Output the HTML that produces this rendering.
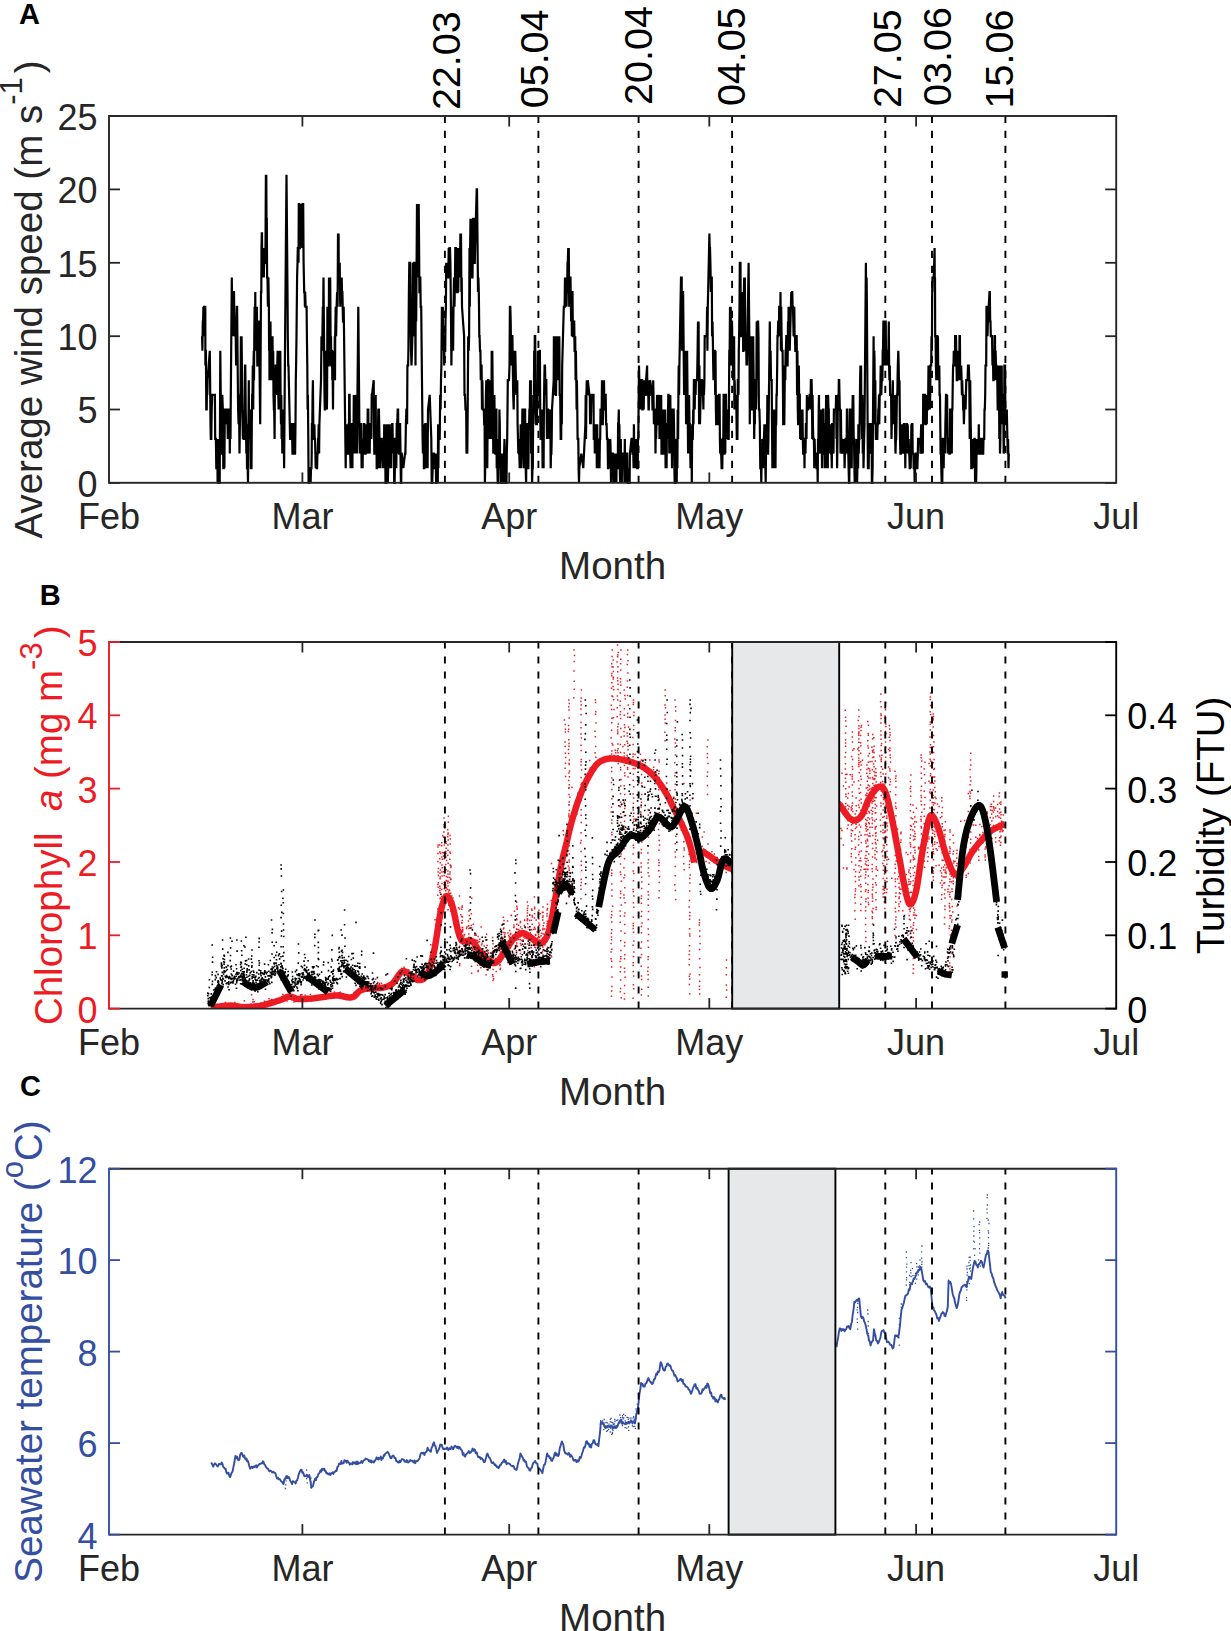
<!DOCTYPE html>
<html><head><meta charset="utf-8"><style>html,body{margin:0;padding:0;background:#fff;overflow:hidden}svg{display:block}text{font-family:"Liberation Sans",sans-serif}</style></head><body>
<svg width="1231" height="1631" viewBox="0 0 1231 1631" font-family="Liberation Sans, sans-serif">
<rect width="1231" height="1631" fill="#fff"/>
<defs><clipPath id="ca"><rect x="109.0" y="116.0" width="1007.2" height="366.8"/></clipPath>
<clipPath id="cb"><rect x="109.0" y="642.0" width="1007.2" height="366.6"/></clipPath>
<clipPath id="cc"><rect x="109.0" y="1168.7" width="1007.2" height="365.9"/></clipPath></defs>
<path d="M202.1 336.2 L202.4 350.8 L202.8 321.5 L203.1 321.5 L203.4 306.8 L203.8 336.2 L204.1 306.8 L204.4 306.8 L204.8 306.8 L205.1 306.8 L205.3 306.8 L205.4 365.5 L205.5 350.8 L205.9 350.8 L206.3 409.5 L206.7 409.5 L207.0 380.2 L207.3 394.9 L207.6 380.2 L209.8 350.8 L210.1 380.2 L210.5 424.2 L210.8 438.9 L211.3 438.9 L211.7 409.5 L212.2 394.9 L214.2 394.9 L214.6 394.9 L214.9 394.9 L215.2 438.9 L215.6 438.9 L215.9 438.9 L216.3 468.2 L216.6 468.2 L216.9 468.2 L217.3 438.9 L217.6 482.9 L217.9 438.9 L218.3 482.9 L218.8 482.9 L219.2 482.9 L219.7 482.9 L220.3 350.8 L221.3 453.6 L221.7 453.6 L222.0 438.9 L222.3 394.9 L222.8 409.5 L223.3 468.2 L223.7 468.2 L224.1 438.9 L224.4 468.2 L224.8 409.5 L226.4 409.5 L226.8 424.2 L227.3 409.5 L227.8 438.9 L228.1 409.5 L228.5 409.5 L228.8 409.5 L229.1 424.2 L229.5 409.5 L229.8 453.6 L230.2 409.5 L230.5 438.9 L230.8 394.9 L231.8 277.5 L232.1 306.8 L232.4 336.2 L232.7 321.5 L233.0 336.2 L233.3 321.5 L233.7 292.1 L234.0 292.1 L234.3 321.5 L234.7 321.5 L234.9 336.2 L235.2 321.5 L235.5 336.2 L235.7 336.2 L235.9 350.8 L236.1 365.5 L236.4 321.5 L236.8 306.8 L237.1 306.8 L238.1 409.5 L238.6 424.2 L239.1 409.5 L239.5 453.6 L239.9 424.2 L240.2 394.9 L240.5 394.9 L240.9 336.2 L241.2 350.8 L241.6 336.2 L241.9 365.5 L242.2 409.5 L242.6 424.2 L242.9 438.9 L243.2 424.2 L243.6 438.9 L244.1 438.9 L244.5 409.5 L245.0 365.5 L245.3 365.5 L245.7 409.5 L246.0 424.2 L246.3 453.6 L246.7 424.2 L247.0 468.2 L247.4 468.2 L247.7 468.2 L248.0 482.9 L248.8 380.2 L249.0 438.9 L249.3 424.2 L249.5 438.9 L249.8 424.2 L250.1 424.2 L250.5 409.5 L250.8 468.2 L251.1 468.2 L251.5 468.2 L251.8 424.2 L252.2 394.9 L252.5 394.9 L252.8 365.5 L253.2 409.5 L253.5 365.5 L253.8 350.8 L254.0 380.2 L254.3 336.2 L254.6 306.8 L255.0 336.2 L255.3 292.1 L255.5 350.8 L255.7 321.5 L255.9 350.8 L256.3 321.5 L256.6 321.5 L256.9 306.8 L257.3 365.5 L257.6 365.5 L258.0 365.5 L258.3 321.5 L258.6 321.5 L259.0 321.5 L260.2 424.2 L261.0 292.1 L261.3 292.1 L261.5 248.1 L261.8 233.4 L262.0 233.4 L262.2 262.8 L262.4 277.5 L262.7 262.8 L263.1 277.5 L263.4 248.1 L263.8 277.5 L264.1 262.8 L264.4 262.8 L264.9 262.8 L265.4 262.8 L265.9 174.7 L266.1 233.4 L266.3 174.7 L266.5 218.8 L266.8 218.8 L267.1 277.5 L267.5 277.5 L267.9 306.8 L268.4 277.5 L268.9 306.8 L269.1 350.8 L269.3 321.5 L269.5 380.2 L269.8 350.8 L270.2 365.5 L270.5 321.5 L270.8 380.2 L271.2 350.8 L271.5 365.5 L271.9 350.8 L272.2 350.8 L272.5 336.2 L272.9 380.2 L273.2 350.8 L273.5 394.9 L273.9 409.5 L274.2 409.5 L274.6 438.9 L274.9 380.2 L275.2 394.9 L275.6 365.5 L275.9 365.5 L276.2 365.5 L276.6 380.2 L276.9 394.9 L277.3 365.5 L277.6 350.8 L277.9 365.5 L278.3 394.9 L278.6 409.5 L278.9 380.2 L279.3 365.5 L279.6 350.8 L280.0 380.2 L280.3 350.8 L280.6 394.9 L281.0 424.2 L281.3 394.9 L281.6 438.9 L282.0 424.2 L282.3 453.6 L282.7 409.5 L283.1 424.2 L283.6 409.5 L284.1 468.2 L285.1 336.2 L286.5 174.7 L287.5 292.1 L287.8 336.2 L288.2 365.5 L288.5 365.5 L290.1 438.9 L290.5 438.9 L290.8 424.2 L291.2 424.2 L291.5 424.2 L291.8 424.2 L292.2 438.9 L292.5 453.6 L292.8 453.6 L293.2 424.2 L293.5 424.2 L293.9 424.2 L294.2 438.9 L294.5 453.6 L294.8 453.6 L295.1 453.6 L295.5 424.2 L295.8 380.2 L296.1 365.5 L296.5 336.2 L296.8 306.8 L297.1 277.5 L297.5 262.8 L297.8 248.1 L298.2 248.1 L298.5 262.8 L298.8 204.1 L299.2 204.1 L299.5 248.1 L299.8 248.1 L300.2 233.4 L300.5 218.8 L300.9 218.8 L301.2 204.1 L301.5 218.8 L301.9 233.4 L302.2 248.1 L302.5 204.1 L302.9 204.1 L303.2 204.1 L303.6 262.8 L303.9 277.5 L304.2 292.1 L304.6 292.1 L304.9 306.8 L305.2 292.1 L305.6 306.8 L305.9 306.8 L306.3 306.8 L306.6 306.8 L306.9 336.2 L307.3 365.5 L307.6 409.5 L307.9 394.9 L308.3 438.9 L308.6 482.9 L309.0 482.9 L309.3 468.2 L309.6 482.9 L310.0 468.2 L310.3 468.2 L310.6 482.9 L311.0 468.2 L311.3 468.2 L311.5 468.2 L311.7 453.6 L311.9 424.2 L312.3 424.2 L312.6 394.9 L312.9 380.2 L313.4 438.9 L313.9 438.9 L314.4 424.2 L314.7 438.9 L315.0 438.9 L315.4 453.6 L315.7 468.2 L316.0 453.6 L316.4 453.6 L316.7 468.2 L317.1 468.2 L317.4 453.6 L317.7 453.6 L318.1 438.9 L318.4 438.9 L318.7 424.2 L319.1 453.6 L319.4 424.2 L321.0 380.2 L321.5 336.2 L322.0 350.8 L322.4 336.2 L322.8 306.8 L323.1 321.5 L323.5 277.5 L324.5 394.9 L324.8 409.5 L325.1 409.5 L325.5 350.8 L325.8 380.2 L326.2 365.5 L326.5 380.2 L326.7 380.2 L326.9 409.5 L327.1 394.9 L327.4 306.8 L327.6 365.5 L327.9 306.8 L328.2 336.2 L328.5 365.5 L328.7 365.5 L329.0 277.5 L329.3 306.8 L329.5 277.5 L329.9 306.8 L330.2 277.5 L330.5 321.5 L330.7 365.5 L331.0 336.2 L331.2 365.5 L331.4 365.5 L331.7 350.8 L332.0 350.8 L332.3 380.2 L332.6 365.5 L333.0 409.5 L333.2 380.2 L333.4 365.5 L333.6 350.8 L333.9 365.5 L334.3 365.5 L334.6 365.5 L334.8 336.2 L335.0 380.2 L335.2 336.2 L335.7 306.8 L336.1 336.2 L336.6 306.8 L337.1 292.1 L337.6 306.8 L338.0 233.4 L338.3 248.1 L338.6 233.4 L338.8 277.5 L339.1 262.8 L339.4 277.5 L339.7 262.8 L340.0 292.1 L340.3 306.8 L340.7 292.1 L341.0 277.5 L341.3 292.1 L341.7 277.5 L342.0 292.1 L342.4 292.1 L342.7 306.8 L343.0 321.5 L343.4 321.5 L343.7 306.8 L345.7 468.2 L346.1 424.2 L346.4 453.6 L346.7 424.2 L347.1 453.6 L347.4 453.6 L347.8 438.9 L348.1 453.6 L348.4 453.6 L348.8 424.2 L349.0 424.2 L349.2 394.9 L349.4 394.9 L349.6 394.9 L349.9 453.6 L350.2 453.6 L350.6 468.2 L351.0 424.2 L351.4 424.2 L351.7 424.2 L351.9 453.6 L352.2 438.9 L352.4 468.2 L352.6 438.9 L352.8 453.6 L353.2 424.2 L353.5 438.9 L353.8 394.9 L354.2 453.6 L354.5 394.9 L354.8 438.9 L355.2 394.9 L355.5 409.5 L355.9 394.9 L356.2 453.6 L356.5 394.9 L356.9 453.6 L358.3 306.8 L359.5 438.9 L359.8 453.6 L360.0 438.9 L360.3 424.2 L360.5 438.9 L360.7 424.2 L360.9 424.2 L361.2 424.2 L361.6 468.2 L361.9 453.6 L362.3 453.6 L362.6 468.2 L362.9 438.9 L363.3 453.6 L363.6 453.6 L363.9 424.2 L364.3 424.2 L364.6 453.6 L365.0 438.9 L365.3 453.6 L365.6 453.6 L366.0 424.2 L366.3 438.9 L366.6 453.6 L367.0 438.9 L367.3 453.6 L367.7 409.5 L368.0 409.5 L368.3 409.5 L368.7 453.6 L369.0 438.9 L369.3 438.9 L369.7 453.6 L370.0 424.2 L370.4 424.2 L370.7 424.2 L371.0 424.2 L371.4 438.9 L371.7 394.9 L372.0 394.9 L373.7 380.2 L374.0 424.2 L374.3 453.6 L374.7 453.6 L375.0 453.6 L375.4 438.9 L375.7 394.9 L376.0 453.6 L376.2 453.6 L376.5 438.9 L376.7 468.2 L376.9 468.2 L377.1 453.6 L377.4 424.2 L377.8 468.2 L378.1 424.2 L378.3 409.5 L378.4 438.9 L378.5 409.5 L378.9 409.5 L379.2 424.2 L379.5 438.9 L379.7 468.2 L379.9 453.6 L380.1 453.6 L380.5 468.2 L380.8 453.6 L381.2 438.9 L381.4 438.9 L381.6 438.9 L381.8 438.9 L382.2 453.6 L382.7 453.6 L383.2 468.2 L383.5 453.6 L383.9 468.2 L384.2 424.2 L384.5 438.9 L384.8 438.9 L385.1 438.9 L385.5 482.9 L385.8 482.9 L386.1 482.9 L386.5 424.2 L386.8 482.9 L387.1 424.2 L387.5 438.9 L387.8 482.9 L388.2 468.2 L388.5 424.2 L388.8 468.2 L389.2 424.2 L389.5 468.2 L389.8 438.9 L390.2 453.6 L390.5 468.2 L390.9 453.6 L391.2 468.2 L391.5 424.2 L391.9 438.9 L392.2 424.2 L392.5 424.2 L392.9 453.6 L393.2 438.9 L393.6 438.9 L393.9 453.6 L394.2 482.9 L394.6 482.9 L394.9 468.2 L395.2 438.9 L395.6 438.9 L395.9 453.6 L396.3 468.2 L396.7 424.2 L397.2 424.2 L397.7 409.5 L398.1 409.5 L398.5 453.6 L398.9 438.9 L399.2 453.6 L399.4 453.6 L399.7 424.2 L400.1 424.2 L400.5 453.6 L400.9 482.9 L401.2 482.9 L401.5 453.6 L401.7 453.6 L403.3 468.2 L405.0 453.6 L405.4 453.6 L405.9 424.2 L406.4 409.5 L406.7 409.5 L407.1 424.2 L407.4 365.5 L407.7 365.5 L408.1 365.5 L408.4 350.8 L408.9 292.1 L409.3 262.8 L409.8 262.8 L410.2 262.8 L410.6 321.5 L411.0 350.8 L411.5 365.5 L412.0 350.8 L412.4 336.2 L412.9 262.8 L413.4 336.2 L413.9 262.8 L414.1 262.8 L414.4 262.8 L414.7 277.5 L414.9 277.5 L415.2 306.8 L415.5 365.5 L415.8 277.5 L416.2 321.5 L416.5 277.5 L417.0 204.1 L417.4 277.5 L417.9 204.1 L418.3 233.4 L418.7 204.1 L419.1 248.1 L419.4 292.1 L419.7 292.1 L419.9 277.5 L420.3 277.5 L420.7 306.8 L421.2 306.8 L422.6 438.9 L422.9 453.6 L423.2 438.9 L423.6 424.2 L423.9 468.2 L424.3 468.2 L424.6 453.6 L424.9 468.2 L425.3 424.2 L425.6 424.2 L425.9 453.6 L426.3 468.2 L426.6 453.6 L427.1 438.9 L427.6 468.2 L428.0 409.5 L429.7 394.9 L431.3 438.9 L431.7 482.9 L432.2 482.9 L432.7 468.2 L433.0 453.6 L433.4 468.2 L433.7 453.6 L434.0 453.6 L434.4 468.2 L434.7 468.2 L435.1 453.6 L435.4 468.2 L435.7 453.6 L436.1 482.9 L436.4 482.9 L436.7 468.2 L437.1 468.2 L437.4 468.2 L437.8 482.9 L438.1 424.2 L438.4 468.2 L438.8 424.2 L439.2 438.9 L439.7 438.9 L440.2 394.9 L440.6 409.5 L441.0 380.2 L441.4 365.5 L441.9 306.8 L442.3 350.8 L442.8 306.8 L443.2 350.8 L443.5 336.2 L443.8 336.2 L444.2 365.5 L444.5 336.2 L444.8 350.8 L445.2 350.8 L445.5 321.5 L445.9 306.8 L446.2 262.8 L446.5 277.5 L446.9 262.8 L447.3 277.5 L447.8 277.5 L448.3 277.5 L448.7 248.1 L449.1 262.8 L449.5 248.1 L450.0 248.1 L450.4 262.8 L450.9 306.8 L451.4 365.5 L451.9 321.5 L452.3 350.8 L452.7 306.8 L453.1 350.8 L453.5 306.8 L454.0 277.5 L454.5 306.8 L455.0 277.5 L455.3 248.1 L455.6 248.1 L456.0 248.1 L456.3 292.1 L456.6 262.8 L457.0 292.1 L457.3 292.1 L457.7 292.1 L458.0 248.1 L458.3 292.1 L458.7 248.1 L459.0 277.5 L459.3 262.8 L459.7 277.5 L460.0 262.8 L460.4 233.4 L460.7 262.8 L461.0 233.4 L461.4 292.1 L461.7 277.5 L462.0 306.8 L464.1 336.2 L464.5 394.9 L465.0 394.9 L465.5 409.5 L465.8 409.5 L466.2 409.5 L466.5 453.6 L466.9 438.9 L467.3 453.6 L467.7 409.5 L468.2 336.2 L468.7 350.8 L469.1 336.2 L469.5 248.1 L469.8 306.8 L470.1 248.1 L470.5 218.8 L470.8 233.4 L471.2 218.8 L471.5 262.8 L471.8 248.1 L472.2 277.5 L472.5 277.5 L472.8 248.1 L473.2 218.8 L473.5 218.8 L473.9 218.8 L474.2 248.1 L474.5 262.8 L474.8 262.8 L475.1 248.1 L476.7 189.4 L477.0 189.4 L477.3 218.8 L477.6 248.1 L478.0 292.1 L478.4 277.5 L478.8 292.1 L479.0 306.8 L479.3 336.2 L479.6 336.2 L480.0 350.8 L480.4 350.8 L480.8 380.2 L481.1 365.5 L481.3 365.5 L481.6 365.5 L482.0 409.5 L482.4 380.2 L482.8 409.5 L483.3 409.5 L483.8 409.5 L484.2 424.2 L484.6 424.2 L484.9 482.9 L485.2 468.2 L485.6 424.2 L485.9 394.9 L486.3 380.2 L486.6 468.2 L486.9 380.2 L487.3 468.2 L487.6 424.2 L487.9 380.2 L488.3 380.2 L488.6 438.9 L489.0 394.9 L489.3 438.9 L489.6 424.2 L490.0 424.2 L490.3 380.2 L490.6 438.9 L491.0 424.2 L491.3 438.9 L491.7 350.8 L492.0 409.5 L492.3 350.8 L493.3 453.6 L493.7 438.9 L494.0 438.9 L494.4 394.9 L494.7 424.2 L495.0 438.9 L495.4 453.6 L495.7 453.6 L496.0 409.5 L496.4 409.5 L496.7 468.2 L497.1 438.9 L497.4 468.2 L497.7 482.9 L498.1 482.9 L498.4 453.6 L498.7 438.9 L499.1 453.6 L499.4 409.5 L499.8 424.2 L500.1 468.2 L500.4 453.6 L500.8 482.9 L501.1 482.9 L501.4 482.9 L501.8 482.9 L502.1 468.2 L502.4 453.6 L502.8 468.2 L503.1 482.9 L503.5 482.9 L503.8 468.2 L504.1 453.6 L504.5 438.9 L504.8 453.6 L505.1 482.9 L505.5 468.2 L505.8 482.9 L506.2 482.9 L506.5 482.9 L506.8 453.6 L507.2 438.9 L507.5 409.5 L507.8 380.2 L508.2 380.2 L508.5 380.2 L509.0 380.2 L509.5 365.5 L509.9 306.8 L510.3 306.8 L510.7 321.5 L511.2 365.5 L511.4 336.2 L511.7 365.5 L512.0 336.2 L512.4 336.2 L512.8 365.5 L513.2 394.9 L513.7 409.5 L514.1 380.2 L514.6 350.8 L514.9 380.2 L515.3 350.8 L515.6 365.5 L515.9 380.2 L516.3 394.9 L516.6 380.2 L517.0 394.9 L517.3 380.2 L517.6 424.2 L518.0 438.9 L518.3 453.6 L518.6 438.9 L519.0 453.6 L519.3 453.6 L519.7 468.2 L520.0 438.9 L520.3 453.6 L520.7 424.2 L521.0 438.9 L521.3 468.2 L521.7 453.6 L522.0 438.9 L522.4 409.5 L522.7 409.5 L523.0 409.5 L523.4 409.5 L523.7 453.6 L524.0 468.2 L524.4 424.2 L524.7 409.5 L525.1 409.5 L525.4 438.9 L525.7 468.2 L526.1 482.9 L526.4 453.6 L526.7 424.2 L527.1 424.2 L527.4 468.2 L527.8 468.2 L528.1 468.2 L528.4 468.2 L528.8 424.2 L529.1 424.2 L529.4 409.5 L529.8 409.5 L530.1 380.2 L530.5 424.2 L530.8 380.2 L531.1 453.6 L531.5 394.9 L531.8 453.6 L532.1 482.9 L532.5 468.2 L532.8 468.2 L533.2 409.5 L533.5 424.2 L533.8 409.5 L534.2 350.8 L534.5 380.2 L534.8 336.2 L535.2 336.2 L535.5 394.9 L535.9 409.5 L536.2 424.2 L536.5 424.2 L536.9 424.2 L537.2 394.9 L537.5 409.5 L537.9 350.8 L538.2 394.9 L538.5 394.9 L538.9 380.2 L539.2 380.2 L539.6 350.8 L539.9 350.8 L540.2 409.5 L540.6 438.9 L540.9 438.9 L541.2 424.2 L541.6 424.2 L541.9 409.5 L542.3 424.2 L542.6 468.2 L542.9 453.6 L543.3 453.6 L543.6 468.2 L543.9 409.5 L544.3 380.2 L544.6 365.5 L545.0 365.5 L545.3 380.2 L545.6 394.9 L546.0 380.2 L546.3 380.2 L546.6 409.5 L547.0 438.9 L547.3 424.2 L547.7 409.5 L548.0 409.5 L548.3 424.2 L548.7 409.5 L549.0 424.2 L549.3 438.9 L549.7 424.2 L550.0 409.5 L550.4 424.2 L550.7 468.2 L551.0 453.6 L551.4 453.6 L551.7 438.9 L552.0 409.5 L553.7 380.2 L553.9 336.2 L554.2 394.9 L554.5 336.2 L554.9 394.9 L555.3 336.2 L555.7 394.9 L556.0 394.9 L556.2 380.2 L556.5 336.2 L556.9 380.2 L557.3 336.2 L557.7 380.2 L558.0 350.8 L558.3 350.8 L558.5 336.2 L558.9 380.2 L559.3 336.2 L559.7 394.9 L560.2 394.9 L560.7 438.9 L561.2 438.9 L561.5 394.9 L561.8 424.2 L562.2 365.5 L563.8 306.8 L564.2 306.8 L564.6 306.8 L565.0 277.5 L565.0 306.8 L565.1 292.1 L565.1 306.8 L565.5 292.1 L565.8 292.1 L566.1 277.5 L566.5 306.8 L566.8 292.1 L567.1 292.1 L567.5 262.8 L567.8 262.8 L568.2 248.1 L568.5 277.5 L568.8 248.1 L569.2 306.8 L569.5 292.1 L569.8 277.5 L570.2 277.5 L570.5 277.5 L570.9 306.8 L571.2 321.5 L571.5 292.1 L571.9 336.2 L572.2 292.1 L572.5 292.1 L572.9 336.2 L573.2 336.2 L573.6 321.5 L573.9 321.5 L574.2 321.5 L574.6 350.8 L574.9 350.8 L575.2 336.2 L575.6 380.2 L575.9 350.8 L576.3 380.2 L576.6 409.5 L576.9 380.2 L577.3 409.5 L577.6 438.9 L577.9 438.9 L578.3 438.9 L578.6 468.2 L579.0 482.9 L579.3 468.2 L581.3 453.6 L583.3 468.2 L585.4 424.2 L585.7 394.9 L586.0 438.9 L586.4 394.9 L586.8 380.2 L587.3 394.9 L587.8 380.2 L589.4 394.9 L589.8 394.9 L590.1 424.2 L590.4 409.5 L590.8 424.2 L591.1 409.5 L591.4 394.9 L593.5 394.9 L593.8 438.9 L594.1 438.9 L594.5 424.2 L594.8 453.6 L595.1 438.9 L595.5 438.9 L595.8 424.2 L596.2 453.6 L596.5 424.2 L596.8 468.2 L597.2 424.2 L597.5 453.6 L597.8 438.9 L598.2 468.2 L598.5 438.9 L598.9 453.6 L599.2 453.6 L599.5 468.2 L599.9 438.9 L600.2 438.9 L600.5 409.5 L601.0 409.5 L601.5 424.2 L602.0 380.2 L602.4 424.2 L602.8 424.2 L603.2 409.5 L603.4 394.9 L603.7 409.5 L604.0 380.2 L604.4 409.5 L604.8 409.5 L605.2 394.9 L605.7 394.9 L606.1 424.2 L606.6 424.2 L607.0 438.9 L607.3 438.9 L607.6 438.9 L608.0 468.2 L608.3 468.2 L608.6 453.6 L609.0 453.6 L609.3 468.2 L609.7 438.9 L610.0 468.2 L610.3 438.9 L610.7 453.6 L611.0 482.9 L611.3 468.2 L611.7 468.2 L612.0 468.2 L612.4 468.2 L612.7 453.6 L613.0 453.6 L613.4 482.9 L613.7 468.2 L614.0 453.6 L614.4 468.2 L614.7 453.6 L615.1 482.9 L615.4 453.6 L615.7 482.9 L616.1 468.2 L616.4 482.9 L616.7 453.6 L617.1 468.2 L617.4 468.2 L617.8 468.2 L618.1 424.2 L618.4 424.2 L618.8 409.5 L619.1 453.6 L619.4 424.2 L619.8 468.2 L620.1 482.9 L620.5 453.6 L620.8 438.9 L621.1 468.2 L621.5 468.2 L621.8 482.9 L622.1 453.6 L622.5 468.2 L622.8 453.6 L623.2 453.6 L623.5 468.2 L623.8 468.2 L624.2 468.2 L624.5 482.9 L624.8 438.9 L625.2 468.2 L625.5 453.6 L625.9 468.2 L626.2 468.2 L626.5 482.9 L626.9 453.6 L627.2 453.6 L627.5 482.9 L627.9 482.9 L628.2 482.9 L628.5 482.9 L628.9 468.2 L629.2 482.9 L629.6 482.9 L629.9 453.6 L631.5 438.9 L632.0 438.9 L632.5 453.6 L632.9 453.6 L633.3 453.6 L633.6 468.2 L633.9 424.2 L634.3 453.6 L634.6 468.2 L635.0 453.6 L635.3 438.9 L635.6 468.2 L636.0 438.9 L636.3 453.6 L636.6 453.6 L637.0 453.6 L637.3 468.2 L637.7 468.2 L638.0 438.9 L638.3 438.9 L638.7 394.9 L639.0 365.5 L639.3 380.2 L639.7 380.2 L640.0 380.2 L640.4 394.9 L640.7 409.5 L641.0 394.9 L641.4 380.2 L641.7 380.2 L642.0 380.2 L642.4 409.5 L642.7 409.5 L643.1 394.9 L643.4 394.9 L643.7 409.5 L644.1 380.2 L644.4 394.9 L644.7 394.9 L645.1 394.9 L647.1 365.5 L647.4 394.9 L647.8 394.9 L648.1 380.2 L648.5 409.5 L648.8 409.5 L649.1 394.9 L649.5 394.9 L649.8 394.9 L650.1 380.2 L652.2 394.9 L652.5 409.5 L652.8 409.5 L653.2 380.2 L653.5 394.9 L653.9 424.2 L654.2 409.5 L654.5 409.5 L654.8 424.2 L655.1 409.5 L655.5 453.6 L655.8 424.2 L656.1 438.9 L656.5 424.2 L656.8 409.5 L657.1 394.9 L657.5 409.5 L657.8 394.9 L658.2 424.2 L658.5 424.2 L658.8 409.5 L659.2 394.9 L659.5 438.9 L659.8 409.5 L660.2 424.2 L660.5 409.5 L660.9 409.5 L661.2 394.9 L661.5 453.6 L661.9 453.6 L662.2 438.9 L662.5 409.5 L662.9 453.6 L663.2 409.5 L663.6 453.6 L663.9 453.6 L664.2 438.9 L664.6 453.6 L664.9 453.6 L665.2 409.5 L665.6 468.2 L665.9 453.6 L666.3 453.6 L666.6 468.2 L666.9 424.2 L667.3 424.2 L667.6 438.9 L667.9 424.2 L668.3 394.9 L668.6 394.9 L669.0 424.2 L669.3 453.6 L669.6 438.9 L670.0 409.5 L670.3 394.9 L670.6 424.2 L671.0 409.5 L671.3 453.6 L671.7 438.9 L672.0 468.2 L672.3 409.5 L672.7 409.5 L673.0 409.5 L673.3 409.5 L673.7 409.5 L674.0 424.2 L674.4 468.2 L674.7 482.9 L675.0 482.9 L675.4 482.9 L675.7 482.9 L676.0 453.6 L676.4 438.9 L676.7 482.9 L677.1 438.9 L677.4 468.2 L677.7 409.5 L678.1 438.9 L678.4 394.9 L678.7 365.5 L679.1 394.9 L679.4 365.5 L681.0 277.5 L681.4 277.5 L681.7 277.5 L682.0 350.8 L682.4 306.8 L682.7 292.1 L683.1 292.1 L684.1 394.9 L684.4 380.2 L684.7 394.9 L685.1 350.8 L685.4 394.9 L685.8 380.2 L686.1 424.2 L686.4 380.2 L686.8 409.5 L687.1 350.8 L688.1 453.6 L688.5 409.5 L688.8 409.5 L689.1 394.9 L689.5 424.2 L689.8 424.2 L690.1 438.9 L690.5 468.2 L690.8 438.9 L691.2 468.2 L691.5 438.9 L691.8 482.9 L692.2 424.2 L692.5 438.9 L692.8 438.9 L693.2 409.5 L693.5 424.2 L693.9 380.2 L694.2 380.2 L694.7 409.5 L695.1 380.2 L695.6 394.9 L695.9 380.2 L696.3 380.2 L696.6 380.2 L697.1 380.2 L697.6 350.8 L698.0 321.5 L698.3 365.5 L698.6 321.5 L698.8 365.5 L699.1 424.2 L699.4 365.5 L699.7 409.5 L700.0 424.2 L700.3 409.5 L700.7 394.9 L701.0 394.9 L701.3 380.2 L701.7 380.2 L702.0 380.2 L702.4 394.9 L702.7 394.9 L703.0 394.9 L703.4 409.5 L703.7 380.2 L704.0 394.9 L704.4 380.2 L704.7 336.2 L706.7 336.2 L707.1 306.8 L707.4 350.8 L707.8 306.8 L709.4 233.4 L709.7 248.1 L710.0 248.1 L710.4 262.8 L710.9 292.1 L711.3 277.5 L711.8 277.5 L712.1 336.2 L712.5 321.5 L712.8 336.2 L713.2 365.5 L713.5 380.2 L713.8 365.5 L714.2 380.2 L714.5 350.8 L714.8 350.8 L715.2 394.9 L715.5 350.8 L715.9 409.5 L716.2 424.2 L716.5 424.2 L716.9 394.9 L717.2 424.2 L717.5 409.5 L717.9 424.2 L718.2 424.2 L718.5 424.2 L718.9 394.9 L719.2 394.9 L719.6 394.9 L719.9 438.9 L720.2 453.6 L720.6 438.9 L720.9 453.6 L721.2 453.6 L721.6 468.2 L721.9 468.2 L722.3 468.2 L722.6 438.9 L722.9 438.9 L723.3 438.9 L723.6 394.9 L723.9 394.9 L724.3 453.6 L724.6 453.6 L725.0 438.9 L725.3 453.6 L725.6 394.9 L726.0 394.9 L726.3 424.2 L726.6 424.2 L727.0 409.5 L727.3 438.9 L727.7 424.2 L728.0 424.2 L728.3 438.9 L728.7 438.9 L729.0 394.9 L729.3 350.8 L729.7 350.8 L730.0 306.8 L730.4 350.8 L730.7 306.8 L731.0 350.8 L731.4 365.5 L731.7 321.5 L732.0 321.5 L732.4 350.8 L732.7 336.2 L733.1 380.2 L733.4 336.2 L733.7 350.8 L734.1 336.2 L734.4 409.5 L734.7 380.2 L735.1 409.5 L735.4 394.9 L735.8 409.5 L736.1 394.9 L736.4 409.5 L736.8 438.9 L737.1 438.9 L737.4 438.9 L737.8 380.2 L738.1 380.2 L738.5 394.9 L738.8 350.8 L739.1 336.2 L739.5 306.8 L739.8 262.8 L740.1 262.8 L740.5 262.8 L740.8 336.2 L741.2 336.2 L741.5 321.5 L741.8 321.5 L742.2 292.1 L742.5 336.2 L742.8 306.8 L743.2 350.8 L743.5 350.8 L743.9 292.1 L744.2 277.5 L744.5 292.1 L744.8 277.5 L745.1 306.8 L745.5 350.8 L745.8 336.2 L746.1 336.2 L746.5 365.5 L746.8 350.8 L747.1 365.5 L748.6 262.8 L749.6 365.5 L749.8 424.2 L750.0 394.9 L750.2 409.5 L750.5 394.9 L750.9 365.5 L751.2 336.2 L751.5 365.5 L751.9 409.5 L752.2 409.5 L752.5 380.2 L752.9 394.9 L753.2 336.2 L754.2 438.9 L754.6 409.5 L754.9 424.2 L755.2 380.2 L755.6 380.2 L755.9 409.5 L756.3 394.9 L756.7 321.5 L757.2 380.2 L757.7 321.5 L758.1 321.5 L758.5 336.2 L758.9 409.5 L759.4 409.5 L759.8 424.2 L760.3 468.2 L760.6 468.2 L761.0 468.2 L761.3 482.9 L761.7 453.6 L762.0 468.2 L762.3 438.9 L762.7 468.2 L763.0 438.9 L763.3 468.2 L763.7 438.9 L764.0 438.9 L764.4 424.2 L764.7 438.9 L765.0 424.2 L765.4 468.2 L765.7 482.9 L766.0 453.6 L766.4 424.2 L766.7 438.9 L767.1 424.2 L767.4 394.9 L767.7 453.6 L768.1 453.6 L768.4 438.9 L769.8 321.5 L770.2 365.5 L770.6 350.8 L771.0 380.2 L771.4 380.2 L771.7 380.2 L772.0 424.2 L772.4 468.2 L772.7 424.2 L773.1 453.6 L773.4 468.2 L773.7 453.6 L774.1 409.5 L774.5 453.6 L775.0 438.9 L775.5 468.2 L775.8 424.2 L776.2 424.2 L776.5 394.9 L776.8 394.9 L777.2 365.5 L777.5 336.2 L777.8 336.2 L778.2 321.5 L778.5 321.5 L778.9 336.2 L779.2 306.8 L779.5 306.8 L779.9 306.8 L780.2 321.5 L780.5 292.1 L780.9 350.8 L781.2 306.8 L781.6 336.2 L781.9 350.8 L782.2 350.8 L782.6 350.8 L782.9 380.2 L783.2 424.2 L783.6 424.2 L783.9 424.2 L784.3 424.2 L784.6 394.9 L784.9 365.5 L785.3 380.2 L785.6 350.8 L785.9 350.8 L786.3 336.2 L786.6 336.2 L787.0 350.8 L787.3 365.5 L787.6 365.5 L788.0 321.5 L788.3 336.2 L788.6 306.8 L789.0 321.5 L789.3 321.5 L789.7 350.8 L791.3 292.1 L791.6 306.8 L792.0 292.1 L792.3 292.1 L792.6 306.8 L793.0 306.8 L793.3 321.5 L793.6 336.2 L794.0 321.5 L794.3 306.8 L794.6 336.2 L795.0 336.2 L795.3 350.8 L795.8 350.8 L796.3 336.2 L796.7 336.2 L797.1 394.9 L797.4 350.8 L797.8 409.5 L798.1 424.2 L798.4 424.2 L798.8 365.5 L799.1 394.9 L799.4 394.9 L799.8 394.9 L800.1 438.9 L800.5 424.2 L800.8 424.2 L801.1 438.9 L801.5 438.9 L801.8 409.5 L802.1 438.9 L802.5 409.5 L802.8 438.9 L803.2 453.6 L803.5 453.6 L803.8 453.6 L804.2 438.9 L804.5 468.2 L804.8 438.9 L805.2 438.9 L805.5 453.6 L805.9 424.2 L806.2 424.2 L806.5 438.9 L806.9 394.9 L807.2 409.5 L807.5 409.5 L807.9 409.5 L809.5 394.9 L810.0 394.9 L810.4 409.5 L810.9 380.2 L811.2 380.2 L811.6 380.2 L811.9 394.9 L812.3 438.9 L812.6 394.9 L812.9 424.2 L813.3 438.9 L813.6 438.9 L813.9 438.9 L814.3 468.2 L814.6 438.9 L815.0 453.6 L815.3 453.6 L815.6 453.6 L816.0 453.6 L816.3 453.6 L816.6 468.2 L817.0 468.2 L817.3 453.6 L817.7 482.9 L818.0 438.9 L818.3 453.6 L818.7 409.5 L819.0 394.9 L819.3 453.6 L819.7 438.9 L820.0 453.6 L820.4 409.5 L820.7 453.6 L821.0 409.5 L821.4 453.6 L821.7 424.2 L822.0 468.2 L822.4 409.5 L822.7 438.9 L823.1 409.5 L823.4 409.5 L823.7 453.6 L824.1 453.6 L824.4 438.9 L824.7 468.2 L825.1 424.2 L825.4 424.2 L825.8 438.9 L826.1 394.9 L826.4 468.2 L826.8 424.2 L827.1 468.2 L827.4 394.9 L827.8 468.2 L828.1 394.9 L828.5 409.5 L828.8 409.5 L829.1 453.6 L829.5 424.2 L829.8 438.9 L830.1 424.2 L830.5 453.6 L830.8 438.9 L831.2 453.6 L831.5 453.6 L831.8 468.2 L832.2 424.2 L832.5 424.2 L832.8 453.6 L833.2 438.9 L833.5 453.6 L833.9 409.5 L834.2 409.5 L834.5 409.5 L834.8 409.5 L835.1 409.5 L835.5 409.5 L835.8 409.5 L836.1 394.9 L836.5 438.9 L836.8 424.2 L837.1 468.2 L837.5 438.9 L837.8 409.5 L838.2 394.9 L838.5 409.5 L838.8 380.2 L839.2 380.2 L839.5 394.9 L839.8 409.5 L840.2 409.5 L840.5 453.6 L840.9 409.5 L841.2 438.9 L841.5 438.9 L841.9 453.6 L842.2 438.9 L842.5 453.6 L842.9 438.9 L843.2 453.6 L843.6 438.9 L843.9 453.6 L844.2 438.9 L844.6 468.2 L844.9 453.6 L845.2 453.6 L845.6 438.9 L845.9 438.9 L846.3 438.9 L846.6 453.6 L846.9 409.5 L847.3 409.5 L847.6 453.6 L847.9 438.9 L848.3 453.6 L848.6 468.2 L849.0 482.9 L849.3 482.9 L849.6 438.9 L850.0 409.5 L850.3 409.5 L850.6 468.2 L851.0 438.9 L851.3 453.6 L851.7 468.2 L852.0 424.2 L852.3 424.2 L852.7 394.9 L853.0 424.2 L853.3 394.9 L853.7 438.9 L854.0 438.9 L854.4 468.2 L854.7 482.9 L855.0 468.2 L855.4 482.9 L855.7 453.6 L856.0 453.6 L856.4 438.9 L856.7 453.6 L857.1 482.9 L857.4 468.2 L857.7 453.6 L858.1 468.2 L858.4 424.2 L858.7 453.6 L859.1 438.9 L859.4 438.9 L859.8 409.5 L860.1 380.2 L860.4 365.5 L860.8 380.2 L861.1 365.5 L861.4 424.2 L861.8 409.5 L862.1 438.9 L862.4 394.9 L862.8 453.6 L863.1 424.2 L863.5 468.2 L863.8 453.6 L864.1 438.9 L864.5 424.2 L865.9 262.8 L866.2 321.5 L866.6 277.5 L866.9 306.8 L867.9 468.2 L868.3 468.2 L868.7 468.2 L869.1 424.2 L869.6 424.2 L870.1 453.6 L870.5 438.9 L870.9 424.2 L871.2 424.2 L871.6 424.2 L871.9 482.9 L872.2 482.9 L872.6 468.2 L873.6 336.2 L873.9 380.2 L874.3 350.8 L874.6 365.5 L874.9 424.2 L875.3 380.2 L875.6 424.2 L875.9 438.9 L876.3 438.9 L876.6 438.9 L877.0 438.9 L877.3 438.9 L877.6 424.2 L878.0 424.2 L878.3 409.5 L878.6 409.5 L879.0 394.9 L879.3 424.2 L879.7 394.9 L880.0 394.9 L880.3 394.9 L880.7 365.5 L881.0 380.2 L881.3 394.9 L881.7 380.2 L882.0 380.2 L882.4 380.2 L882.7 350.8 L883.0 350.8 L883.4 321.5 L883.7 321.5 L884.0 321.5 L884.4 365.5 L884.7 350.8 L885.1 350.8 L885.4 321.5 L885.7 321.5 L886.1 365.5 L886.4 350.8 L886.7 350.8 L887.1 365.5 L887.4 350.8 L887.8 350.8 L888.1 350.8 L888.4 350.8 L888.8 321.5 L889.1 365.5 L889.4 380.2 L889.8 365.5 L890.1 394.9 L890.5 394.9 L890.8 394.9 L891.1 394.9 L891.5 438.9 L891.8 424.2 L892.1 394.9 L892.5 394.9 L892.8 380.2 L893.2 409.5 L893.5 424.2 L893.8 409.5 L894.2 409.5 L894.5 424.2 L894.8 394.9 L895.2 438.9 L895.5 453.6 L895.9 438.9 L896.2 438.9 L896.5 424.2 L896.9 394.9 L897.3 394.9 L897.8 365.5 L898.3 350.8 L898.7 365.5 L899.1 394.9 L899.5 380.2 L900.0 438.9 L900.4 453.6 L900.9 453.6 L901.2 438.9 L901.6 453.6 L901.9 424.2 L902.3 438.9 L902.6 453.6 L902.9 438.9 L903.3 453.6 L903.6 438.9 L903.9 424.2 L904.3 424.2 L904.6 438.9 L905.0 438.9 L905.3 468.2 L905.6 438.9 L906.0 453.6 L906.3 438.9 L906.6 424.2 L907.0 424.2 L907.3 453.6 L907.7 424.2 L908.0 438.9 L908.3 453.6 L908.7 438.9 L909.0 453.6 L909.3 453.6 L909.7 468.2 L910.0 468.2 L910.4 453.6 L910.7 468.2 L911.0 453.6 L911.4 424.2 L911.7 438.9 L912.0 424.2 L912.4 424.2 L912.7 453.6 L913.1 453.6 L913.4 453.6 L913.7 468.2 L914.1 468.2 L914.4 468.2 L914.7 482.9 L915.1 468.2 L915.4 453.6 L915.8 468.2 L916.1 453.6 L916.4 453.6 L916.8 453.6 L917.1 468.2 L917.4 468.2 L917.8 453.6 L918.1 438.9 L920.1 438.9 L920.5 453.6 L920.8 438.9 L921.2 424.2 L921.5 438.9 L921.8 453.6 L922.2 438.9 L922.5 438.9 L922.8 453.6 L923.2 394.9 L923.5 394.9 L923.9 424.2 L924.2 409.5 L924.5 409.5 L924.8 394.9 L925.1 394.9 L925.5 424.2 L925.8 424.2 L926.1 409.5 L926.5 394.9 L926.8 424.2 L927.1 394.9 L927.5 409.5 L927.8 409.5 L928.2 394.9 L928.5 365.5 L928.8 380.2 L929.2 365.5 L929.5 380.2 L929.8 409.5 L930.2 394.9 L930.5 365.5 L930.9 365.5 L931.2 365.5 L931.5 336.2 L931.9 350.8 L932.2 292.1 L932.5 277.5 L932.9 277.5 L933.2 277.5 L933.7 277.5 L934.2 262.8 L934.6 248.1 L934.8 292.1 L935.0 277.5 L935.2 336.2 L935.6 336.2 L935.9 365.5 L936.3 380.2 L936.6 365.5 L936.9 336.2 L937.3 336.2 L937.6 365.5 L937.9 336.2 L938.3 380.2 L938.6 365.5 L939.0 380.2 L939.3 365.5 L939.6 394.9 L940.0 394.9 L940.3 424.2 L940.6 453.6 L941.0 453.6 L941.3 468.2 L941.7 482.9 L942.0 482.9 L942.3 482.9 L942.7 438.9 L943.0 438.9 L943.3 438.9 L943.7 468.2 L944.0 438.9 L944.4 453.6 L944.7 438.9 L945.0 453.6 L945.4 424.2 L945.7 409.5 L946.0 394.9 L946.4 394.9 L946.7 409.5 L947.1 394.9 L947.4 424.2 L947.7 453.6 L948.1 438.9 L948.4 438.9 L948.7 453.6 L949.1 438.9 L949.4 453.6 L949.8 453.6 L950.1 409.5 L950.4 409.5 L950.8 409.5 L951.1 453.6 L951.4 438.9 L951.8 453.6 L952.1 409.5 L952.4 409.5 L952.8 380.2 L953.1 365.5 L953.5 365.5 L953.8 350.8 L954.1 365.5 L954.5 350.8 L954.7 365.5 L954.9 365.5 L955.1 336.2 L955.6 336.2 L956.0 336.2 L956.5 365.5 L956.8 380.2 L957.2 380.2 L957.5 350.8 L957.8 365.5 L958.2 350.8 L958.5 365.5 L958.9 365.5 L959.2 380.2 L959.5 336.2 L959.9 336.2 L960.2 380.2 L960.5 365.5 L960.9 380.2 L961.2 365.5 L961.6 380.2 L961.9 394.9 L962.2 380.2 L962.6 394.9 L962.9 394.9 L963.2 409.5 L963.6 409.5 L963.9 424.2 L964.3 409.5 L964.6 394.9 L964.9 409.5 L965.3 394.9 L965.6 409.5 L965.9 394.9 L966.3 380.2 L966.6 380.2 L967.1 380.2 L967.6 380.2 L968.0 365.5 L968.4 365.5 L968.8 365.5 L969.3 380.2 L969.7 438.9 L970.2 380.2 L970.7 424.2 L971.0 438.9 L971.3 468.2 L971.7 468.2 L972.0 453.6 L972.4 468.2 L972.7 438.9 L973.0 468.2 L973.4 453.6 L973.7 453.6 L974.0 468.2 L974.4 438.9 L974.7 438.9 L975.1 482.9 L975.4 468.2 L975.7 468.2 L976.1 482.9 L976.4 468.2 L976.7 438.9 L977.1 453.6 L977.4 453.6 L977.8 453.6 L978.1 438.9 L978.4 453.6 L978.8 424.2 L979.1 453.6 L979.4 453.6 L979.8 438.9 L980.1 438.9 L980.5 438.9 L980.8 453.6 L981.1 453.6 L981.5 438.9 L981.8 438.9 L982.1 453.6 L982.5 438.9 L982.8 453.6 L983.2 453.6 L983.5 438.9 L983.8 438.9 L984.2 438.9 L984.5 409.5 L984.8 409.5 L985.2 394.9 L985.5 365.5 L985.9 365.5 L986.2 365.5 L986.5 306.8 L986.9 306.8 L987.2 321.5 L987.5 336.2 L987.9 321.5 L989.5 292.1 L989.8 292.1 L990.2 321.5 L990.5 321.5 L990.8 336.2 L991.2 336.2 L991.5 336.2 L992.0 336.2 L992.5 365.5 L992.9 350.8 L993.3 380.2 L993.6 380.2 L993.9 365.5 L994.3 380.2 L994.6 336.2 L995.0 336.2 L995.3 380.2 L995.6 350.8 L996.0 365.5 L996.3 365.5 L996.6 380.2 L997.0 365.5 L997.3 380.2 L997.7 409.5 L998.0 409.5 L998.3 380.2 L998.7 394.9 L999.0 365.5 L999.3 438.9 L999.7 409.5 L1000.0 453.6 L1000.4 438.9 L1000.7 394.9 L1001.0 365.5 L1001.4 380.2 L1001.7 365.5 L1002.0 424.2 L1002.4 409.5 L1002.7 394.9 L1003.1 394.9 L1003.4 424.2 L1003.7 453.6 L1004.1 438.9 L1004.4 365.5 L1004.7 365.5 L1005.1 365.5 L1005.4 424.2 L1005.8 424.2 L1006.1 409.5 L1006.4 424.2 L1006.8 409.5 L1007.1 424.2 L1007.4 438.9 L1007.8 453.6 L1008.1 438.9 L1008.5 468.2 L1008.8 453.6 L1009.1 453.6" fill="none" stroke="#000" stroke-width="2.2" stroke-linejoin="miter" stroke-miterlimit="3"/>
<line x1="444.9" y1="482.9" x2="444.9" y2="116.0" stroke="#000" stroke-width="1.9" stroke-dasharray="7.2 7.8"/>
<line x1="538.4" y1="482.9" x2="538.4" y2="116.0" stroke="#000" stroke-width="1.9" stroke-dasharray="7.2 7.8"/>
<line x1="638.6" y1="482.9" x2="638.6" y2="116.0" stroke="#000" stroke-width="1.9" stroke-dasharray="7.2 7.8"/>
<line x1="732.1" y1="482.9" x2="732.1" y2="116.0" stroke="#000" stroke-width="1.9" stroke-dasharray="7.2 7.8"/>
<line x1="885.3" y1="482.9" x2="885.3" y2="116.0" stroke="#000" stroke-width="1.9" stroke-dasharray="7.2 7.8"/>
<line x1="932.0" y1="482.9" x2="932.0" y2="116.0" stroke="#000" stroke-width="1.9" stroke-dasharray="7.2 7.8"/>
<line x1="1005.4" y1="482.9" x2="1005.4" y2="116.0" stroke="#000" stroke-width="1.9" stroke-dasharray="7.2 7.8"/>
<rect x="109.0" y="116.0" width="1007.2" height="366.8" fill="none" stroke="#262626" stroke-width="1.9"/>
<text x="109.0" y="528.9" text-anchor="middle" font-size="36.0" fill="#262626">Feb</text>
<line x1="302.4" y1="482.9" x2="302.4" y2="472.4" stroke="#262626" stroke-width="1.8"/>
<line x1="302.4" y1="116.0" x2="302.4" y2="126.5" stroke="#262626" stroke-width="1.8"/>
<text x="302.4" y="528.9" text-anchor="middle" font-size="36.0" fill="#262626">Mar</text>
<line x1="509.2" y1="482.9" x2="509.2" y2="472.4" stroke="#262626" stroke-width="1.8"/>
<line x1="509.2" y1="116.0" x2="509.2" y2="126.5" stroke="#262626" stroke-width="1.8"/>
<text x="509.2" y="528.9" text-anchor="middle" font-size="36.0" fill="#262626">Apr</text>
<line x1="709.3" y1="482.9" x2="709.3" y2="472.4" stroke="#262626" stroke-width="1.8"/>
<line x1="709.3" y1="116.0" x2="709.3" y2="126.5" stroke="#262626" stroke-width="1.8"/>
<text x="709.3" y="528.9" text-anchor="middle" font-size="36.0" fill="#262626">May</text>
<line x1="916.1" y1="482.9" x2="916.1" y2="472.4" stroke="#262626" stroke-width="1.8"/>
<line x1="916.1" y1="116.0" x2="916.1" y2="126.5" stroke="#262626" stroke-width="1.8"/>
<text x="916.1" y="528.9" text-anchor="middle" font-size="36.0" fill="#262626">Jun</text>
<text x="1116.2" y="528.9" text-anchor="middle" font-size="36.0" fill="#262626">Jul</text>
<text x="612.6" y="578.9" text-anchor="middle" font-size="38.5" fill="#262626">Month</text>
<line x1="109.0" y1="482.9" x2="120.0" y2="482.9" stroke="#262626" stroke-width="1.8"/>
<text x="97.6" y="496.8" text-anchor="end" font-size="36.0" fill="#262626">0</text>
<line x1="109.0" y1="409.5" x2="120.0" y2="409.5" stroke="#262626" stroke-width="1.8"/>
<text x="97.6" y="423.4" text-anchor="end" font-size="36.0" fill="#262626">5</text>
<line x1="109.0" y1="336.2" x2="120.0" y2="336.2" stroke="#262626" stroke-width="1.8"/>
<text x="97.6" y="350.1" text-anchor="end" font-size="36.0" fill="#262626">10</text>
<line x1="109.0" y1="262.8" x2="120.0" y2="262.8" stroke="#262626" stroke-width="1.8"/>
<text x="97.6" y="276.7" text-anchor="end" font-size="36.0" fill="#262626">15</text>
<line x1="109.0" y1="189.4" x2="120.0" y2="189.4" stroke="#262626" stroke-width="1.8"/>
<text x="97.6" y="203.3" text-anchor="end" font-size="36.0" fill="#262626">20</text>
<line x1="109.0" y1="116.0" x2="120.0" y2="116.0" stroke="#262626" stroke-width="1.8"/>
<text x="97.6" y="129.9" text-anchor="end" font-size="36.0" fill="#262626">25</text>
<line x1="1116.2" y1="482.9" x2="1105.2" y2="482.9" stroke="#262626" stroke-width="1.8"/>
<line x1="1116.2" y1="409.5" x2="1105.2" y2="409.5" stroke="#262626" stroke-width="1.8"/>
<line x1="1116.2" y1="336.2" x2="1105.2" y2="336.2" stroke="#262626" stroke-width="1.8"/>
<line x1="1116.2" y1="262.8" x2="1105.2" y2="262.8" stroke="#262626" stroke-width="1.8"/>
<line x1="1116.2" y1="189.4" x2="1105.2" y2="189.4" stroke="#262626" stroke-width="1.8"/>
<line x1="1116.2" y1="116.0" x2="1105.2" y2="116.0" stroke="#262626" stroke-width="1.8"/>
<text transform="translate(41.5 299.5) rotate(-90)" text-anchor="middle" font-size="38.5" fill="#262626">Average wind speed (m s<tspan dy="-19.3" font-size="31">-1</tspan><tspan dy="19.3" dx="4">)</tspan></text>
<text transform="translate(460.3 110.1) rotate(-90)" font-size="39.5" fill="#000">22.03</text>
<text transform="translate(548.2 108.3) rotate(-90)" font-size="39.5" fill="#000">05.04</text>
<text transform="translate(651.5 105.0) rotate(-90)" font-size="39.5" fill="#000">20.04</text>
<text transform="translate(745.1 106.1) rotate(-90)" font-size="39.5" fill="#000">04.05</text>
<text transform="translate(900.7 108.1) rotate(-90)" font-size="39.5" fill="#000">27.05</text>
<text transform="translate(950.5 106.0) rotate(-90)" font-size="39.5" fill="#000">03.06</text>
<text transform="translate(1013.3 108.5) rotate(-90)" font-size="39.5" fill="#000">15.06</text>
<text x="19.0" y="23.9" font-size="29" font-weight="bold" fill="#000">A</text>
<g clip-path="url(#cb)">
<path d="M214.4 1007.3h0M217.1 1004.6h0M217.3 1004.4h0M219.8 1004.2h0M220.0 1006.1h0M221.2 1005.7h0M222.4 1005.1h0M222.3 1005.2h0M225.4 1002.4h0M227.7 1005.5h0M234.7 1002.5h0M236.5 1005.2h0M236.3 1006.9h0M239.5 1007.3h0M239.9 1005.6h0M243.0 1005.7h0M243.1 1005.3h0M244.4 1000.8h0M251.6 994.7h0M251.1 1004.0h0M252.8 1002.1h0M253.0 999.5h0M254.2 1001.8h0M256.3 1005.6h0M256.5 1006.2h0M261.8 1005.5h0M261.8 1007.2h0M264.5 1001.3h0M267.8 1003.9h0M268.3 1004.0h0M269.1 998.7h0M271.5 999.4h0M271.2 1000.9h0M272.9 1001.8h0M275.2 1002.1h0M274.8 1000.8h0M276.8 999.6h0M276.8 1001.3h0M282.8 994.4h0M283.0 994.8h0M287.0 1001.1h0M289.1 997.8h0M290.2 993.1h0M290.1 994.3h0M291.9 991.6h0M292.0 996.1h0M293.9 1002.1h0M293.7 997.8h0M295.0 995.8h0M295.4 1001.4h0M299.6 998.5h0M299.6 997.3h0M300.7 995.9h0M300.7 994.7h0M301.8 994.5h0M302.0 994.8h0M303.2 999.2h0M303.5 997.3h0M305.0 999.0h0M305.2 995.3h0M307.0 996.5h0M309.1 998.3h0M310.4 994.4h0M310.8 1000.0h0M311.7 1000.9h0M313.8 998.9h0M313.8 996.3h0M314.9 999.1h0M314.6 998.8h0M317.3 997.5h0M318.9 989.2h0M318.7 996.8h0M321.2 998.2h0M324.6 998.1h0M324.9 994.6h0M325.8 998.6h0M330.1 991.0h0M331.7 997.7h0M331.4 994.8h0M334.2 995.8h0M334.5 992.0h0M338.6 992.7h0M340.2 992.2h0M341.5 993.2h0M342.1 998.3h0M343.6 996.9h0M343.3 994.0h0M345.0 998.4h0M354.0 992.6h0M357.0 991.2h0M362.4 992.1h0M362.4 983.1h0M366.1 988.1h0M367.7 989.7h0M369.4 983.4h0M371.2 987.7h0M373.2 990.4h0M373.4 991.4h0M375.6 986.5h0M375.6 979.3h0M376.4 986.3h0M377.7 982.5h0M379.2 984.4h0M379.4 983.6h0M381.4 983.2h0M383.0 989.6h0M389.0 986.0h0M388.7 986.0h0M393.2 980.8h0M393.2 979.6h0M395.6 982.2h0M401.8 968.6h0M402.3 969.4h0M404.3 972.5h0M404.1 967.3h0M407.1 975.5h0M408.5 970.7h0M408.8 970.1h0M410.1 974.9h0M410.2 975.1h0M415.3 976.5h0M415.6 974.6h0M417.1 975.3h0M417.2 978.6h0M419.5 977.0h0M421.1 979.3h0M421.2 977.3h0M426.9 975.5h0M427.9 968.8h0M430.1 964.7h0M430.2 955.9h0M430.8 956.9h0M430.3 960.0h0M430.7 959.1h0M430.9 955.5h0M431.0 969.2h0M430.8 944.7h0M431.5 960.8h0M431.3 955.2h0M431.3 955.6h0M432.2 955.3h0M432.0 954.3h0M431.7 953.7h0M432.1 954.6h0M433.0 948.8h0M433.8 942.9h0M433.8 949.9h0M434.5 950.3h0M435.1 942.3h0M435.0 919.7h0M435.9 941.3h0M436.9 933.3h0M437.0 939.1h0M436.8 930.7h0M437.4 931.2h0M437.6 924.5h0M438.1 927.7h0M438.1 911.2h0M437.7 908.9h0M438.1 923.3h0M438.2 923.3h0M438.0 929.1h0M438.9 917.8h0M439.1 913.9h0M439.4 918.9h0M439.3 910.3h0M439.6 915.9h0M440.3 914.9h0M440.4 912.9h0M440.3 908.0h0M440.7 898.0h0M440.6 907.0h0M441.7 904.6h0M442.0 906.4h0M442.0 905.1h0M442.4 902.9h0M443.3 899.2h0M443.5 906.3h0M443.7 905.4h0M444.1 901.2h0M444.2 905.7h0M444.1 907.4h0M444.8 883.3h0M444.8 899.7h0M445.7 885.1h0M445.8 898.5h0M445.6 890.7h0M446.3 887.4h0M446.2 902.9h0M446.9 893.5h0M447.1 880.9h0M447.2 889.6h0M447.3 895.6h0M447.2 894.9h0M447.2 896.1h0M448.0 909.8h0M448.1 896.5h0M448.9 898.2h0M448.8 905.3h0M448.9 890.1h0M449.1 903.5h0M449.3 902.8h0M449.5 893.8h0M450.2 903.0h0M450.6 900.5h0M450.6 878.9h0M450.8 911.2h0M451.0 866.1h0M450.8 879.5h0M451.0 879.2h0M450.8 897.7h0M450.6 893.3h0M450.5 853.2h0M450.8 867.5h0M451.3 902.0h0M451.8 895.9h0M452.1 904.5h0M452.9 898.1h0M453.0 908.7h0M453.9 902.0h0M453.8 907.6h0M454.5 916.3h0M455.1 914.7h0M455.5 913.4h0M456.0 918.0h0M456.1 922.9h0M456.2 911.6h0M457.0 917.7h0M457.8 927.0h0M457.6 928.4h0M457.6 950.5h0M458.0 923.6h0M457.9 926.4h0M458.0 931.3h0M458.5 907.7h0M459.5 896.0h0M459.7 951.5h0M459.7 965.6h0M459.9 941.9h0M459.6 951.8h0M459.5 909.0h0M459.7 963.8h0M459.3 936.1h0M459.6 946.3h0M460.3 930.4h0M461.0 931.7h0M461.4 938.5h0M462.0 940.7h0M461.8 936.9h0M462.0 923.1h0M462.5 931.6h0M462.7 930.9h0M462.3 930.2h0M462.6 927.6h0M462.8 929.5h0M462.4 917.1h0M463.5 938.3h0M463.9 936.1h0M464.3 934.5h0M464.7 942.8h0M465.0 939.0h0M464.6 934.4h0M465.6 948.0h0M465.5 940.4h0M466.9 927.1h0M466.6 928.5h0M467.3 938.8h0M467.2 942.2h0M467.3 944.8h0M468.7 940.4h0M468.6 925.9h0M469.1 939.5h0M469.0 943.0h0M469.0 940.0h0M470.2 942.5h0M470.0 937.4h0M470.5 938.3h0M470.8 941.9h0M471.6 973.3h0M471.8 955.1h0M471.7 928.1h0M471.3 925.6h0M471.4 913.8h0M471.7 898.3h0M471.5 966.3h0M472.6 948.4h0M472.8 946.1h0M472.9 949.9h0M473.5 942.0h0M473.3 924.3h0M473.2 952.8h0M473.5 945.1h0M474.0 940.8h0M473.9 941.5h0M474.3 943.0h0M474.3 939.8h0M474.9 935.3h0M475.0 941.4h0M475.6 933.9h0M476.1 948.6h0M475.5 940.0h0M476.4 940.2h0M476.2 935.3h0M476.6 954.7h0M477.7 951.1h0M477.6 942.5h0M477.3 949.6h0M478.1 949.8h0M478.8 946.6h0M478.7 947.7h0M479.4 948.4h0M479.4 941.7h0M479.8 939.3h0M480.8 967.7h0M480.9 960.2h0M481.7 944.8h0M481.2 926.9h0M482.1 943.0h0M482.2 949.6h0M481.7 954.0h0M482.9 957.4h0M482.9 954.0h0M482.9 951.3h0M483.4 951.1h0M484.2 946.0h0M484.5 961.0h0M484.7 957.6h0M485.4 953.1h0M485.5 953.2h0M485.8 956.2h0M486.6 934.3h0M487.4 950.0h0M487.7 959.7h0M487.7 953.3h0M488.1 953.6h0M488.4 950.5h0M488.1 960.3h0M488.7 952.9h0M488.9 959.6h0M489.2 961.0h0M489.7 961.5h0M489.4 960.1h0M490.2 961.2h0M489.9 962.9h0M489.8 959.2h0M491.2 957.7h0M490.8 959.3h0M491.8 960.8h0M491.8 964.7h0M492.6 951.2h0M492.9 956.6h0M492.9 965.1h0M492.7 962.6h0M492.6 937.5h0M493.6 956.9h0M493.7 951.2h0M493.3 962.9h0M494.0 951.7h0M495.1 960.7h0M495.2 959.9h0M495.6 958.5h0M495.6 961.9h0M496.2 971.4h0M496.2 964.8h0M496.2 960.3h0M496.6 963.2h0M497.2 958.8h0M497.5 959.4h0M498.2 961.5h0M498.1 947.4h0M499.0 956.6h0M499.1 958.6h0M499.2 960.9h0M499.8 948.0h0M499.7 958.0h0M499.9 965.4h0M500.4 952.0h0M501.1 948.9h0M501.7 952.8h0M502.8 954.6h0M502.5 949.8h0M503.3 950.4h0M504.0 942.6h0M504.3 937.0h0M505.1 940.0h0M505.2 933.1h0M506.1 957.3h0M506.0 953.2h0M506.1 948.3h0M506.5 952.4h0M506.5 949.3h0M507.9 943.1h0M507.4 942.4h0M507.9 933.1h0M507.3 942.1h0M507.6 920.9h0M507.8 962.5h0M507.9 943.3h0M508.7 935.6h0M508.6 941.0h0M508.6 947.5h0M509.4 936.7h0M509.6 938.5h0M509.6 944.0h0M510.4 934.6h0M510.0 957.3h0M510.2 940.9h0M510.7 945.9h0M510.9 946.3h0M511.4 915.6h0M511.2 915.3h0M511.3 938.2h0M512.3 943.9h0M512.2 941.0h0M513.2 939.4h0M512.9 935.3h0M513.3 935.4h0M513.8 941.0h0M513.7 927.4h0M514.4 948.9h0M514.5 911.2h0M514.1 926.9h0M513.9 925.0h0M515.0 934.7h0M515.8 934.7h0M515.4 937.2h0M516.0 935.8h0M516.3 945.3h0M517.0 929.6h0M516.7 918.8h0M517.0 937.4h0M517.5 946.4h0M518.0 929.5h0M518.5 925.3h0M518.6 939.4h0M518.5 934.9h0M519.0 936.0h0M519.4 930.3h0M519.9 935.8h0M520.4 943.6h0M521.4 933.2h0M521.3 934.1h0M521.4 940.4h0M521.7 934.8h0M522.0 928.7h0M522.3 931.5h0M523.0 939.9h0M523.0 940.5h0M523.7 937.1h0M524.3 925.5h0M524.6 920.4h0M524.6 920.0h0M525.4 927.8h0M525.0 938.3h0M525.9 934.6h0M526.6 933.0h0M526.8 938.5h0M527.0 938.3h0M527.4 961.2h0M527.7 950.6h0M527.2 920.6h0M527.4 918.7h0M527.5 913.1h0M527.5 908.3h0M527.4 938.0h0M528.0 938.4h0M528.6 939.6h0M528.9 936.9h0M528.4 934.7h0M529.0 945.2h0M529.5 920.4h0M529.4 929.6h0M530.3 932.8h0M530.3 937.2h0M531.0 947.7h0M532.0 937.2h0M532.7 939.6h0M532.6 941.0h0M532.7 941.8h0M533.6 941.1h0M533.8 941.2h0M533.5 938.3h0M533.7 929.3h0M534.6 907.3h0M534.5 917.9h0M534.6 913.8h0M534.6 908.7h0M534.4 966.7h0M534.5 927.3h0M534.8 947.3h0M534.4 897.0h0M535.3 929.0h0M534.8 945.2h0M534.8 938.4h0M535.6 947.7h0M535.8 935.3h0M535.5 934.4h0M536.2 942.8h0M536.2 920.1h0M536.8 938.6h0M536.8 939.6h0M537.4 939.5h0M537.8 937.9h0M537.2 932.0h0M538.2 942.8h0M538.5 936.4h0M538.7 937.4h0M538.5 934.6h0M539.0 944.2h0M539.2 942.4h0M538.9 941.6h0M540.1 913.7h0M539.6 937.1h0M539.7 939.9h0M540.3 930.2h0M540.5 941.1h0M541.0 935.8h0M541.6 933.2h0M542.4 945.5h0M542.2 943.9h0M542.2 939.4h0M542.4 912.4h0M542.2 942.3h0M542.6 917.5h0M543.4 943.6h0M544.0 938.8h0M543.9 944.5h0M543.9 923.1h0M544.5 945.0h0M544.7 929.1h0M544.8 934.5h0M544.9 944.4h0M544.8 939.7h0M546.1 940.7h0M546.6 936.1h0M546.8 933.1h0M547.5 931.1h0M548.2 922.8h0M548.3 928.6h0M548.1 932.7h0M549.0 937.3h0M548.6 933.6h0M548.7 925.6h0M549.3 931.5h0M549.4 927.4h0M549.6 931.4h0M549.8 922.3h0M549.9 927.6h0M550.1 922.7h0M550.7 919.1h0M550.7 914.7h0M550.7 912.1h0M551.7 922.4h0M551.6 956.8h0M551.2 956.1h0M551.2 900.4h0M551.4 918.9h0M551.8 913.1h0M551.5 863.5h0M551.4 950.0h0M552.2 917.3h0M552.0 928.1h0M553.0 910.4h0M553.7 904.1h0M553.6 902.3h0M554.8 903.8h0M555.3 897.0h0M555.8 890.5h0M556.0 894.4h0M556.1 891.2h0M556.6 887.8h0M557.2 878.7h0M557.2 885.6h0M558.6 873.7h0M558.5 873.2h0M558.8 875.3h0M559.0 872.9h0M560.0 868.9h0M559.6 870.5h0M462.2 906.1h0M462.1 907.2h0M461.8 909.2h0M460.8 914.7h0M461.8 916.6h0M462.3 920.5h0M461.8 922.8h0M462.2 927.6h0M461.9 930.7h0M462.3 932.1h0M461.7 935.6h0M461.5 941.4h0M462.4 944.1h0M461.8 949.2h0M461.9 952.9h0M469.0 911.1h0M469.4 915.4h0M468.4 920.9h0M468.7 925.8h0M469.0 928.6h0M468.9 934.0h0M468.6 937.4h0M468.6 940.4h0M468.9 944.8h0M478.1 936.5h0M477.6 940.6h0M477.9 942.5h0M478.2 947.9h0M478.0 951.6h0M478.1 955.9h0M477.7 957.3h0M477.9 960.2h0M477.6 965.3h0M478.2 970.5h0M478.1 971.6h0M486.1 940.3h0M487.2 945.6h0M486.9 951.0h0M486.8 956.1h0M486.4 961.2h0M485.9 963.1h0M486.5 965.0h0M486.1 966.6h0M486.9 969.7h0M486.1 974.8h0M493.0 943.7h0M492.8 948.3h0M493.2 951.4h0M492.9 953.5h0M493.1 957.9h0M492.9 959.0h0M493.0 962.8h0M493.3 964.9h0M493.1 969.5h0M492.6 974.8h0M493.1 976.5h0M493.6 978.7h0M493.0 980.4h0M500.4 939.9h0M500.5 944.1h0M500.1 949.5h0M500.3 954.1h0M499.9 957.6h0M500.5 961.7h0M500.1 964.5h0M500.4 968.3h0M500.2 969.5h0M503.4 917.2h0M504.0 920.4h0M504.3 923.9h0M503.8 927.9h0M503.5 929.1h0M503.8 932.5h0M504.6 935.0h0M503.6 938.7h0M503.3 940.9h0M503.7 943.3h0M503.4 949.1h0M503.6 951.3h0M504.0 953.2h0M503.6 956.0h0M509.7 930.4h0M510.8 933.4h0M510.4 937.7h0M510.3 940.6h0M510.2 944.3h0M510.1 948.5h0M516.6 902.2h0M516.7 906.3h0M517.1 907.9h0M517.2 909.3h0M517.3 914.7h0M516.8 919.7h0M516.8 924.3h0M516.6 929.1h0M516.6 934.3h0M517.3 935.4h0M516.8 940.1h0M516.8 942.9h0M517.0 946.0h0M516.4 950.7h0M516.4 954.4h0M516.6 958.2h0M520.5 921.4h0M520.3 922.6h0M520.6 927.1h0M520.3 932.4h0M520.8 935.2h0M520.3 936.7h0M520.3 939.4h0M521.1 945.2h0M520.3 950.4h0M520.5 953.4h0M527.4 902.1h0M528.0 905.7h0M527.4 910.5h0M527.3 916.0h0M527.6 919.2h0M527.6 923.8h0M528.0 927.4h0M527.6 933.2h0M527.5 934.7h0M527.3 938.6h0M527.6 944.1h0M531.7 909.1h0M532.0 910.2h0M532.2 915.6h0M532.4 917.1h0M531.4 920.3h0M532.3 924.2h0M531.7 929.7h0M531.5 934.5h0M531.7 939.8h0M531.5 941.6h0M531.4 947.5h0M531.3 952.1h0M532.0 956.1h0M531.6 957.7h0M538.9 910.3h0M538.9 914.2h0M538.7 918.8h0M538.9 923.1h0M539.6 925.1h0M538.6 926.1h0M539.0 931.8h0M538.9 937.6h0M538.8 941.3h0M538.8 945.2h0M543.0 906.9h0M543.1 912.2h0M543.0 915.9h0M542.8 919.9h0M543.3 925.7h0M543.0 928.6h0M542.9 929.8h0M543.3 934.0h0M543.1 938.1h0M542.5 943.0h0M542.8 947.3h0M542.5 951.4h0M543.1 955.1h0M543.1 957.2h0M547.5 904.3h0M547.5 908.6h0M547.1 910.1h0M547.1 913.7h0M547.0 915.9h0M547.3 921.3h0M547.1 923.7h0M547.0 926.3h0M547.5 930.1h0M547.2 932.8h0M547.2 934.1h0M547.1 938.5h0M546.9 941.4h0M547.5 947.3h0M546.9 949.4h0M438.1 845.1h0M438.0 847.0h0M437.9 853.6h0M437.9 861.5h0M438.4 868.6h0M438.1 872.1h0M438.4 875.4h0M438.4 882.8h0M437.9 884.5h0M438.1 887.2h0M437.8 895.3h0M439.7 845.1h0M439.8 851.9h0M440.5 853.5h0M439.8 858.7h0M440.3 862.7h0M440.5 870.0h0M440.0 873.1h0M440.2 877.0h0M440.1 878.8h0M439.8 886.2h0M440.1 888.2h0M439.8 890.5h0M440.1 892.4h0M440.0 898.6h0M442.7 835.8h0M441.7 842.7h0M441.7 845.7h0M442.4 852.5h0M441.7 857.0h0M442.4 859.3h0M441.9 865.1h0M442.2 867.8h0M441.9 872.0h0M442.1 875.9h0M442.0 883.5h0M441.7 889.5h0M441.7 896.2h0M442.1 898.7h0M444.0 818.1h0M443.9 824.7h0M444.0 826.7h0M443.9 832.1h0M443.6 837.2h0M444.3 844.9h0M443.8 852.7h0M443.6 855.9h0M444.3 858.7h0M444.4 867.1h0M443.6 871.8h0M444.1 875.6h0M444.3 882.6h0M444.1 884.8h0M444.3 888.7h0M444.1 894.5h0M443.9 896.7h0M445.9 841.5h0M446.2 843.3h0M446.1 848.2h0M445.9 851.4h0M445.9 853.6h0M445.9 857.1h0M446.6 860.5h0M445.7 864.5h0M446.1 869.8h0M446.3 876.4h0M446.2 880.5h0M446.4 888.1h0M446.3 896.0h0M448.4 816.2h0M448.4 822.2h0M447.7 829.7h0M448.2 832.9h0M447.9 834.5h0M447.8 836.7h0M448.2 840.1h0M447.9 844.9h0M448.0 850.3h0M447.7 855.3h0M448.2 863.2h0M447.9 871.1h0M448.0 873.9h0M447.8 877.3h0M448.1 881.2h0M447.7 883.1h0M448.0 886.1h0M448.7 891.9h0M448.0 896.0h0M447.9 897.9h0M450.0 835.4h0M450.3 839.1h0M450.2 843.9h0M450.0 852.0h0M449.8 859.2h0M450.2 865.1h0M450.1 872.1h0M449.9 874.1h0M449.7 877.4h0M449.6 882.5h0M449.6 890.3h0M450.0 896.3h0M560.2 875.4h0M563.6 856.8h0M563.2 830.7h0M563.2 868.7h0M563.2 853.6h0M563.5 834.8h0M563.2 879.1h0M564.8 843.8h0M567.4 836.4h0M568.9 804.9h0M572.0 787.6h0M574.3 813.8h0M577.3 806.1h0M577.0 814.0h0M578.0 793.1h0M579.4 795.8h0M579.4 792.9h0M581.6 783.3h0M581.1 784.5h0M583.0 785.8h0M585.9 780.6h0M585.7 782.0h0M589.7 760.4h0M590.2 768.0h0M592.2 770.0h0M592.3 773.1h0M598.0 760.4h0M598.9 762.8h0M607.4 760.3h0M609.9 755.7h0M609.9 757.9h0M611.6 754.0h0M612.9 744.9h0M614.1 755.4h0M614.0 757.0h0M615.7 752.7h0M615.3 750.2h0M617.4 756.0h0M617.5 750.7h0M618.2 763.5h0M622.3 759.5h0M623.0 746.4h0M625.5 763.1h0M627.9 758.7h0M627.6 756.9h0M635.1 768.4h0M635.1 754.4h0M637.0 763.8h0M640.4 754.2h0M640.2 761.5h0M641.3 768.7h0M643.1 760.3h0M645.4 762.7h0M645.1 759.4h0M648.2 769.0h0M648.1 770.6h0M649.8 760.0h0M653.6 767.3h0M653.5 769.8h0M656.2 774.6h0M655.9 772.4h0M657.7 778.8h0M666.8 783.1h0M666.8 794.7h0M668.2 793.7h0M669.7 799.9h0M670.0 790.6h0M671.1 797.7h0M673.8 797.3h0M677.5 819.0h0M681.0 822.5h0M681.3 830.0h0M682.4 808.6h0M684.1 811.1h0M683.9 805.0h0M683.9 807.9h0M683.9 834.2h0M683.9 827.6h0M684.1 848.1h0M683.7 841.8h0M683.8 822.8h0M683.7 832.6h0M684.0 783.6h0M684.7 832.6h0M686.6 835.0h0M696.2 852.7h0M696.5 862.5h0M696.4 813.3h0M698.0 859.0h0M700.5 855.6h0M702.2 846.6h0M702.3 836.9h0M704.4 851.9h0M704.1 831.9h0M706.1 861.4h0M706.5 856.8h0M708.0 844.1h0M709.3 863.1h0M711.1 855.4h0M711.9 851.7h0M714.4 862.4h0M714.3 854.0h0M716.3 857.4h0M717.4 864.8h0M717.2 857.6h0M726.5 868.4h0M726.2 872.6h0M728.2 861.5h0M728.2 864.3h0M729.4 868.5h0M564.4 720.0h0M565.2 724.6h0M565.4 729.2h0M565.4 732.0h0M565.0 741.9h0M565.2 746.5h0M565.4 753.2h0M565.7 757.6h0M565.5 763.3h0M565.1 768.2h0M565.6 776.5h0M568.7 700.0h0M569.3 703.5h0M568.7 706.7h0M569.0 710.1h0M569.1 717.9h0M568.6 725.6h0M568.7 729.2h0M568.4 731.6h0M568.8 739.7h0M569.0 743.5h0M569.0 746.2h0M568.5 749.6h0M568.6 753.6h0M569.1 763.6h0M569.0 772.9h0M568.6 780.5h0M568.8 788.3h0M569.0 794.6h0M569.2 804.7h0M568.9 814.1h0M569.1 816.9h0M568.8 823.6h0M568.1 831.1h0M568.9 836.1h0M568.9 842.9h0M568.4 850.6h0M569.1 859.9h0M568.3 866.0h0M569.1 868.0h0M569.2 870.0h0M569.0 876.3h0M568.7 881.3h0M569.1 884.3h0M568.6 893.8h0M569.1 896.9h0M569.3 760.0h0M569.1 764.4h0M569.5 771.0h0M569.4 776.7h0M569.2 784.8h0M569.0 787.7h0M569.9 797.3h0M569.2 802.1h0M569.4 810.4h0M568.9 815.8h0M570.0 821.6h0M569.4 831.8h0M569.4 834.0h0M569.2 836.1h0M569.3 845.7h0M569.4 854.0h0M569.2 862.1h0M569.3 870.2h0M569.3 872.7h0M574.0 650.0h0M574.5 655.4h0M574.3 661.5h0M574.0 671.1h0M574.2 681.3h0M574.3 689.2h0M573.8 697.7h0M581.4 690.0h0M581.2 698.1h0M580.9 701.5h0M581.2 705.1h0M580.9 709.0h0M581.1 714.7h0M581.0 722.4h0M581.0 727.7h0M581.0 734.0h0M581.4 737.9h0M581.0 745.2h0M581.2 750.5h0M581.2 759.4h0M581.1 761.7h0M581.0 765.1h0M581.5 770.1h0M581.1 777.6h0M581.2 787.2h0M581.0 793.7h0M581.1 800.5h0M581.2 809.8h0M581.2 815.2h0M581.3 822.6h0M581.1 832.7h0M581.2 840.5h0M580.6 842.9h0M581.1 851.5h0M581.3 861.2h0M581.3 865.3h0M581.6 870.5h0M581.2 879.2h0M581.4 882.6h0M580.8 885.5h0M581.0 889.2h0M581.0 898.7h0M595.4 700.0h0M595.6 702.6h0M595.8 711.7h0M595.5 714.2h0M596.0 723.1h0M595.0 731.2h0M595.4 736.7h0M595.7 746.6h0M595.1 752.8h0M595.8 757.2h0M612.2 650.0h0M612.1 656.5h0M611.7 663.8h0M612.0 666.7h0M611.8 673.5h0M611.7 675.7h0M611.9 682.8h0M611.5 688.3h0M612.0 696.0h0M611.3 705.2h0M611.6 709.4h0M611.9 718.2h0M611.8 722.7h0M611.6 730.2h0M611.1 738.0h0M612.0 743.6h0M611.9 750.9h0M612.0 759.6h0M611.7 767.6h0M611.7 771.6h0M611.8 778.0h0M611.4 782.6h0M611.9 789.5h0M611.9 798.8h0M611.5 807.3h0M611.2 812.0h0M611.8 820.0h0M611.9 823.3h0M611.8 832.6h0M611.9 834.8h0M611.9 840.1h0M611.7 850.0h0M611.9 853.1h0M611.6 860.3h0M611.4 862.6h0M611.7 870.0h0M611.8 873.3h0M611.6 875.5h0M611.8 883.9h0M611.9 890.0h0M611.9 896.1h0M612.6 906.3h0M611.6 911.4h0M611.8 914.7h0M611.2 917.5h0M611.8 922.0h0M611.8 929.8h0M611.4 933.3h0M611.5 937.1h0M611.6 939.7h0M611.1 943.5h0M611.8 949.3h0M611.1 952.1h0M611.1 958.7h0M611.7 961.3h0M611.7 966.9h0M612.0 977.1h0M611.9 986.5h0M611.7 991.1h0M611.5 996.3h0M613.2 660.0h0M613.1 667.1h0M613.4 671.5h0M613.4 677.2h0M613.2 679.1h0M613.1 686.5h0M613.6 689.8h0M612.7 696.6h0M613.6 699.8h0M614.0 709.6h0M613.4 717.7h0M617.5 645.0h0M618.3 652.6h0M617.9 655.0h0M617.6 656.8h0M617.1 662.1h0M617.9 666.8h0M617.7 671.7h0M617.6 677.9h0M617.7 680.7h0M618.1 684.3h0M618.0 689.4h0M617.4 695.9h0M617.8 700.0h0M617.3 707.8h0M617.2 716.7h0M618.4 723.9h0M617.7 726.8h0M617.6 730.0h0M617.9 732.0h0M617.6 733.8h0M617.9 744.0h0M618.1 748.8h0M618.0 752.8h0M618.2 756.0h0M620.9 650.0h0M620.7 659.3h0M620.6 663.7h0M620.7 670.1h0M620.5 678.7h0M620.6 681.9h0M620.8 685.3h0M620.3 693.0h0M620.3 701.3h0M620.1 705.5h0M620.5 711.8h0M620.2 714.5h0M620.6 718.6h0M620.8 728.6h0M621.2 737.0h0M620.4 744.5h0M620.6 752.5h0M620.8 761.5h0M620.5 767.4h0M620.6 769.7h0M621.0 779.4h0M620.8 786.1h0M620.5 793.7h0M620.6 802.3h0M621.2 804.7h0M620.2 806.7h0M620.6 813.7h0M620.8 822.4h0M620.6 828.0h0M620.8 832.5h0M620.5 839.6h0M620.5 844.5h0M621.1 854.0h0M620.7 856.2h0M620.5 863.9h0M620.4 871.9h0M620.8 874.4h0M621.4 881.3h0M620.6 891.2h0M620.6 893.5h0M620.4 897.7h0M621.3 905.1h0M620.1 910.9h0M620.3 915.9h0M620.2 922.3h0M621.0 931.1h0M620.7 940.8h0M620.9 950.6h0M620.8 956.7h0M620.8 958.8h0M620.1 961.4h0M620.8 967.1h0M620.2 971.8h0M620.7 980.1h0M620.6 988.6h0M620.3 991.7h0M621.2 997.7h0M624.2 690.0h0M624.8 695.4h0M625.3 698.9h0M624.4 708.7h0M624.3 715.3h0M624.5 724.7h0M624.8 727.5h0M624.0 731.6h0M624.2 736.1h0M624.7 744.7h0M624.3 753.1h0M624.2 756.1h0M624.4 765.4h0M624.7 773.1h0M624.9 775.7h0M624.2 785.7h0M624.7 794.5h0M624.0 802.3h0M624.8 805.4h0M624.7 808.6h0M624.4 815.8h0M624.5 821.3h0M624.7 829.2h0M624.7 838.0h0M624.9 841.4h0M624.4 848.7h0M624.5 858.7h0M623.9 867.8h0M624.7 875.0h0M624.0 877.7h0M624.8 887.8h0M623.9 894.9h0M624.1 898.1h0M625.0 902.8h0M624.9 912.9h0M624.4 916.0h0M624.7 924.6h0M624.9 933.2h0M624.7 942.5h0M624.6 946.0h0M624.8 954.8h0M624.5 958.8h0M624.5 968.3h0M624.6 972.0h0M625.1 977.2h0M624.6 985.4h0M624.4 993.5h0M624.5 999.1h0M627.7 650.0h0M627.4 654.4h0M628.0 660.7h0M627.3 664.4h0M627.9 673.0h0M627.5 681.1h0M627.3 687.3h0M627.6 695.5h0M628.3 704.9h0M627.7 713.6h0M627.8 717.2h0M628.5 727.0h0M627.1 733.1h0M627.4 735.9h0M627.1 741.3h0M627.7 743.2h0M628.0 746.3h0M628.0 749.7h0M627.1 755.2h0M627.9 762.3h0M627.6 767.4h0M627.6 769.2h0M628.0 777.1h0M633.5 700.0h0M633.5 702.5h0M633.3 704.6h0M634.0 712.2h0M633.8 715.4h0M633.7 725.5h0M633.6 729.8h0M632.8 737.6h0M633.1 744.5h0M633.1 753.9h0M633.1 756.7h0M633.5 762.2h0M633.7 764.9h0M633.3 768.4h0M633.4 774.2h0M633.2 780.3h0M633.7 786.8h0M633.1 794.1h0M633.6 798.1h0M633.4 803.2h0M633.2 810.1h0M633.8 813.3h0M633.4 816.4h0M634.0 819.2h0M633.8 821.2h0M633.7 828.5h0M633.7 837.0h0M633.3 845.2h0M633.6 847.8h0M633.2 853.9h0M633.6 862.6h0M633.2 871.1h0M633.8 873.6h0M633.5 880.8h0M633.1 889.4h0M633.3 891.8h0M633.8 896.0h0M633.4 902.8h0M633.8 907.2h0M633.4 917.2h0M633.3 923.6h0M633.3 925.8h0M633.1 928.6h0M633.6 932.2h0M633.8 941.0h0M633.1 945.3h0M633.8 951.9h0M633.5 956.4h0M633.2 962.8h0M633.2 965.4h0M633.3 971.6h0M633.7 976.0h0M633.4 984.8h0M633.7 988.7h0M633.1 998.2h0M641.4 760.0h0M640.8 765.4h0M641.6 774.4h0M641.7 783.0h0M641.8 785.8h0M641.7 794.5h0M641.5 802.2h0M641.2 807.0h0M640.8 812.1h0M641.3 815.4h0M641.3 823.9h0M641.3 827.3h0M641.2 832.6h0M641.8 841.9h0M641.4 849.5h0M641.3 852.9h0M641.1 862.9h0M641.3 867.1h0M641.2 872.3h0M641.7 877.3h0M641.8 882.0h0M641.6 888.4h0M641.5 896.0h0M641.3 898.4h0M641.4 903.2h0M641.7 911.6h0M641.3 916.2h0M642.1 923.1h0M641.4 926.4h0M641.5 932.8h0M641.6 942.1h0M640.9 948.3h0M641.6 954.5h0M640.7 957.5h0M641.2 966.2h0M641.5 976.1h0M641.6 979.6h0M641.7 989.2h0M641.4 994.9h0M648.3 800.0h0M648.1 809.7h0M648.3 814.9h0M648.7 820.6h0M648.2 825.9h0M648.1 831.5h0M648.6 835.1h0M648.4 837.2h0M648.3 846.0h0M647.9 853.1h0M648.5 859.8h0M648.0 862.9h0M648.5 868.0h0M648.1 872.7h0M649.0 875.9h0M648.7 884.3h0M648.1 891.7h0M648.5 895.1h0M648.2 899.3h0M648.2 905.3h0M648.5 911.4h0M648.3 919.4h0M648.2 929.1h0M648.5 934.6h0M647.9 940.8h0M648.4 947.3h0M648.2 956.8h0M648.1 959.6h0M648.1 967.6h0M647.8 971.2h0M648.2 974.8h0M648.1 979.4h0M648.2 987.3h0M648.3 996.1h0M659.0 760.0h0M659.2 762.1h0M659.1 771.3h0M658.8 773.8h0M659.2 777.6h0M659.2 782.8h0M658.9 787.5h0M658.9 789.7h0M659.2 798.9h0M659.1 807.4h0M659.3 812.8h0M660.0 814.8h0M659.5 823.7h0M658.6 829.6h0M659.0 835.5h0M659.2 840.5h0M659.5 845.0h0M659.0 850.2h0M658.7 860.1h0M659.1 862.7h0M658.9 865.4h0M658.8 870.8h0M659.6 876.8h0M659.2 882.6h0M659.3 890.8h0M658.9 897.7h0M665.2 690.0h0M665.2 695.8h0M665.0 705.1h0M665.5 707.8h0M665.1 714.9h0M665.1 719.3h0M665.3 723.0h0M664.9 732.3h0M665.0 740.8h0M675.0 700.0h0M675.6 706.7h0M675.7 711.0h0M675.5 720.4h0M675.3 727.8h0M675.2 730.8h0M674.8 739.1h0M675.4 742.9h0M675.2 746.9h0M675.5 754.9h0M674.8 762.7h0M675.3 772.7h0M674.9 775.7h0M675.3 784.3h0M675.1 789.8h0M675.4 799.0h0M675.2 804.6h0M675.5 813.5h0M675.2 818.4h0M675.3 824.6h0M675.2 827.5h0M675.8 836.3h0M675.3 843.8h0M675.2 851.9h0M675.4 856.9h0M675.2 866.5h0M675.2 875.7h0M674.8 884.7h0M675.4 890.6h0M675.7 899.4h0M690.0 800.0h0M690.2 809.4h0M689.8 813.3h0M689.7 822.7h0M689.9 828.9h0M690.4 837.5h0M689.5 840.3h0M689.5 843.7h0M689.3 846.7h0M689.1 854.2h0M689.8 861.1h0M689.4 864.4h0M689.4 867.5h0M690.2 875.1h0M689.7 878.6h0M689.9 883.0h0M689.6 891.0h0M689.4 900.6h0M689.1 906.9h0M689.9 912.4h0M689.8 915.7h0M689.6 919.3h0M689.6 928.7h0M689.8 933.9h0M689.8 936.1h0M689.5 945.8h0M689.5 951.0h0M689.3 954.5h0M689.4 959.2h0M689.2 964.8h0M690.1 973.9h0M689.4 976.3h0M689.7 979.1h0M689.4 984.6h0M689.7 993.7h0M699.5 920.0h0M699.5 922.8h0M699.3 925.1h0M699.7 931.1h0M699.7 936.2h0M700.1 943.4h0M699.6 949.5h0M699.6 958.7h0M699.9 967.5h0M699.5 974.7h0M699.6 981.2h0M699.5 986.3h0M699.5 989.4h0M699.7 993.9h0M707.9 740.0h0M707.2 746.8h0M707.4 753.7h0M707.4 757.6h0M708.0 763.6h0M707.6 772.1h0M707.2 776.2h0M707.5 785.4h0M707.5 794.5h0M726.5 960.0h0M726.4 967.7h0M726.3 974.8h0M726.4 984.9h0M726.6 989.9h0M726.3 997.2h0M683.5 830.0h0M683.7 833.7h0M683.9 841.8h0M684.2 850.0h0M683.6 856.6h0M683.8 863.7h0M684.2 869.7h0M841.0 828.6h0M841.1 838.6h0M842.0 773.3h0M842.0 830.6h0M843.4 845.0h0M843.4 868.0h0M843.4 786.0h0M845.3 710.3h0M845.5 717.2h0M845.7 720.9h0M846.1 726.2h0M845.5 733.0h0M845.6 739.9h0M845.6 743.0h0M845.6 746.3h0M845.6 752.4h0M845.2 757.0h0M845.5 763.7h0M845.4 768.9h0M845.6 774.6h0M845.4 778.3h0M845.8 782.2h0M845.7 788.8h0M845.8 794.3h0M846.0 796.6h0M845.7 803.4h0M845.7 806.7h0M845.5 811.8h0M846.9 774.2h0M846.9 868.0h0M846.9 868.9h0M848.4 793.4h0M847.8 797.9h0M847.7 805.2h0M848.4 808.9h0M847.8 812.3h0M848.0 815.3h0M848.0 817.6h0M847.8 820.4h0M848.2 825.0h0M847.3 828.6h0M849.1 818.2h0M849.1 806.6h0M849.1 786.9h0M850.2 774.7h0M851.3 807.6h0M851.3 810.0h0M851.1 817.5h0M851.8 821.7h0M851.6 824.8h0M851.3 829.9h0M851.4 833.8h0M851.2 835.9h0M851.7 841.0h0M851.8 848.7h0M851.3 853.8h0M851.2 856.4h0M851.6 861.9h0M852.4 732.1h0M852.4 737.0h0M852.5 741.9h0M852.8 750.2h0M851.7 756.5h0M852.6 759.6h0M852.3 766.5h0M852.6 769.3h0M852.2 774.7h0M852.2 776.7h0M852.2 779.0h0M852.4 784.9h0M852.2 792.0h0M852.5 795.9h0M852.5 803.1h0M852.2 805.8h0M852.2 808.8h0M852.7 811.6h0M852.8 818.2h0M852.6 823.4h0M852.6 830.8h0M854.0 782.0h0M854.0 748.8h0M854.0 869.5h0M855.2 814.1h0M855.2 820.8h0M855.4 828.6h0M855.1 834.8h0M855.1 839.1h0M855.5 847.3h0M855.2 849.2h0M855.8 857.7h0M855.7 865.0h0M855.7 871.7h0M855.3 876.6h0M855.4 881.6h0M855.5 888.7h0M855.4 891.1h0M855.0 894.5h0M854.8 897.6h0M855.3 903.1h0M854.8 910.8h0M855.2 919.3h0M856.1 797.9h0M856.2 805.8h0M856.5 810.7h0M855.8 817.3h0M856.0 824.2h0M856.6 827.1h0M857.8 749.1h0M857.8 818.4h0M858.8 709.9h0M859.0 716.6h0M858.3 720.4h0M858.9 726.0h0M858.9 728.5h0M858.9 731.9h0M858.7 733.4h0M858.8 735.3h0M858.9 739.1h0M858.9 742.3h0M858.8 747.4h0M859.0 750.8h0M858.7 754.4h0M858.8 758.1h0M858.8 760.4h0M859.0 762.8h0M858.8 764.5h0M858.9 766.4h0M859.3 772.8h0M858.6 780.7h0M859.0 788.6h0M859.4 793.2h0M859.4 800.5h0M858.5 805.1h0M859.2 807.4h0M859.5 814.4h0M858.6 818.5h0M859.4 824.9h0M859.6 831.9h0M858.6 836.4h0M858.9 839.4h0M858.6 845.0h0M859.4 852.0h0M858.8 854.4h0M859.3 860.8h0M859.0 865.8h0M859.4 872.3h0M859.0 876.9h0M859.1 879.9h0M858.9 885.7h0M861.4 725.5h0M861.1 727.2h0M861.0 730.4h0M860.7 735.4h0M860.6 742.8h0M860.9 745.8h0M860.7 753.3h0M860.8 761.7h0M861.2 765.1h0M860.6 769.7h0M860.7 776.3h0M861.3 779.2h0M860.5 785.0h0M860.6 792.6h0M861.1 799.2h0M861.3 802.9h0M861.0 810.3h0M860.8 814.4h0M861.0 816.2h0M860.4 819.0h0M860.7 826.9h0M861.0 835.2h0M861.3 842.5h0M861.3 851.0h0M860.4 858.2h0M860.8 860.7h0M861.3 866.7h0M860.8 870.1h0M860.8 876.3h0M860.6 884.5h0M861.0 886.7h0M861.0 891.6h0M861.4 897.3h0M860.8 904.3h0M860.8 910.6h0M862.5 760.3h0M864.1 869.2h0M865.7 795.1h0M865.7 801.9h0M865.8 810.2h0M865.8 813.5h0M865.6 819.6h0M865.9 823.6h0M865.6 825.8h0M866.0 828.7h0M865.0 834.7h0M865.7 841.0h0M866.0 843.1h0M866.1 851.5h0M865.9 855.4h0M865.1 858.2h0M866.0 861.5h0M865.4 864.1h0M865.4 869.2h0M865.9 871.9h0M865.6 874.7h0M865.4 877.9h0M865.7 883.2h0M866.0 889.8h0M865.5 891.6h0M866.0 898.9h0M865.8 901.4h0M865.8 907.1h0M865.6 910.7h0M865.7 918.2h0M865.6 924.5h0M865.6 931.5h0M865.8 937.6h0M865.9 941.4h0M866.9 765.0h0M866.9 769.4h0M866.7 773.2h0M867.3 781.2h0M866.3 788.1h0M866.9 793.3h0M866.4 795.6h0M867.3 798.9h0M867.2 802.7h0M866.7 807.0h0M866.8 813.5h0M867.0 820.5h0M866.2 824.3h0M866.8 826.8h0M866.4 830.9h0M867.1 834.8h0M867.3 839.5h0M866.7 846.7h0M867.0 851.8h0M867.0 858.5h0M866.6 864.9h0M867.1 869.2h0M867.8 721.6h0M868.4 725.3h0M868.3 733.5h0M868.3 735.3h0M867.8 740.7h0M867.9 746.0h0M868.4 748.1h0M868.3 756.0h0M868.3 762.2h0M868.3 768.2h0M867.8 776.2h0M868.4 778.1h0M868.2 785.0h0M867.7 787.6h0M868.1 790.2h0M868.6 795.4h0M867.9 799.7h0M868.1 804.5h0M868.9 811.5h0M868.0 817.8h0M868.6 822.7h0M867.8 829.8h0M868.7 836.1h0M867.7 840.7h0M868.0 845.9h0M868.8 854.1h0M868.2 860.6h0M868.3 865.6h0M868.0 869.4h0M868.3 875.9h0M867.9 884.4h0M868.3 890.4h0M868.2 892.5h0M868.1 898.0h0M868.4 902.6h0M868.7 904.6h0M869.4 753.4h0M870.1 761.8h0M869.5 769.0h0M869.9 771.1h0M869.9 773.5h0M870.2 777.9h0M869.6 786.1h0M869.7 789.2h0M869.7 792.6h0M869.4 794.5h0M869.6 800.7h0M869.5 806.1h0M869.5 812.8h0M869.6 819.1h0M869.3 823.8h0M870.0 827.3h0M869.7 833.2h0M870.1 836.0h0M871.2 788.4h0M871.8 795.1h0M871.6 796.7h0M871.4 800.6h0M872.0 802.9h0M871.3 810.3h0M872.2 814.1h0M872.0 817.8h0M872.3 823.4h0M872.7 734.6h0M872.6 738.7h0M871.9 747.2h0M872.4 750.5h0M872.8 752.1h0M872.5 757.6h0M872.0 761.6h0M872.3 769.7h0M872.6 777.4h0M873.2 779.0h0M872.8 783.4h0M872.5 787.5h0M872.6 793.1h0M873.1 799.1h0M872.7 801.3h0M872.6 807.7h0M872.7 811.6h0M872.7 820.1h0M872.1 827.2h0M872.7 835.5h0M872.4 843.5h0M872.6 848.6h0M872.6 857.0h0M872.2 864.4h0M872.1 868.7h0M872.4 871.6h0M873.0 879.1h0M872.7 884.6h0M872.9 887.2h0M872.5 890.0h0M872.3 894.3h0M872.4 895.9h0M872.6 898.0h0M872.5 901.3h0M873.0 908.5h0M872.1 911.2h0M872.6 912.7h0M872.2 916.8h0M872.4 918.4h0M872.7 924.0h0M873.8 737.8h0M874.1 746.2h0M873.6 749.9h0M874.1 752.6h0M873.7 756.9h0M873.5 764.0h0M874.1 766.8h0M874.0 771.4h0M874.2 779.4h0M874.1 785.5h0M874.1 789.6h0M874.1 796.4h0M873.3 801.2h0M875.3 760.9h0M875.6 768.7h0M875.2 772.5h0M874.9 775.6h0M874.9 778.8h0M875.5 785.1h0M875.2 793.2h0M874.9 797.8h0M874.7 800.7h0M875.3 804.6h0M875.2 808.3h0M875.2 813.1h0M874.8 821.1h0M875.3 827.3h0M875.2 829.0h0M875.6 833.6h0M875.3 839.5h0M875.4 842.4h0M875.0 850.6h0M875.0 854.6h0M875.0 858.0h0M876.1 772.6h0M876.1 776.1h0M876.2 781.9h0M876.0 788.9h0M875.8 793.1h0M876.1 797.7h0M876.7 806.1h0M875.8 812.8h0M876.2 819.2h0M876.2 826.5h0M876.0 832.7h0M875.9 836.1h0M876.1 844.0h0M876.1 847.9h0M876.9 851.8h0M876.5 859.6h0M876.4 866.8h0M876.1 869.1h0M876.3 875.7h0M875.6 882.8h0M876.3 885.1h0M876.1 892.5h0M875.9 899.8h0M876.1 907.3h0M876.1 909.6h0M877.6 870.2h0M877.6 840.2h0M879.7 755.9h0M880.9 694.1h0M880.6 701.7h0M881.2 706.7h0M881.0 713.9h0M881.1 715.5h0M881.1 718.4h0M880.9 723.1h0M880.9 731.1h0M881.0 735.0h0M881.0 739.2h0M881.6 743.4h0M881.2 745.5h0M881.1 750.4h0M881.3 758.0h0M881.1 759.7h0M881.3 761.5h0M881.3 766.7h0M880.7 772.5h0M881.0 776.4h0M880.7 782.4h0M881.2 790.9h0M881.2 795.6h0M880.8 803.0h0M880.9 806.1h0M881.1 813.9h0M880.4 820.1h0M880.6 825.4h0M880.8 831.5h0M881.9 851.7h0M881.9 755.2h0M882.6 769.2h0M883.2 774.1h0M882.6 781.6h0M883.0 784.0h0M883.3 786.6h0M882.8 791.6h0M883.4 797.7h0M883.3 803.8h0M883.2 809.9h0M882.8 817.2h0M883.0 825.3h0M883.0 830.0h0M883.0 832.8h0M883.1 838.1h0M883.4 845.2h0M882.9 850.5h0M882.8 856.0h0M882.8 863.4h0M883.6 865.7h0M883.3 870.3h0M883.2 878.6h0M883.2 886.6h0M883.0 889.5h0M883.2 893.8h0M883.2 897.1h0M884.7 785.0h0M884.8 787.4h0M884.1 794.4h0M883.6 799.4h0M884.5 807.5h0M884.6 811.8h0M884.3 816.6h0M884.2 822.7h0M885.1 831.0h0M884.7 832.6h0M883.8 838.9h0M884.1 845.7h0M884.0 847.9h0M885.0 852.3h0M884.1 860.6h0M884.8 866.0h0M884.9 871.5h0M884.4 874.1h0M884.9 880.4h0M884.1 888.3h0M884.4 890.2h0M884.6 892.8h0M884.7 897.1h0M884.3 901.9h0M884.9 908.5h0M885.9 703.0h0M885.5 709.7h0M885.1 716.1h0M885.3 717.9h0M885.7 724.0h0M885.8 726.6h0M885.5 731.5h0M885.9 733.6h0M885.5 741.9h0M885.6 746.7h0M886.0 752.5h0M885.6 757.2h0M885.6 761.3h0M885.7 763.9h0M885.4 768.2h0M885.8 774.0h0M885.5 782.2h0M885.7 790.1h0M886.0 792.5h0M885.4 797.9h0M885.5 799.7h0M885.8 805.4h0M885.5 811.7h0M886.5 818.3h0M886.7 823.7h0M885.6 831.5h0M886.0 836.4h0M885.5 840.6h0M886.9 791.3h0M887.2 796.6h0M886.8 804.2h0M886.4 812.6h0M886.9 815.9h0M886.9 817.9h0M886.8 822.9h0M887.4 825.9h0M887.2 830.0h0M887.0 837.5h0M886.8 844.8h0M887.0 851.2h0M887.2 856.9h0M886.9 860.0h0M886.9 864.3h0M886.9 870.8h0M886.7 878.3h0M887.1 881.7h0M887.0 889.2h0M886.5 892.5h0M888.6 767.1h0M888.6 749.6h0M888.6 777.8h0M888.6 859.2h0M889.4 725.4h0M889.7 729.1h0M890.0 732.4h0M890.1 735.0h0M889.3 737.3h0M890.1 740.5h0M889.9 748.1h0M889.8 750.7h0M890.2 754.9h0M890.4 757.7h0M890.6 762.0h0M889.8 768.9h0M890.0 771.0h0M890.2 779.4h0M890.4 781.7h0M889.7 784.8h0M890.3 791.7h0M889.8 800.0h0M889.9 806.4h0M890.2 813.6h0M891.8 878.2h0M893.9 824.1h0M893.1 827.4h0M895.0 771.2h0M896.0 776.0h0M895.6 778.3h0M895.9 781.3h0M895.9 787.2h0M895.7 794.7h0M895.6 803.0h0M895.6 806.4h0M896.2 808.6h0M895.9 815.7h0M895.4 821.4h0M895.3 823.0h0M895.4 829.9h0M895.8 835.0h0M895.8 841.1h0M895.8 843.1h0M895.8 850.2h0M895.2 855.5h0M896.2 861.1h0M895.1 864.3h0M895.4 868.3h0M894.8 872.9h0M895.2 878.9h0M895.4 881.6h0M895.5 886.4h0M896.0 892.9h0M895.7 896.6h0M895.8 902.3h0M895.3 908.2h0M895.6 911.8h0M896.0 917.0h0M895.7 920.0h0M895.3 924.0h0M896.0 927.3h0M895.1 935.4h0M896.0 938.6h0M897.6 878.9h0M897.6 829.0h0M897.6 833.9h0M899.2 853.8h0M899.3 860.8h0M899.3 868.3h0M898.8 871.9h0M898.8 876.8h0M899.0 883.2h0M899.1 887.2h0M899.7 888.9h0M899.3 893.1h0M899.2 896.9h0M899.0 898.5h0M898.9 903.9h0M899.2 906.5h0M898.8 910.7h0M901.0 832.2h0M900.9 833.8h0M901.0 840.1h0M900.8 842.2h0M900.5 849.6h0M901.4 858.1h0M900.3 866.4h0M901.0 869.8h0M900.7 876.0h0M900.5 878.8h0M900.6 881.1h0M901.0 889.2h0M900.3 893.7h0M900.5 901.8h0M902.8 910.8h0M904.7 879.7h0M904.6 886.7h0M904.7 890.7h0M906.2 874.6h0M906.2 852.6h0M907.9 888.4h0M907.9 935.2h0M907.9 854.5h0M907.9 885.1h0M909.0 870.0h0M908.7 872.0h0M908.9 879.6h0M908.9 881.7h0M909.3 884.3h0M909.0 892.8h0M908.5 900.9h0M909.3 903.9h0M909.3 909.5h0M909.2 915.6h0M909.4 919.2h0M910.9 775.1h0M910.4 781.4h0M910.7 786.4h0M910.3 788.4h0M910.8 791.6h0M910.7 796.2h0M910.6 804.6h0M910.4 810.7h0M911.1 818.0h0M910.5 825.4h0M910.6 829.5h0M910.6 834.9h0M910.1 838.2h0M910.2 842.8h0M910.5 844.7h0M910.6 846.7h0M910.6 852.9h0M910.6 860.3h0M910.4 861.9h0M910.4 867.8h0M910.3 873.5h0M910.7 876.4h0M910.7 881.7h0M910.3 884.1h0M910.6 892.2h0M910.8 899.7h0M910.2 905.4h0M910.3 908.7h0M910.1 911.6h0M910.4 920.0h0M910.8 927.1h0M910.3 931.1h0M910.5 938.1h0M910.5 943.5h0M910.1 948.5h0M910.5 951.3h0M911.4 826.2h0M911.4 892.2h0M913.0 804.9h0M913.5 812.2h0M912.6 818.7h0M913.6 824.0h0M912.8 829.9h0M913.4 836.1h0M913.6 839.9h0M913.4 847.4h0M913.1 855.9h0M913.6 857.8h0M913.4 859.8h0M913.1 868.0h0M913.5 875.4h0M913.1 880.7h0M913.1 885.4h0M913.2 893.6h0M913.7 898.4h0M913.5 900.9h0M913.6 908.0h0M914.0 912.5h0M913.6 915.0h0M913.7 922.7h0M913.4 925.2h0M912.9 928.5h0M913.5 933.1h0M913.0 937.5h0M913.5 941.0h0M913.4 949.2h0M913.5 954.5h0M913.3 958.5h0M913.2 964.7h0M913.5 968.7h0M913.2 973.3h0M914.8 817.0h0M914.7 821.7h0M914.8 827.1h0M914.5 831.6h0M915.0 833.7h0M915.0 836.5h0M914.8 839.3h0M914.7 847.2h0M914.9 850.3h0M915.1 852.8h0M914.7 859.1h0M914.8 866.3h0M914.5 872.5h0M915.1 878.6h0M915.1 883.2h0M915.1 891.3h0M914.8 895.4h0M914.8 902.3h0M914.7 909.9h0M915.1 915.0h0M914.9 918.2h0M916.5 929.6h0M916.5 915.6h0M916.5 808.2h0M916.5 822.0h0M918.6 873.0h0M918.6 848.8h0M918.6 847.3h0M919.9 848.1h0M919.2 855.7h0M919.4 859.3h0M919.6 864.8h0M920.3 867.8h0M919.5 873.8h0M921.2 755.0h0M921.1 757.7h0M921.8 760.9h0M921.4 766.8h0M921.3 773.3h0M921.5 778.2h0M921.5 786.3h0M921.0 790.6h0M921.1 795.6h0M921.5 797.4h0M921.0 801.3h0M921.5 804.8h0M921.9 812.2h0M920.9 816.4h0M921.0 819.3h0M921.2 821.0h0M921.1 826.5h0M921.4 828.1h0M921.3 834.1h0M921.7 839.9h0M921.2 845.1h0M921.6 846.7h0M921.2 854.2h0M921.4 856.0h0M921.0 859.0h0M921.6 863.3h0M921.4 866.4h0M922.4 861.9h0M925.0 762.2h0M924.2 769.1h0M924.5 774.8h0M925.2 783.0h0M924.2 791.2h0M925.0 797.4h0M924.6 804.8h0M924.2 809.1h0M924.3 816.2h0M924.2 823.8h0M924.8 825.5h0M924.5 827.7h0M925.0 835.1h0M924.8 838.1h0M924.5 840.6h0M924.1 845.0h0M923.8 850.6h0M924.3 855.7h0M924.2 861.0h0M924.6 867.3h0M926.3 819.9h0M928.1 821.5h0M927.3 824.3h0M927.8 831.0h0M927.4 838.5h0M927.5 841.3h0M928.0 847.9h0M927.5 852.6h0M928.2 856.8h0M927.7 861.3h0M929.0 837.0h0M929.0 763.5h0M929.0 781.2h0M929.0 839.1h0M930.7 693.0h0M930.4 697.0h0M930.3 699.5h0M930.6 705.6h0M930.2 711.8h0M930.7 714.6h0M930.3 721.9h0M930.3 724.2h0M930.3 729.9h0M930.0 737.0h0M930.4 744.8h0M930.4 747.5h0M930.0 751.9h0M930.3 754.0h0M930.1 759.2h0M930.8 761.0h0M930.3 766.1h0M930.7 773.8h0M930.4 775.8h0M930.3 783.0h0M930.4 789.4h0M929.8 792.0h0M930.4 793.6h0M930.2 800.2h0M929.9 808.1h0M930.4 813.5h0M930.2 815.5h0M930.5 821.9h0M932.2 793.0h0M932.0 795.4h0M932.2 802.4h0M932.4 807.5h0M932.3 809.4h0M932.0 812.6h0M932.0 815.6h0M932.1 818.0h0M931.9 819.6h0M931.6 821.6h0M932.6 825.6h0M932.1 829.7h0M932.4 838.1h0M932.5 846.0h0M933.2 713.9h0M933.5 716.5h0M933.1 718.6h0M933.0 720.1h0M933.3 727.0h0M933.7 735.5h0M933.9 741.9h0M933.5 746.8h0M933.7 752.6h0M934.1 759.4h0M933.4 762.7h0M933.8 769.5h0M933.3 776.9h0M933.7 783.3h0M933.3 790.1h0M933.1 795.2h0M933.3 797.9h0M933.5 802.8h0M933.5 805.1h0M933.9 809.4h0M933.4 812.7h0M933.2 814.4h0M933.3 818.7h0M934.0 826.8h0M933.0 830.6h0M932.6 833.2h0M933.2 839.1h0M932.6 844.2h0M933.2 849.2h0M933.2 851.8h0M933.6 853.8h0M933.5 859.8h0M933.7 867.7h0M933.1 871.3h0M933.5 873.2h0M933.2 876.7h0M933.4 880.3h0M934.4 768.6h0M934.7 776.9h0M934.9 780.9h0M934.8 787.4h0M935.3 791.8h0M935.1 797.2h0M934.9 803.2h0M934.3 809.7h0M935.2 817.1h0M934.5 818.8h0M934.8 820.9h0M935.4 824.0h0M934.9 831.6h0M934.5 834.3h0M934.9 836.5h0M934.7 841.9h0M934.7 844.2h0M936.1 865.7h0M936.1 848.8h0M936.1 798.6h0M937.5 804.0h0M937.4 812.5h0M937.3 820.8h0M937.8 828.5h0M937.6 834.8h0M937.1 842.8h0M937.3 850.3h0M939.1 865.2h0M939.1 806.6h0M939.1 846.5h0M940.4 836.4h0M940.4 817.7h0M940.4 883.0h0M940.4 870.8h0M941.8 797.8h0M941.8 801.0h0M942.4 807.4h0M941.9 812.7h0M941.8 816.4h0M942.2 823.8h0M942.3 826.8h0M941.8 834.2h0M941.9 839.7h0M941.3 844.7h0M942.2 852.7h0M942.2 860.3h0M941.5 868.0h0M941.6 873.0h0M941.7 876.1h0M941.8 880.4h0M942.1 885.2h0M942.0 887.6h0M941.7 894.8h0M941.5 899.3h0M944.0 830.4h0M943.7 838.8h0M943.8 844.9h0M943.6 848.7h0M943.9 854.6h0M943.7 860.2h0M943.5 866.9h0M943.7 870.0h0M943.4 877.1h0M943.8 883.2h0M945.4 821.7h0M945.1 829.9h0M944.9 834.6h0M944.8 836.4h0M944.8 840.9h0M944.5 844.4h0M945.1 847.4h0M944.7 850.6h0M944.5 854.3h0M944.7 858.0h0M944.7 864.9h0M945.4 870.1h0M945.1 872.3h0M944.4 877.1h0M944.6 882.8h0M944.9 889.7h0M944.5 894.1h0M945.0 898.1h0M944.9 905.9h0M944.9 909.6h0M944.6 917.5h0M944.5 924.0h0M946.1 854.4h0M945.8 861.0h0M946.2 867.7h0M945.9 872.1h0M946.1 873.6h0M946.0 876.7h0M948.0 889.2h0M948.0 891.7h0M950.1 830.0h0M950.1 832.1h0M949.9 839.5h0M949.7 847.0h0M950.1 848.7h0M949.9 851.3h0M949.9 853.3h0M949.8 859.1h0M950.0 862.7h0M949.9 866.2h0M949.9 874.0h0M949.9 879.3h0M949.9 881.7h0M949.2 885.8h0M950.1 892.2h0M949.5 894.5h0M950.0 896.8h0M949.5 903.5h0M949.3 906.1h0M949.8 907.7h0M949.7 911.0h0M950.0 915.7h0M950.1 918.3h0M949.6 926.0h0M949.2 928.4h0M950.4 935.1h0M950.7 939.8h0M949.9 942.6h0M950.1 947.6h0M950.5 949.3h0M950.0 956.8h0M949.7 963.0h0M949.8 966.1h0M949.9 969.1h0M950.2 971.3h0M951.6 868.4h0M952.0 870.1h0M952.3 873.7h0M951.4 876.2h0M951.6 881.9h0M952.0 889.1h0M952.1 891.5h0M951.7 899.6h0M952.3 906.4h0M952.8 912.1h0M951.3 915.8h0M952.0 920.1h0M951.7 922.0h0M951.5 930.2h0M952.4 933.6h0M952.2 940.2h0M952.0 948.0h0M952.1 953.6h0M953.1 835.3h0M953.5 843.0h0M953.6 851.3h0M953.0 854.1h0M953.7 861.1h0M953.5 863.1h0M953.4 871.1h0M953.8 874.0h0M953.3 877.7h0M953.2 880.9h0M953.3 883.8h0M955.0 861.4h0M956.0 878.1h0M957.0 850.3h0M956.7 853.6h0M956.8 858.1h0M957.0 863.6h0M956.3 865.7h0M957.5 870.0h0M957.1 875.0h0M956.5 881.7h0M957.0 885.9h0M956.9 891.7h0M957.1 893.3h0M957.2 897.3h0M957.7 903.9h0M957.1 906.1h0M959.2 890.4h0M960.7 821.2h0M962.7 848.6h0M962.5 853.8h0M962.7 858.2h0M962.4 861.2h0M962.2 864.0h0M964.6 820.5h0M966.2 829.1h0M966.2 875.3h0M966.2 847.2h0M966.2 877.3h0M968.3 837.2h0M968.3 793.4h0M968.3 873.4h0M968.3 811.4h0M970.7 753.3h0M970.6 760.0h0M970.8 765.1h0M970.1 769.6h0M970.3 777.0h0M970.8 781.0h0M970.1 784.8h0M970.0 791.6h0M970.4 793.3h0M969.9 796.3h0M970.0 798.5h0M970.7 806.5h0M970.1 813.9h0M970.4 818.0h0M970.1 823.6h0M970.0 826.7h0M970.8 832.1h0M970.7 839.2h0M970.6 843.0h0M970.0 849.4h0M970.5 852.2h0M970.2 859.9h0M970.1 863.0h0M971.7 824.7h0M973.6 824.9h0M975.8 845.6h0M975.8 825.2h0M975.8 851.5h0M975.8 837.2h0M977.5 838.4h0M978.8 840.6h0M978.5 846.3h0M978.8 850.1h0M978.7 856.4h0M978.8 860.2h0M979.9 834.7h0M979.9 824.6h0M979.9 835.6h0M979.9 834.6h0M981.9 826.6h0M982.9 814.6h0M982.9 820.0h0M982.9 832.4h0M982.9 842.8h0M985.5 823.2h0M985.1 830.7h0M985.2 838.8h0M985.7 846.9h0M985.1 849.1h0M985.1 854.9h0M985.1 856.9h0M985.3 860.1h0M987.3 813.6h0M987.3 847.9h0M987.3 811.9h0M989.4 838.4h0M989.4 832.1h0M991.2 804.2h0M990.4 806.6h0M990.5 809.9h0M990.2 817.6h0M990.2 824.8h0M990.3 829.3h0M990.7 833.3h0M990.8 840.3h0M991.6 806.6h0M992.2 810.4h0M991.7 814.1h0M991.8 820.9h0M991.6 828.8h0M991.7 833.4h0M992.0 838.6h0M991.7 843.7h0M991.9 849.7h0M993.6 796.1h0M993.6 801.5h0M993.6 806.7h0M993.9 808.2h0M994.2 809.9h0M993.4 811.9h0M993.2 818.0h0M993.5 825.4h0M995.7 808.1h0M995.7 837.7h0M995.7 816.6h0M995.7 841.9h0M997.6 804.6h0M997.6 811.6h0M997.6 828.8h0M997.6 815.7h0M999.4 793.0h0M999.2 796.6h0M999.6 802.9h0M999.5 808.9h0M999.5 813.1h0M999.0 817.3h0M999.2 823.2h0M999.5 826.3h0M999.9 828.4h0M1000.0 831.8h0M999.6 837.7h0M999.2 840.7h0M1000.9 801.9h0M1000.9 804.3h0M1000.7 812.3h0M1001.0 814.8h0M1000.6 818.2h0M1000.5 824.6h0M1000.7 829.9h0M1001.0 835.9h0M1000.4 837.6h0M1000.8 842.5h0M1000.4 845.2h0M1001.6 821.2h0M1001.5 824.8h0M1002.1 829.6h0M1002.2 831.6h0M1003.3 814.9h0M1002.9 822.2h0M1003.0 830.7h0" stroke="#ED1C24" stroke-width="1.5" stroke-linecap="square" fill="none"/>
<path d="M210.7 1007.3 L212.9 1007.1 L216.0 1006.7 L219.7 1006.4 L223.5 1006.0 L227.2 1005.7 L230.4 1005.6 L233.1 1005.7 L235.4 1006.0 L237.7 1006.4 L239.9 1006.8 L242.2 1007.1 L244.7 1007.2 L247.5 1007.1 L250.4 1007.0 L253.4 1006.7 L256.4 1006.3 L259.5 1005.9 L262.5 1005.3 L265.6 1004.6 L268.8 1003.7 L272.0 1002.7 L275.1 1001.8 L277.9 1000.8 L280.4 1000.0 L282.4 999.3 L284.1 998.5 L285.5 997.8 L286.7 997.2 L288.0 996.8 L289.4 996.6 L290.8 996.7 L292.1 997.1 L293.4 997.6 L294.8 998.2 L296.4 998.7 L298.3 999.0 L300.5 999.1 L302.9 999.0 L305.6 998.9 L308.4 998.7 L311.3 998.5 L314.4 998.2 L317.7 997.8 L321.3 997.3 L325.1 996.7 L328.9 996.1 L332.5 995.7 L335.8 995.5 L338.9 995.6 L341.8 996.1 L344.6 996.7 L347.3 997.2 L349.7 997.5 L351.9 997.3 L353.8 996.6 L355.4 995.4 L356.7 993.9 L358.0 992.4 L359.4 991.1 L360.9 990.1 L362.6 989.5 L364.3 989.1 L366.0 988.8 L367.8 988.6 L369.7 988.5 L371.6 988.3 L373.6 988.1 L375.8 988.1 L378.0 988.0 L380.1 987.9 L382.2 987.7 L384.1 987.4 L385.8 987.0 L387.3 986.5 L388.8 985.9 L390.2 985.1 L391.6 984.2 L393.0 983.0 L394.5 981.3 L396.1 979.2 L397.6 976.8 L399.1 974.6 L400.6 972.7 L402.0 971.5 L403.3 971.1 L404.4 971.2 L405.6 971.7 L406.7 972.4 L407.8 973.2 L409.1 974.0 L410.5 974.9 L411.9 976.1 L413.5 977.4 L415.0 978.6 L416.5 979.6 L418.0 980.0 L419.5 980.1 L420.9 980.0 L422.4 979.5 L423.8 978.7 L425.2 977.4 L426.5 975.5 L427.8 972.9 L429.1 969.8 L430.3 966.2 L431.5 962.1 L432.7 957.6 L433.8 952.8 L434.9 947.2 L436.0 940.6 L437.1 933.6 L438.1 926.8 L439.1 920.5 L440.0 915.4 L440.8 911.5 L441.5 908.3 L442.1 905.8 L442.7 903.7 L443.3 902.0 L443.9 900.4 L444.5 898.9 L445.1 897.7 L445.7 896.9 L446.3 896.3 L446.9 896.2 L447.6 896.5 L448.4 897.3 L449.2 898.5 L450.1 900.1 L451.0 902.1 L451.8 904.4 L452.7 907.0 L453.5 910.2 L454.4 914.1 L455.2 918.2 L456.1 922.4 L456.9 926.3 L457.7 929.6 L458.5 932.3 L459.1 934.6 L459.8 936.7 L460.6 938.4 L461.4 939.9 L462.5 941.0 L463.8 941.5 L465.3 941.5 L466.9 941.0 L468.6 940.7 L470.4 940.6 L472.0 941.3 L473.6 942.8 L475.2 944.9 L476.8 947.3 L478.5 949.9 L480.1 952.3 L481.7 954.3 L483.4 956.1 L485.1 957.8 L486.8 959.3 L488.5 960.7 L490.1 961.8 L491.5 962.5 L492.8 962.9 L493.9 963.0 L494.9 962.9 L495.8 962.4 L496.9 961.8 L498.0 960.8 L499.3 959.5 L500.6 957.7 L501.9 955.8 L503.3 953.6 L504.7 951.5 L506.1 949.5 L507.4 947.5 L508.8 945.5 L510.1 943.4 L511.5 941.4 L512.8 939.6 L514.2 938.1 L515.6 936.8 L516.9 935.7 L518.3 934.7 L519.7 933.9 L521.0 933.4 L522.4 933.2 L523.8 933.3 L525.1 933.8 L526.5 934.6 L527.8 935.5 L529.2 936.4 L530.5 937.3 L531.9 938.3 L533.3 939.4 L534.6 940.6 L536.0 941.7 L537.3 942.6 L538.6 943.0 L539.8 943.1 L540.9 942.9 L542.0 942.5 L543.1 941.9 L544.1 940.9 L545.1 939.7 L546.0 938.2 L546.9 936.6 L547.7 934.6 L548.4 932.4 L549.2 929.7 L550.0 926.7 L550.8 923.2 L551.6 919.4 L552.4 915.1 L553.2 910.6 L554.0 905.7 L554.9 900.7 L555.9 895.1 L557.0 888.9 L558.1 882.5 L559.2 876.1 L560.3 870.2 L561.3 865.0 L562.2 860.8 L562.9 857.4 L563.6 854.4 L564.4 851.6 L565.1 848.5 L566.0 845.0 L567.0 841.0 L568.0 836.6 L569.0 832.1 L570.1 827.6 L571.3 823.0 L572.5 818.7 L573.8 814.4 L575.1 810.2 L576.4 806.0 L577.8 801.9 L579.2 798.0 L580.6 794.3 L581.9 790.9 L583.3 787.7 L584.6 784.6 L586.0 781.8 L587.3 779.1 L588.7 776.5 L590.1 774.1 L591.4 771.7 L592.8 769.6 L594.2 767.6 L595.5 765.8 L596.9 764.3 L598.2 763.0 L599.5 762.0 L600.9 761.1 L602.2 760.5 L603.6 759.9 L605.0 759.4 L606.5 759.0 L608.1 758.7 L609.7 758.6 L611.4 758.5 L613.1 758.5 L614.7 758.6 L616.3 758.7 L617.8 758.9 L619.4 759.1 L621.0 759.4 L622.7 759.8 L624.5 760.2 L626.5 760.7 L628.7 761.3 L631.0 762.0 L633.3 762.7 L635.5 763.5 L637.5 764.3 L639.3 765.1 L641.0 765.9 L642.5 766.8 L644.1 767.7 L645.6 768.8 L647.2 770.0 L648.8 771.3 L650.5 772.8 L652.1 774.3 L653.7 776.0 L655.4 777.8 L657.0 779.7 L658.6 781.8 L660.3 784.1 L662.0 786.6 L663.6 789.1 L665.2 791.7 L666.7 794.3 L668.2 796.9 L669.5 799.6 L670.9 802.3 L672.2 805.1 L673.6 807.9 L674.9 810.6 L676.3 813.3 L677.7 816.0 L679.1 818.7 L680.4 821.4 L681.7 824.1 L683.0 826.8 L684.2 829.5 L685.3 832.1 L686.5 834.7 L687.5 837.4 L688.5 840.2 L689.5 843.1 L690.5 846.4 L691.4 850.1 L692.3 853.9 L693.1 857.4 L693.8 860.4 L694.3 862.6" fill="none" stroke="#ED1C24" stroke-width="6.5" stroke-linejoin="round" stroke-linecap="butt"/>
<path d="M701.5 850.5 L702.2 851.0 L703.2 851.6 L704.3 852.4 L705.6 853.3 L706.8 854.2 L708.0 855.0 L709.1 855.8 L710.3 856.6 L711.5 857.5 L712.6 858.4 L713.8 859.2 L715.0 860.0 L716.1 860.8 L717.2 861.5 L718.2 862.2 L719.4 863.0 L720.6 863.7 L722.0 864.5 L723.7 865.4 L725.8 866.3 L727.9 867.3 L730.0 868.2 L731.8 869.0 L733.0 869.5" fill="none" stroke="#ED1C24" stroke-width="6.5" stroke-linejoin="round" stroke-linecap="butt"/>
<path d="M838.0 804.0 L838.2 804.0 L838.4 804.0 L838.6 804.0 L839.0 804.2 L839.6 804.7 L840.3 805.5 L841.3 806.9 L842.6 808.9 L844.1 811.1 L845.6 813.4 L847.1 815.4 L848.4 817.0 L849.6 818.2 L850.8 819.1 L851.9 819.8 L853.0 820.3 L854.2 820.5 L855.3 820.5 L856.4 820.2 L857.6 819.6 L858.8 818.8 L859.9 817.7 L861.0 816.4 L862.2 814.7 L863.3 812.6 L864.4 809.9 L865.5 807.0 L866.6 804.0 L867.8 801.1 L869.1 798.6 L870.5 796.2 L872.1 793.8 L873.7 791.6 L875.3 789.6 L876.9 788.0 L878.3 787.1 L879.6 786.7 L880.8 786.6 L881.9 787.0 L883.0 787.9 L884.1 789.4 L885.2 791.7 L886.4 794.9 L887.5 798.9 L888.7 803.5 L889.8 808.6 L891.0 813.9 L892.1 819.3 L893.2 824.9 L894.4 830.9 L895.5 837.1 L896.7 843.5 L897.9 849.9 L899.0 856.1 L900.2 862.5 L901.4 869.3 L902.6 876.1 L903.8 882.5 L904.9 888.2 L905.9 892.9 L906.8 896.6 L907.6 899.5 L908.3 901.8 L909.0 903.4 L909.7 904.2 L910.5 904.4 L911.4 903.8 L912.3 902.5 L913.3 900.5 L914.3 897.8 L915.2 894.5 L916.2 890.6 L917.1 885.8 L918.1 880.0 L919.0 873.5 L920.0 866.7 L921.0 860.1 L922.0 853.8 L923.1 847.5 L924.3 840.9 L925.5 834.4 L926.7 828.3 L927.9 823.2 L928.9 819.3 L929.8 816.9 L930.5 815.6 L931.2 815.1 L931.9 815.4 L932.6 816.1 L933.4 817.0 L934.3 818.3 L935.2 820.2 L936.2 822.5 L937.2 825.1 L938.2 827.9 L939.2 830.8 L940.1 833.9 L941.1 837.3 L942.0 840.9 L942.9 844.5 L943.9 848.1 L944.9 851.5 L946.0 854.9 L947.2 858.3 L948.4 861.7 L949.6 864.9 L950.8 867.7 L951.8 869.9 L952.7 871.6 L953.4 872.9 L954.1 873.8 L954.8 874.3 L955.5 874.6 L956.4 874.5 L957.4 874.1 L958.4 873.4 L959.6 872.3 L960.7 871.0 L962.0 869.4 L963.3 867.6 L964.7 865.4 L966.2 862.7 L967.8 859.8 L969.3 856.9 L970.9 854.0 L972.5 851.5 L974.0 849.3 L975.6 847.2 L977.1 845.3 L978.6 843.5 L980.2 841.7 L981.7 840.0 L983.2 838.3 L984.6 836.7 L986.0 835.1 L987.5 833.6 L989.1 832.2 L990.9 830.8 L993.1 829.4 L995.7 828.1 L998.4 826.8 L1001.0 825.6 L1003.1 824.6 L1004.7 823.9" fill="none" stroke="#ED1C24" stroke-width="6.5" stroke-linejoin="round" stroke-linecap="butt"/>
<path d="M208.3 1001.2h0M207.8 993.1h0M207.8 995.6h0M208.2 998.6h0M208.6 1004.7h0M208.2 1003.3h0M208.6 1001.0h0M208.6 1002.4h0M208.7 1004.7h0M208.6 993.8h0M209.4 1002.8h0M209.0 1005.6h0M209.4 979.7h0M209.3 987.5h0M209.8 1005.4h0M209.8 1005.3h0M209.6 997.7h0M209.9 997.7h0M210.8 1004.4h0M210.6 999.1h0M210.6 1003.5h0M211.2 998.8h0M211.3 993.9h0M211.1 997.6h0M211.3 1005.9h0M211.6 1005.8h0M211.4 997.1h0M211.7 998.0h0M211.6 999.1h0M212.3 984.4h0M212.1 974.8h0M212.6 996.4h0M213.2 1001.6h0M213.1 1000.0h0M212.9 997.0h0M213.4 1002.7h0M213.6 997.7h0M213.7 990.0h0M214.2 995.9h0M214.2 999.4h0M214.8 1001.3h0M215.3 979.6h0M215.5 988.0h0M215.4 975.6h0M215.1 989.4h0M215.9 994.9h0M215.7 999.0h0M216.5 971.7h0M216.3 977.6h0M216.9 990.5h0M217.1 993.0h0M217.1 988.8h0M217.0 990.1h0M217.9 985.4h0M217.8 982.1h0M217.8 986.8h0M217.4 986.1h0M217.9 992.9h0M218.1 974.4h0M218.1 980.7h0M218.4 988.0h0M218.6 983.2h0M218.5 986.0h0M218.6 986.6h0M218.6 981.5h0M219.2 985.1h0M218.9 984.6h0M219.9 987.2h0M219.9 987.6h0M220.3 978.8h0M220.3 978.0h0M219.9 986.8h0M220.9 979.9h0M221.4 966.3h0M221.5 964.5h0M221.4 963.1h0M221.6 975.9h0M221.9 967.9h0M221.9 983.5h0M222.1 980.2h0M222.2 965.6h0M222.8 978.4h0M223.6 974.0h0M223.7 961.8h0M223.4 979.0h0M223.2 984.6h0M224.1 970.9h0M224.1 964.1h0M224.1 972.3h0M224.0 955.3h0M224.4 962.2h0M224.4 956.1h0M224.4 959.5h0M224.3 967.9h0M225.0 980.9h0M225.2 976.4h0M225.3 971.8h0M225.9 977.4h0M226.2 983.5h0M226.6 975.6h0M226.3 970.5h0M226.3 967.1h0M226.7 983.5h0M226.9 983.8h0M226.9 983.0h0M227.3 969.5h0M227.4 976.9h0M227.9 952.4h0M228.0 987.0h0M228.2 982.5h0M228.0 965.6h0M228.5 977.8h0M228.8 981.8h0M228.9 984.4h0M228.8 983.0h0M229.1 989.8h0M228.8 978.5h0M229.3 976.6h0M230.0 977.4h0M230.7 982.3h0M231.4 966.1h0M231.2 969.0h0M231.9 978.2h0M231.9 982.2h0M231.5 979.4h0M232.0 941.2h0M232.1 975.4h0M232.2 975.6h0M233.0 978.5h0M232.9 982.9h0M233.0 982.8h0M233.0 981.7h0M233.5 980.4h0M233.6 971.1h0M233.6 978.4h0M234.3 977.2h0M234.7 979.0h0M234.5 976.4h0M234.6 977.2h0M234.8 977.1h0M235.1 978.3h0M235.5 984.3h0M236.0 974.3h0M236.6 968.8h0M236.7 982.8h0M236.4 976.2h0M236.7 981.1h0M236.9 980.5h0M237.0 979.0h0M237.3 980.4h0M237.3 973.4h0M237.6 972.5h0M237.9 974.4h0M237.7 979.1h0M237.8 979.9h0M238.4 977.8h0M239.3 976.7h0M238.8 976.8h0M239.2 977.7h0M239.1 973.0h0M239.5 977.7h0M239.3 977.0h0M239.9 980.3h0M240.7 976.9h0M240.4 975.2h0M240.7 976.2h0M240.5 979.8h0M241.1 975.4h0M240.6 983.7h0M240.7 962.3h0M240.6 964.5h0M241.0 967.2h0M240.8 970.5h0M241.4 966.6h0M241.8 955.2h0M241.5 973.5h0M241.4 941.0h0M241.6 950.8h0M241.4 963.0h0M241.6 976.8h0M241.3 962.4h0M242.2 969.2h0M242.0 983.7h0M242.1 974.0h0M242.3 980.8h0M242.4 984.1h0M242.1 979.0h0M242.7 973.9h0M242.6 977.3h0M242.6 971.7h0M243.1 975.7h0M243.2 975.0h0M243.1 978.1h0M243.1 979.9h0M243.5 981.8h0M243.6 976.1h0M243.8 981.7h0M243.3 975.3h0M244.0 977.4h0M244.2 971.9h0M243.6 973.5h0M243.9 945.7h0M244.1 968.2h0M244.1 974.6h0M244.0 980.7h0M244.3 984.5h0M244.2 983.5h0M244.4 976.3h0M244.6 977.7h0M244.8 980.2h0M245.0 977.9h0M245.5 960.9h0M245.9 937.2h0M246.5 985.8h0M246.2 981.5h0M246.4 974.8h0M247.0 970.6h0M246.9 977.3h0M247.2 968.9h0M246.9 972.3h0M246.6 960.5h0M246.8 964.7h0M247.2 981.3h0M247.5 982.1h0M247.4 981.4h0M248.0 983.3h0M248.5 985.7h0M248.7 965.9h0M248.6 959.0h0M248.4 976.2h0M248.9 980.6h0M249.1 969.9h0M249.3 988.1h0M249.6 978.9h0M249.5 979.8h0M249.7 975.4h0M250.2 972.9h0M250.4 988.7h0M250.7 982.7h0M250.7 985.4h0M251.4 989.8h0M251.3 959.1h0M252.0 965.7h0M251.8 967.3h0M252.3 974.8h0M252.0 962.5h0M252.1 976.7h0M252.1 978.5h0M252.9 983.0h0M252.9 986.4h0M252.6 984.2h0M252.8 988.5h0M253.1 980.9h0M252.9 977.1h0M253.1 982.1h0M253.1 982.2h0M253.4 971.1h0M253.9 977.1h0M253.9 972.3h0M253.9 975.1h0M254.5 985.5h0M254.2 983.2h0M254.6 984.4h0M254.7 988.7h0M255.0 990.9h0M255.5 977.2h0M255.1 979.0h0M255.2 990.9h0M255.4 984.3h0M255.9 985.2h0M256.1 982.2h0M255.9 976.3h0M255.9 980.1h0M256.3 984.8h0M256.7 980.2h0M256.8 988.4h0M257.0 984.1h0M256.8 972.6h0M257.0 984.5h0M257.0 984.1h0M257.4 980.1h0M257.8 991.6h0M257.8 987.5h0M257.6 987.8h0M258.4 978.2h0M258.7 974.0h0M259.2 965.2h0M259.0 947.3h0M259.0 970.1h0M259.3 977.5h0M259.2 938.4h0M259.1 942.0h0M259.4 963.0h0M259.0 960.7h0M259.6 980.6h0M259.7 984.1h0M260.6 985.4h0M260.3 981.2h0M260.3 984.6h0M260.8 972.6h0M260.7 970.8h0M260.5 981.7h0M260.7 973.9h0M261.0 983.3h0M261.1 979.9h0M261.3 979.2h0M261.1 975.7h0M261.9 978.9h0M261.9 978.9h0M262.3 983.4h0M262.2 978.8h0M262.0 982.2h0M262.2 977.8h0M262.4 973.0h0M262.9 973.7h0M262.8 984.5h0M263.1 982.4h0M262.8 983.3h0M263.6 979.4h0M264.1 974.4h0M264.5 982.0h0M264.2 980.6h0M264.2 973.8h0M264.5 972.2h0M264.6 964.1h0M264.7 981.2h0M264.8 970.8h0M265.4 972.3h0M265.4 976.9h0M265.5 989.2h0M265.8 983.3h0M265.6 980.0h0M266.3 973.6h0M267.2 980.0h0M267.6 981.3h0M267.5 983.4h0M267.2 972.4h0M268.0 975.9h0M268.1 980.2h0M268.3 980.2h0M268.8 971.3h0M268.8 979.6h0M268.4 964.7h0M269.1 982.0h0M268.9 978.7h0M269.8 976.0h0M269.6 975.6h0M270.3 972.5h0M269.8 983.7h0M270.3 960.5h0M270.8 975.5h0M271.0 969.4h0M271.2 973.3h0M271.6 976.9h0M271.4 972.2h0M271.1 977.6h0M271.5 974.4h0M271.9 968.7h0M272.3 971.2h0M272.3 969.4h0M272.1 974.8h0M272.7 973.0h0M273.6 973.8h0M273.5 974.5h0M273.5 971.3h0M274.0 971.5h0M273.5 973.6h0M273.6 967.6h0M274.6 966.3h0M274.4 963.1h0M274.6 972.0h0M274.1 945.8h0M274.0 963.3h0M274.2 957.5h0M274.3 964.0h0M275.2 970.5h0M275.0 975.3h0M275.3 971.4h0M275.5 973.6h0M275.1 969.9h0M276.1 963.1h0M275.8 955.4h0M276.5 959.7h0M276.2 942.3h0M276.6 965.2h0M276.7 968.1h0M277.1 972.0h0M276.7 952.2h0M277.6 968.5h0M277.1 966.3h0M277.2 968.9h0M277.8 971.3h0M278.0 970.2h0M277.8 967.4h0M278.5 971.5h0M279.0 964.8h0M279.1 973.6h0M278.6 955.6h0M278.6 955.3h0M279.4 953.9h0M279.6 958.9h0M279.9 971.3h0M279.9 970.4h0M280.4 970.7h0M280.4 969.5h0M280.9 966.9h0M280.9 963.4h0M281.3 963.9h0M281.3 976.4h0M281.4 979.9h0M281.9 976.0h0M281.9 965.9h0M281.7 970.2h0M282.1 966.6h0M282.6 968.3h0M282.6 975.3h0M283.0 968.5h0M282.8 971.1h0M283.0 977.0h0M283.6 978.0h0M283.8 952.6h0M283.8 960.7h0M283.7 974.7h0M283.7 977.7h0M284.2 978.3h0M284.0 975.3h0M284.1 977.1h0M284.6 973.1h0M285.2 972.2h0M285.3 981.9h0M285.1 971.9h0M285.7 969.3h0M285.8 982.0h0M285.8 983.2h0M286.0 978.6h0M286.9 981.8h0M286.7 978.7h0M286.6 986.0h0M286.6 980.3h0M286.9 982.2h0M287.2 976.7h0M287.4 976.0h0M287.7 985.4h0M288.0 975.8h0M288.1 980.8h0M288.2 980.6h0M288.2 974.8h0M288.2 971.5h0M288.3 980.5h0M288.3 981.3h0M288.9 981.8h0M289.7 991.1h0M289.4 986.5h0M290.0 990.0h0M289.8 987.2h0M289.8 993.2h0M290.1 985.1h0M290.3 986.8h0M290.5 986.8h0M290.5 989.0h0M290.7 988.5h0M291.1 996.2h0M291.9 980.4h0M291.9 987.5h0M291.8 988.9h0M291.7 984.5h0M292.6 976.5h0M292.4 982.0h0M292.3 972.0h0M292.9 989.1h0M293.0 982.8h0M292.7 979.1h0M293.2 986.7h0M293.3 981.7h0M293.2 986.6h0M294.2 986.9h0M293.8 990.6h0M294.2 986.5h0M294.2 987.1h0M294.9 982.4h0M295.3 985.8h0M295.4 980.4h0M295.1 984.0h0M295.2 978.4h0M295.5 971.6h0M295.5 979.7h0M296.2 984.2h0M296.6 978.8h0M296.7 987.0h0M297.0 974.6h0M296.6 970.1h0M297.4 983.5h0M297.3 982.1h0M297.8 981.9h0M297.4 988.4h0M297.7 983.9h0M297.9 990.8h0M298.2 981.0h0M298.7 973.9h0M298.3 963.1h0M298.5 944.0h0M298.7 952.9h0M298.3 982.9h0M298.3 975.4h0M299.3 978.8h0M299.1 978.3h0M299.5 975.6h0M299.6 981.6h0M300.0 974.0h0M300.0 980.5h0M300.0 979.6h0M300.0 981.4h0M300.8 982.4h0M301.1 984.6h0M301.4 981.7h0M301.4 976.6h0M301.3 982.7h0M301.4 966.2h0M302.1 973.2h0M302.1 973.7h0M301.9 977.3h0M302.4 967.4h0M302.6 976.9h0M303.1 980.0h0M302.9 975.0h0M303.1 972.7h0M302.9 973.9h0M303.2 974.8h0M304.0 961.1h0M303.8 978.3h0M303.5 974.8h0M304.6 954.5h0M304.5 965.4h0M304.2 969.9h0M304.5 977.3h0M305.0 976.6h0M304.6 976.7h0M304.6 968.9h0M305.2 970.8h0M305.3 957.8h0M305.8 969.3h0M306.3 971.7h0M306.7 967.3h0M306.7 970.8h0M306.7 972.2h0M307.2 977.7h0M306.9 980.5h0M307.7 976.2h0M307.4 973.2h0M308.1 960.7h0M308.5 969.9h0M308.6 978.6h0M308.8 976.5h0M308.8 973.7h0M309.3 973.1h0M309.6 975.0h0M309.5 975.4h0M309.6 975.9h0M309.7 980.6h0M310.9 981.7h0M311.5 972.1h0M311.6 977.3h0M311.5 976.3h0M312.0 978.5h0M311.8 985.0h0M311.9 974.2h0M312.3 980.1h0M312.5 966.9h0M312.0 971.6h0M312.9 974.4h0M313.4 972.0h0M313.2 968.0h0M313.7 967.2h0M314.1 981.1h0M314.0 966.8h0M314.0 972.2h0M313.9 971.6h0M314.5 976.9h0M314.7 978.2h0M314.4 973.7h0M315.2 979.5h0M315.5 979.0h0M315.2 979.6h0M315.1 982.1h0M316.2 983.6h0M315.6 977.2h0M316.6 965.7h0M316.3 984.7h0M317.2 981.9h0M317.5 987.3h0M317.4 974.4h0M318.3 979.7h0M318.2 980.0h0M318.2 975.7h0M317.8 980.6h0M318.3 942.4h0M318.7 930.2h0M318.6 983.1h0M318.3 958.6h0M318.2 930.6h0M318.2 966.8h0M318.7 959.5h0M318.4 952.6h0M318.4 947.5h0M319.1 979.5h0M319.0 983.6h0M319.0 981.6h0M319.9 985.0h0M319.4 980.4h0M319.4 974.4h0M320.5 983.6h0M320.2 981.9h0M320.8 979.9h0M321.2 985.9h0M321.2 989.9h0M321.6 972.1h0M321.9 981.0h0M322.2 988.8h0M322.5 987.7h0M322.4 981.7h0M322.0 987.9h0M322.8 983.1h0M322.9 981.4h0M323.5 964.9h0M323.7 962.1h0M323.3 982.0h0M324.0 982.4h0M324.3 983.9h0M324.5 984.8h0M324.9 983.9h0M325.4 985.1h0M325.4 977.5h0M325.5 987.1h0M325.9 987.2h0M325.7 982.8h0M325.9 980.4h0M325.8 979.3h0M326.3 978.4h0M326.6 982.3h0M327.0 990.9h0M327.3 991.8h0M327.2 990.6h0M327.7 984.6h0M327.8 987.8h0M327.4 979.3h0M328.1 979.1h0M328.3 962.6h0M328.0 988.3h0M328.5 970.6h0M328.7 976.8h0M328.6 989.7h0M328.3 978.3h0M328.4 983.4h0M328.9 987.7h0M328.8 987.9h0M329.3 989.9h0M329.1 990.4h0M329.8 975.9h0M330.0 989.4h0M330.1 980.6h0M330.0 988.9h0M330.8 982.2h0M330.7 991.3h0M331.0 986.7h0M331.1 989.3h0M330.8 984.9h0M331.2 967.0h0M331.4 972.2h0M332.2 961.0h0M331.8 984.0h0M331.8 971.9h0M332.3 935.4h0M331.8 972.0h0M331.7 959.3h0M331.9 949.9h0M332.5 985.9h0M332.6 980.0h0M332.5 988.3h0M332.5 983.3h0M332.8 977.9h0M332.9 979.0h0M332.8 973.9h0M333.6 980.1h0M333.4 980.9h0M333.1 979.7h0M333.1 971.1h0M333.6 976.4h0M333.6 970.0h0M334.0 983.0h0M334.4 978.8h0M335.1 980.4h0M335.7 979.5h0M336.3 978.7h0M336.3 978.7h0M336.4 978.6h0M336.5 978.9h0M336.8 982.6h0M337.5 983.6h0M337.1 979.6h0M338.0 979.2h0M338.0 959.7h0M337.6 960.2h0M338.0 968.9h0M338.4 970.6h0M338.7 971.3h0M338.9 948.6h0M339.1 969.1h0M339.2 947.5h0M338.8 957.6h0M338.8 963.5h0M339.2 967.9h0M339.3 952.3h0M339.9 970.9h0M339.5 967.1h0M339.8 978.6h0M339.8 956.6h0M339.7 957.5h0M340.3 978.5h0M340.5 970.1h0M340.9 960.9h0M340.6 971.5h0M341.2 966.4h0M341.3 974.1h0M340.9 974.0h0M341.8 962.6h0M342.1 950.2h0M341.8 965.0h0M341.6 973.8h0M342.6 960.7h0M342.7 965.0h0M342.3 957.9h0M342.5 952.4h0M343.2 966.3h0M342.9 963.8h0M343.6 971.3h0M343.5 971.6h0M343.1 963.3h0M343.9 967.8h0M343.7 965.5h0M343.9 963.2h0M344.0 966.4h0M344.2 960.3h0M344.3 960.8h0M345.0 970.7h0M345.6 965.9h0M346.0 960.2h0M345.9 968.8h0M346.2 967.2h0M346.4 977.0h0M346.9 967.7h0M347.0 967.7h0M347.0 964.3h0M347.1 965.3h0M347.4 971.1h0M347.6 961.4h0M347.5 964.9h0M347.7 969.0h0M347.6 961.2h0M347.4 967.1h0M347.9 970.9h0M347.8 964.2h0M347.8 965.9h0M348.8 968.9h0M348.5 974.6h0M348.3 969.7h0M348.3 967.7h0M348.6 969.3h0M348.7 956.5h0M349.0 964.6h0M349.0 973.6h0M349.4 968.7h0M349.4 969.3h0M349.9 969.0h0M349.5 975.2h0M349.4 971.5h0M349.9 972.5h0M350.3 975.9h0M350.2 975.0h0M350.6 974.4h0M350.6 968.3h0M350.5 972.7h0M351.4 959.5h0M351.2 967.0h0M351.1 970.2h0M351.7 973.0h0M352.0 953.6h0M352.4 970.3h0M352.6 970.3h0M352.7 968.4h0M352.6 965.2h0M353.0 969.5h0M353.4 953.5h0M353.3 958.1h0M353.8 978.8h0M354.2 969.7h0M354.7 979.8h0M354.7 965.9h0M354.7 974.4h0M354.7 975.8h0M355.1 983.2h0M355.1 971.7h0M355.4 966.2h0M355.6 970.7h0M355.3 976.9h0M355.7 972.5h0M356.0 985.4h0M356.1 975.8h0M356.0 922.4h0M356.0 978.0h0M356.9 977.4h0M356.6 978.7h0M356.9 975.9h0M356.9 977.8h0M357.2 966.1h0M357.7 983.1h0M358.0 983.4h0M357.9 963.2h0M357.9 971.1h0M358.3 979.0h0M358.9 978.6h0M359.0 974.1h0M358.5 971.9h0M358.9 979.5h0M359.1 967.1h0M359.3 967.7h0M359.7 963.5h0M359.8 966.7h0M359.9 968.2h0M359.7 986.3h0M360.8 979.4h0M360.3 979.6h0M360.5 982.2h0M361.1 983.1h0M361.1 987.1h0M361.2 980.9h0M360.8 982.3h0M361.2 976.3h0M361.7 988.6h0M361.6 954.9h0M361.8 979.5h0M361.7 951.4h0M362.2 983.7h0M362.2 977.5h0M362.2 974.0h0M362.1 980.4h0M363.1 978.3h0M363.0 981.9h0M362.9 983.8h0M362.9 981.6h0M363.5 977.3h0M363.6 976.3h0M364.3 977.5h0M363.8 976.0h0M364.8 982.6h0M364.2 978.9h0M364.5 979.4h0M364.7 982.1h0M365.1 967.1h0M365.0 982.4h0M365.1 982.4h0M364.9 977.7h0M365.9 987.4h0M365.8 983.7h0M365.4 984.9h0M365.5 982.0h0M365.7 978.8h0M366.3 983.9h0M366.4 983.4h0M366.7 985.1h0M366.6 981.8h0M367.1 976.4h0M367.7 976.8h0M367.8 985.9h0M367.7 981.7h0M368.1 987.5h0M367.7 990.5h0M368.0 983.4h0M368.5 978.5h0M367.9 985.0h0M368.7 982.1h0M368.6 982.6h0M369.5 986.2h0M369.8 989.8h0M370.2 985.9h0M370.7 983.8h0M370.6 986.8h0M370.3 985.5h0M371.0 988.6h0M371.4 989.7h0M371.1 983.8h0M371.1 993.6h0M372.1 987.1h0M371.8 996.3h0M371.7 992.0h0M371.9 991.4h0M372.5 973.0h0M372.4 985.7h0M372.4 979.8h0M372.6 995.8h0M373.3 979.0h0M373.0 991.9h0M373.1 989.2h0M373.1 989.4h0M373.5 983.0h0M373.5 953.1h0M373.2 978.6h0M374.2 992.9h0M374.4 981.8h0M374.3 997.1h0M374.4 987.9h0M375.3 992.2h0M374.8 987.9h0M375.1 995.0h0M375.2 996.5h0M375.3 986.4h0M375.3 992.1h0M375.4 989.1h0M375.6 985.4h0M375.8 987.3h0M375.8 992.1h0M375.9 996.9h0M376.2 998.8h0M376.9 997.0h0M376.6 999.3h0M377.4 977.6h0M377.1 993.9h0M377.1 983.7h0M378.0 988.7h0M377.7 994.8h0M377.8 993.6h0M377.5 997.2h0M378.1 995.6h0M378.5 999.2h0M378.8 1000.2h0M378.9 995.5h0M379.0 994.1h0M379.7 995.8h0M380.2 987.8h0M380.8 998.8h0M380.6 994.6h0M380.5 998.5h0M380.7 1003.5h0M381.0 988.6h0M380.7 1002.5h0M381.3 997.7h0M381.2 1001.2h0M381.8 1000.0h0M382.1 1004.6h0M381.7 994.8h0M382.7 995.1h0M382.6 988.7h0M383.3 999.2h0M384.1 996.6h0M384.8 1003.8h0M384.3 998.6h0M385.0 998.1h0M385.2 994.6h0M385.4 986.3h0M385.2 1001.4h0M385.4 986.8h0M385.9 975.0h0M385.9 1007.6h0M386.4 1004.4h0M387.2 1000.6h0M387.2 1005.6h0M387.0 997.7h0M387.4 998.3h0M387.4 999.2h0M387.7 997.1h0M387.5 973.9h0M388.0 999.2h0M387.5 1005.3h0M388.1 1000.7h0M389.0 993.3h0M388.5 1007.5h0M388.6 999.1h0M389.5 995.6h0M389.4 999.1h0M389.6 1001.6h0M389.8 998.6h0M389.7 997.9h0M389.8 1000.4h0M389.8 1005.9h0M389.9 1003.9h0M390.8 994.5h0M390.3 997.0h0M390.5 988.8h0M391.0 999.2h0M391.5 993.6h0M392.1 988.0h0M391.8 989.6h0M392.2 995.8h0M392.4 996.8h0M393.0 996.5h0M392.6 996.4h0M393.2 998.4h0M393.5 992.5h0M393.5 996.3h0M393.5 998.6h0M393.9 1000.5h0M393.9 994.1h0M394.5 992.8h0M394.7 999.0h0M394.8 980.9h0M394.7 994.0h0M395.1 996.8h0M395.3 994.4h0M395.7 990.5h0M395.9 995.2h0M395.7 992.4h0M396.2 989.7h0M397.0 994.0h0M397.0 993.2h0M396.6 991.3h0M396.5 991.5h0M397.0 983.3h0M397.4 999.3h0M397.4 993.1h0M397.3 992.5h0M397.8 976.9h0M397.9 997.4h0M398.3 991.5h0M398.3 990.0h0M398.4 987.0h0M398.7 995.5h0M398.9 995.6h0M399.2 995.0h0M399.2 985.2h0M399.0 990.5h0M399.0 993.2h0M399.7 992.7h0M399.7 996.0h0M399.6 993.3h0M400.1 973.4h0M400.0 986.7h0M400.5 972.8h0M400.8 987.9h0M400.8 980.5h0M400.3 983.9h0M400.8 982.5h0M401.1 992.2h0M400.9 980.2h0M401.2 990.3h0M401.6 984.8h0M402.2 970.8h0M402.4 987.8h0M402.4 983.3h0M402.6 986.8h0M402.9 985.9h0M402.9 990.2h0M403.5 981.6h0M403.4 992.7h0M403.7 980.5h0M403.3 979.1h0M403.6 984.8h0M404.0 987.6h0M404.1 988.2h0M403.9 982.0h0M404.3 978.9h0M404.7 986.0h0M404.4 975.7h0M404.5 974.8h0M405.2 994.1h0M405.5 985.5h0M406.0 980.2h0M405.5 986.7h0M405.8 977.9h0M406.0 984.9h0M406.4 958.7h0M406.3 990.3h0M406.8 986.3h0M407.0 988.3h0M407.4 982.6h0M407.0 981.3h0M407.1 982.3h0M407.7 985.5h0M408.1 978.9h0M408.2 979.3h0M408.3 977.4h0M408.2 976.4h0M408.1 978.2h0M409.1 981.0h0M408.6 982.9h0M408.7 986.1h0M409.2 973.3h0M409.7 972.9h0M410.1 979.1h0M409.6 986.0h0M409.6 981.0h0M410.0 981.7h0M410.0 978.6h0M410.4 982.2h0M410.1 982.6h0M410.3 981.3h0M410.8 981.1h0M410.6 977.5h0M410.8 975.5h0M410.7 983.9h0M410.7 975.4h0M411.0 985.1h0M411.2 973.3h0M411.5 980.1h0M411.9 973.5h0M412.1 971.7h0M412.5 981.7h0M412.2 960.1h0M413.2 974.7h0M413.1 980.5h0M413.4 978.0h0M413.3 969.8h0M413.3 981.4h0M413.6 967.4h0M413.8 974.1h0M414.2 980.8h0M414.2 960.7h0M414.1 964.3h0M414.0 965.6h0M414.6 970.2h0M415.1 967.4h0M415.6 969.4h0M415.5 961.6h0M416.0 972.0h0M416.1 972.9h0M416.2 971.1h0M416.6 966.6h0M416.7 969.9h0M417.1 957.0h0M417.6 972.2h0M417.7 976.4h0M417.8 972.2h0M418.3 969.4h0M418.2 968.8h0M419.1 973.8h0M419.0 969.6h0M418.7 974.8h0M419.2 970.6h0M419.5 974.3h0M419.5 971.0h0M419.7 972.5h0M420.2 966.9h0M420.5 971.7h0M420.8 955.9h0M421.7 967.0h0M421.6 973.6h0M421.7 967.3h0M421.3 968.1h0M421.6 977.6h0M422.0 964.3h0M421.9 967.6h0M422.4 956.1h0M422.1 971.5h0M422.2 971.4h0M422.2 964.2h0M422.9 969.9h0M422.8 970.4h0M422.8 967.5h0M423.3 971.9h0M423.4 966.3h0M423.2 968.8h0M423.6 969.6h0M423.9 965.9h0M423.9 973.2h0M424.5 968.1h0M424.1 974.4h0M424.3 972.0h0M424.0 969.6h0M424.8 979.7h0M424.8 964.1h0M425.6 963.4h0M426.1 967.2h0M426.2 965.4h0M426.4 973.4h0M426.7 967.2h0M427.1 966.9h0M427.1 963.5h0M427.1 940.4h0M427.0 965.6h0M428.1 973.8h0M428.0 971.5h0M428.2 968.4h0M428.3 966.6h0M428.6 976.7h0M428.7 973.2h0M428.9 972.4h0M429.3 963.0h0M430.1 963.9h0M429.9 970.1h0M430.3 971.6h0M430.2 974.4h0M430.2 976.7h0M430.6 968.8h0M430.7 972.0h0M431.0 952.3h0M430.9 965.3h0M431.6 970.1h0M431.3 959.4h0M431.4 970.4h0M431.5 966.8h0M432.0 965.4h0M432.7 975.3h0M432.6 962.3h0M433.0 973.0h0M433.8 973.1h0M433.9 963.5h0M433.9 973.7h0M434.3 965.9h0M434.4 967.0h0M434.3 959.1h0M434.9 967.1h0M435.2 968.2h0M435.7 972.4h0M436.1 968.9h0M436.1 963.1h0M435.8 975.4h0M436.0 970.3h0M436.5 960.6h0M436.3 956.7h0M437.5 965.6h0M437.7 972.4h0M437.8 969.0h0M437.8 964.7h0M438.0 965.2h0M437.9 962.9h0M438.5 969.3h0M438.6 969.4h0M438.6 966.4h0M439.4 964.4h0M439.5 968.9h0M439.8 967.0h0M440.0 962.6h0M440.3 969.9h0M440.4 956.6h0M440.8 961.4h0M440.7 968.3h0M440.3 953.4h0M440.8 952.3h0M441.1 912.8h0M441.0 964.1h0M441.0 947.3h0M440.9 955.6h0M440.9 894.2h0M441.3 951.1h0M440.9 962.9h0M441.0 924.9h0M441.3 968.4h0M441.6 964.6h0M442.3 962.3h0M442.3 963.1h0M442.3 955.9h0M442.6 964.8h0M442.6 956.7h0M443.2 962.6h0M443.3 957.8h0M443.4 966.8h0M443.0 959.9h0M443.8 957.8h0M443.8 962.3h0M443.7 959.7h0M444.3 965.5h0M443.9 956.4h0M443.9 969.2h0M444.0 961.4h0M444.5 962.6h0M444.6 969.8h0M445.1 923.6h0M444.9 939.3h0M444.8 952.1h0M444.8 941.4h0M445.5 953.9h0M446.3 959.6h0M446.4 960.9h0M446.8 949.9h0M446.9 962.1h0M447.2 942.4h0M447.3 958.3h0M447.5 954.6h0M447.9 961.2h0M447.7 956.0h0M448.2 965.1h0M448.2 959.0h0M448.9 957.4h0M448.5 962.1h0M449.1 965.8h0M449.3 949.7h0M449.5 959.1h0M449.8 961.2h0M450.0 945.2h0M450.4 937.0h0M450.4 951.3h0M450.2 945.4h0M450.1 969.5h0M450.5 927.0h0M450.6 948.2h0M450.6 959.3h0M450.8 955.9h0M451.0 951.5h0M450.7 966.6h0M451.2 956.6h0M451.5 958.1h0M452.2 957.6h0M452.1 961.5h0M453.1 960.2h0M453.2 958.6h0M453.2 950.8h0M453.3 948.7h0M454.0 947.9h0M453.9 959.4h0M454.5 950.0h0M454.2 958.0h0M454.4 948.3h0M454.6 957.2h0M455.1 952.1h0M454.6 952.7h0M454.8 950.5h0M455.4 953.5h0M456.2 958.4h0M456.0 942.6h0M455.8 945.5h0M456.2 949.4h0M456.4 955.6h0M456.6 947.5h0M457.1 949.4h0M456.9 957.7h0M456.5 944.4h0M457.3 962.2h0M457.5 953.1h0M457.4 952.7h0M457.9 957.9h0M457.7 953.4h0M458.3 959.2h0M458.3 951.9h0M458.5 956.5h0M458.0 952.4h0M458.4 953.1h0M458.3 956.6h0M458.8 951.2h0M458.7 956.0h0M459.2 947.5h0M459.2 953.7h0M459.6 956.5h0M459.5 952.6h0M459.8 950.7h0M459.7 954.8h0M460.0 951.1h0M460.2 950.5h0M460.1 951.6h0M459.9 950.9h0M460.7 954.4h0M460.5 951.0h0M460.6 955.3h0M460.9 941.3h0M461.7 939.8h0M461.2 954.7h0M462.0 948.8h0M462.2 951.4h0M462.1 938.8h0M462.6 955.1h0M462.6 950.3h0M463.2 951.7h0M463.3 952.8h0M463.3 952.8h0M463.7 955.0h0M464.1 945.7h0M464.6 957.9h0M465.1 950.3h0M465.0 946.4h0M465.1 949.1h0M465.0 951.8h0M465.2 953.9h0M465.8 944.7h0M465.9 953.5h0M466.0 946.0h0M465.7 950.6h0M466.4 958.0h0M466.2 948.0h0M466.7 941.5h0M467.0 950.8h0M466.9 944.5h0M466.9 948.5h0M467.6 947.9h0M467.9 951.6h0M468.2 952.4h0M468.1 957.2h0M468.2 949.5h0M468.2 958.3h0M469.2 947.6h0M468.7 953.4h0M469.4 945.4h0M469.5 949.0h0M469.5 954.1h0M469.9 948.2h0M470.1 949.2h0M470.3 956.8h0M470.7 948.9h0M470.3 957.2h0M470.8 937.9h0M471.2 953.2h0M471.5 947.5h0M471.7 950.7h0M472.4 929.9h0M472.6 955.5h0M473.0 956.0h0M473.0 955.2h0M473.1 954.8h0M472.7 957.8h0M473.2 953.8h0M473.5 958.3h0M474.0 951.5h0M474.0 947.4h0M473.8 953.0h0M474.1 954.6h0M474.5 949.4h0M474.4 952.1h0M474.9 953.8h0M474.3 960.3h0M474.8 947.2h0M475.3 952.3h0M475.2 961.4h0M474.9 933.4h0M475.7 957.5h0M475.4 955.5h0M475.9 959.0h0M475.8 953.1h0M475.8 955.9h0M476.5 953.4h0M476.2 952.7h0M477.2 952.1h0M477.3 951.7h0M477.4 948.0h0M477.0 957.5h0M478.2 957.9h0M478.7 951.3h0M478.7 954.4h0M478.7 953.2h0M478.7 951.0h0M479.2 950.3h0M479.6 958.1h0M479.6 953.0h0M480.3 957.5h0M480.3 964.8h0M480.9 952.6h0M481.3 957.8h0M480.8 961.3h0M481.6 955.9h0M481.5 955.4h0M482.1 952.2h0M482.4 954.2h0M482.2 937.3h0M482.4 949.1h0M482.5 966.2h0M482.7 948.7h0M482.8 953.2h0M482.9 962.8h0M483.3 956.3h0M482.9 955.2h0M483.4 961.2h0M483.0 941.1h0M484.0 960.6h0M484.0 962.5h0M484.0 967.3h0M484.0 957.7h0M484.4 957.8h0M484.2 958.5h0M484.7 951.6h0M485.1 956.6h0M485.3 959.0h0M485.3 959.8h0M485.5 937.2h0M485.1 962.8h0M485.8 961.3h0M486.2 953.9h0M485.6 958.9h0M486.1 947.8h0M486.6 950.8h0M486.7 939.7h0M486.3 939.8h0M487.2 954.5h0M487.1 957.4h0M487.3 955.8h0M487.4 966.5h0M487.8 956.5h0M487.9 963.8h0M487.9 965.4h0M487.9 969.6h0M488.1 960.9h0M488.4 962.3h0M489.3 962.6h0M489.4 966.5h0M489.8 960.3h0M490.1 960.2h0M490.3 956.4h0M490.7 961.5h0M490.9 962.3h0M491.0 953.1h0M490.8 959.2h0M490.8 959.7h0M491.5 962.6h0M491.7 961.2h0M491.6 961.9h0M492.1 956.0h0M492.4 963.3h0M492.7 940.8h0M492.3 957.3h0M492.4 954.5h0M492.9 952.5h0M493.3 960.7h0M493.3 955.1h0M492.9 956.9h0M493.3 953.0h0M493.7 951.9h0M493.4 956.0h0M493.8 950.8h0M493.6 962.6h0M494.4 951.6h0M494.9 950.0h0M495.0 946.8h0M495.2 949.9h0M495.8 954.5h0M496.1 946.3h0M495.9 946.3h0M495.9 950.4h0M496.7 949.4h0M496.5 952.2h0M496.3 945.7h0M497.1 950.8h0M497.4 950.1h0M497.8 936.9h0M497.7 934.4h0M497.5 937.3h0M498.4 944.7h0M498.3 945.5h0M498.6 948.4h0M498.4 939.0h0M499.2 933.5h0M499.2 950.4h0M499.1 935.9h0M499.5 946.3h0M499.5 943.9h0M499.5 947.0h0M499.8 943.2h0M500.2 944.6h0M500.0 946.3h0M500.6 929.2h0M500.9 941.5h0M500.9 940.8h0M500.7 931.5h0M501.4 930.7h0M500.9 938.2h0M501.2 934.5h0M501.4 944.8h0M501.4 934.3h0M501.6 932.2h0M501.4 938.3h0M501.7 937.2h0M502.2 938.9h0M502.0 938.0h0M502.1 925.0h0M502.8 941.2h0M503.1 941.4h0M503.1 924.1h0M503.2 952.1h0M504.0 947.3h0M504.8 939.9h0M504.9 948.4h0M504.9 936.8h0M504.7 939.8h0M505.2 941.4h0M505.1 952.3h0M505.4 942.8h0M505.2 948.4h0M505.8 942.1h0M505.7 951.1h0M505.8 953.2h0M506.1 946.8h0M506.4 955.9h0M507.0 947.7h0M506.5 946.6h0M507.6 947.6h0M507.4 954.5h0M507.5 956.8h0M507.9 952.7h0M507.5 947.6h0M508.0 952.7h0M508.5 954.9h0M508.7 953.4h0M508.7 953.9h0M509.2 958.0h0M509.4 945.2h0M509.9 951.2h0M509.7 952.8h0M510.3 954.1h0M510.2 957.2h0M510.3 962.0h0M510.8 958.5h0M510.4 957.4h0M510.6 942.0h0M510.9 960.0h0M511.1 963.6h0M511.2 960.9h0M511.5 958.6h0M512.2 957.7h0M511.9 957.6h0M512.6 952.8h0M512.4 951.3h0M512.9 955.1h0M513.8 938.1h0M513.4 956.6h0M513.8 958.6h0M513.8 954.6h0M514.6 957.9h0M514.6 964.2h0M515.0 964.6h0M515.1 961.3h0M515.3 948.4h0M515.7 946.6h0M515.4 959.1h0M515.3 955.7h0M516.1 961.7h0M516.1 957.3h0M516.6 959.1h0M516.5 952.5h0M517.7 960.8h0M517.8 958.6h0M517.9 963.2h0M518.4 957.4h0M518.2 957.2h0M518.7 960.6h0M519.6 949.7h0M519.2 950.3h0M519.4 959.0h0M520.0 959.5h0M520.3 968.5h0M520.8 968.2h0M521.3 956.8h0M521.3 959.5h0M521.8 961.9h0M521.9 959.4h0M521.6 962.5h0M522.3 954.8h0M522.3 965.1h0M522.6 949.1h0M522.5 963.0h0M522.6 961.1h0M522.5 944.3h0M523.1 941.2h0M523.5 946.2h0M524.4 951.9h0M524.3 953.3h0M524.1 964.3h0M524.7 947.6h0M525.0 962.1h0M524.8 960.2h0M524.7 959.3h0M525.6 947.2h0M525.6 948.2h0M525.1 944.0h0M525.1 927.1h0M525.7 969.6h0M525.6 964.4h0M526.0 955.0h0M525.7 962.9h0M526.1 960.3h0M527.1 959.4h0M527.1 957.5h0M526.9 954.1h0M526.9 954.3h0M527.5 954.8h0M527.6 955.7h0M527.8 958.8h0M528.0 962.3h0M528.3 963.1h0M528.3 941.1h0M528.2 952.6h0M528.6 966.1h0M528.8 962.2h0M528.9 952.5h0M529.0 948.2h0M529.0 958.7h0M529.6 952.7h0M529.5 942.9h0M529.4 945.2h0M529.7 968.6h0M529.6 952.8h0M530.3 954.2h0M530.4 963.7h0M529.8 959.4h0M530.8 961.7h0M531.1 964.4h0M531.4 960.0h0M531.5 945.2h0M531.6 951.7h0M532.1 950.7h0M531.9 956.1h0M532.1 966.1h0M532.3 960.8h0M532.4 952.4h0M532.3 957.1h0M532.6 952.4h0M533.2 960.8h0M532.6 961.8h0M532.8 954.8h0M532.8 962.8h0M533.7 960.7h0M533.4 960.2h0M533.7 952.0h0M533.2 954.0h0M533.7 945.1h0M534.7 960.1h0M534.4 944.9h0M534.9 964.3h0M534.9 961.0h0M535.4 955.7h0M536.1 956.2h0M535.9 957.5h0M536.3 950.1h0M536.0 956.8h0M535.9 965.2h0M536.4 952.9h0M536.2 957.7h0M536.4 962.5h0M537.3 959.8h0M537.6 952.0h0M537.7 948.0h0M538.0 955.1h0M538.3 954.0h0M537.9 959.5h0M538.3 964.5h0M538.8 959.2h0M538.7 963.6h0M538.8 963.5h0M538.8 957.9h0M539.2 962.0h0M538.7 949.9h0M539.6 957.3h0M539.6 958.2h0M539.3 954.5h0M539.8 960.0h0M540.1 942.7h0M540.2 948.5h0M540.1 945.7h0M540.4 960.8h0M541.0 952.8h0M540.7 966.6h0M541.0 957.5h0M541.7 953.0h0M542.1 957.5h0M541.8 945.5h0M542.7 963.0h0M543.2 961.8h0M543.2 956.1h0M543.0 961.9h0M543.0 957.3h0M543.5 949.9h0M543.1 958.4h0M544.2 959.7h0M544.4 961.2h0M543.9 956.8h0M544.7 956.3h0M544.9 950.6h0M545.0 960.2h0M545.4 955.8h0M545.8 962.2h0M546.5 959.0h0M546.5 951.2h0M546.8 955.2h0M547.0 956.9h0M546.9 934.3h0M547.3 953.3h0M547.2 949.1h0M547.4 951.3h0M547.2 959.6h0M547.5 962.9h0M547.6 959.9h0M548.1 951.0h0M547.7 963.8h0M548.4 964.3h0M548.4 934.9h0M548.5 956.7h0M548.5 947.8h0M548.7 954.4h0M548.8 963.6h0M548.5 957.5h0M549.0 963.8h0M549.8 952.3h0M549.9 958.1h0M549.9 955.1h0M550.7 946.2h0M550.5 947.4h0M550.5 951.7h0M550.8 946.1h0M551.0 952.7h0M551.8 949.6h0M551.4 945.2h0M551.6 943.9h0M552.1 941.8h0M552.8 933.3h0M552.9 933.5h0M553.6 932.4h0M553.8 932.0h0M553.8 930.8h0M554.6 924.9h0M554.6 917.9h0M555.1 923.6h0M555.1 928.7h0M555.0 923.9h0M554.6 928.8h0M555.4 925.6h0M556.0 907.9h0M556.1 920.1h0M556.0 903.1h0M556.6 910.3h0M556.5 913.4h0M556.8 911.1h0M556.7 920.4h0M557.4 893.0h0M557.6 912.1h0M557.7 911.2h0M557.9 899.7h0M557.8 911.7h0M558.5 894.4h0M558.2 901.6h0M558.1 900.7h0M558.9 893.6h0M558.9 888.7h0M559.0 888.5h0M558.9 895.8h0M559.4 881.4h0M559.5 879.7h0M559.1 835.6h0M559.5 860.7h0M559.5 881.0h0M559.3 891.1h0M559.6 873.7h0M560.0 884.6h0M560.0 867.4h0M212.2 945.0h0M212.6 957.3h0M212.5 962.1h0M212.2 972.2h0M212.5 981.4h0M222.6 940.0h0M222.7 949.1h0M223.0 958.8h0M222.3 972.4h0M222.4 976.0h0M222.3 981.9h0M230.4 938.0h0M230.6 947.9h0M230.5 955.5h0M230.2 960.6h0M230.6 967.0h0M231.3 974.0h0M230.6 978.6h0M230.7 982.9h0M236.9 940.0h0M237.1 951.1h0M236.0 964.8h0M236.7 972.6h0M236.5 988.3h0M244.9 947.0h0M245.2 964.0h0M245.5 979.5h0M245.3 984.8h0M252.0 950.0h0M251.8 956.0h0M251.3 971.6h0M251.6 984.8h0M271.5 920.0h0M272.4 929.4h0M272.1 932.8h0M272.2 942.3h0M272.0 954.0h0M272.3 967.0h0M271.8 982.4h0M281.1 865.0h0M281.2 868.9h0M281.4 876.0h0M281.6 891.5h0M281.3 905.2h0M281.8 912.4h0M281.1 917.6h0M281.6 931.1h0M281.4 936.0h0M281.1 946.8h0M281.0 956.7h0M283.4 890.0h0M282.9 898.2h0M283.3 902.7h0M283.4 913.5h0M283.5 924.0h0M283.6 930.0h0M283.7 936.5h0M283.2 946.7h0M282.9 956.1h0M315.0 920.0h0M314.9 934.2h0M314.8 937.4h0M314.7 945.6h0M341.1 930.0h0M342.0 935.1h0M341.4 951.2h0M342.0 955.6h0M342.3 962.8h0M342.2 976.6h0M344.6 910.0h0M344.6 924.8h0M345.0 938.0h0M344.9 946.2h0M344.2 957.5h0M344.6 962.5h0M344.1 966.8h0M344.6 971.1h0M470.0 870.0h0M470.5 873.6h0M470.6 887.9h0M470.1 897.0h0M470.5 902.9h0M470.3 909.7h0M470.3 918.6h0M470.3 928.0h0M470.5 942.9h0M470.3 954.3h0M515.8 860.0h0M515.9 863.5h0M515.0 872.9h0M515.6 883.0h0M515.4 895.5h0M515.7 901.1h0M515.5 916.0h0M515.3 919.9h0M515.8 932.3h0M515.5 945.8h0M516.2 959.5h0M515.6 965.6h0M515.8 971.5h0M515.7 988.1h0M529.7 915.0h0M529.8 926.8h0M529.9 929.9h0M529.7 939.6h0M529.7 951.8h0M529.8 961.1h0M529.6 965.5h0M529.9 972.3h0M529.5 983.6h0M529.8 988.1h0M555.0 928.3h0M555.1 927.9h0M555.9 918.9h0M555.8 917.2h0M556.2 913.1h0M555.9 919.5h0M556.8 916.4h0M556.6 920.8h0M556.5 917.8h0M557.2 903.0h0M557.3 904.5h0M557.6 917.6h0M558.1 912.2h0M557.8 909.8h0M558.6 896.7h0M558.2 901.0h0M558.7 894.6h0M560.0 890.7h0M559.6 889.1h0M559.8 883.3h0M560.7 891.7h0M561.4 887.5h0M561.7 877.2h0M561.5 889.0h0M561.4 886.7h0M562.6 874.3h0M562.4 883.7h0M562.2 889.6h0M562.9 874.7h0M563.0 857.9h0M563.1 864.1h0M562.7 858.4h0M563.1 872.3h0M562.6 881.8h0M563.1 871.2h0M563.7 881.5h0M563.4 884.6h0M564.4 879.0h0M564.2 879.5h0M564.5 868.7h0M564.4 872.2h0M564.7 873.6h0M564.8 876.6h0M565.3 881.8h0M565.0 879.0h0M565.5 872.7h0M565.6 868.2h0M566.8 881.1h0M566.9 824.4h0M567.1 862.2h0M567.1 833.3h0M567.2 874.8h0M567.4 841.1h0M567.4 851.0h0M567.4 871.9h0M566.9 854.6h0M567.3 835.6h0M566.9 855.6h0M567.3 830.7h0M567.5 886.8h0M567.9 888.5h0M568.4 881.5h0M568.8 896.0h0M569.4 887.5h0M569.2 886.4h0M569.4 886.3h0M570.0 889.6h0M570.4 889.7h0M570.3 886.7h0M571.1 892.3h0M571.3 887.5h0M572.5 892.5h0M572.3 894.6h0M572.5 886.9h0M572.8 888.8h0M573.0 878.9h0M572.4 872.6h0M572.8 845.9h0M572.8 880.2h0M572.8 879.2h0M572.7 866.6h0M572.9 857.9h0M573.0 880.1h0M573.1 867.3h0M573.9 899.9h0M574.1 900.1h0M574.2 902.4h0M575.0 904.4h0M574.6 904.0h0M574.6 898.2h0M575.2 904.6h0M575.9 914.3h0M575.8 918.2h0M576.6 911.4h0M576.6 908.4h0M577.4 914.4h0M577.3 907.3h0M577.6 913.3h0M578.2 903.0h0M578.1 902.9h0M578.6 909.7h0M578.8 909.3h0M579.3 917.6h0M580.3 915.4h0M579.8 917.3h0M580.8 915.0h0M581.6 916.4h0M581.3 921.2h0M581.8 910.7h0M582.3 921.3h0M583.1 920.4h0M583.6 914.0h0M583.2 915.4h0M583.5 919.4h0M584.2 920.9h0M584.2 912.3h0M584.3 912.1h0M585.0 914.1h0M584.8 916.4h0M584.7 918.1h0M585.5 910.8h0M585.7 914.3h0M585.7 918.3h0M585.9 916.5h0M586.2 921.9h0M586.1 922.9h0M586.5 906.1h0M586.7 927.5h0M587.3 918.8h0M587.7 918.2h0M588.0 921.4h0M587.8 927.6h0M588.5 919.3h0M589.2 926.6h0M590.2 926.9h0M590.5 922.6h0M591.6 927.4h0M591.7 924.4h0M591.6 926.7h0M591.8 921.2h0M591.8 930.3h0M591.7 919.9h0M592.8 879.3h0M592.7 899.0h0M592.5 857.6h0M592.4 906.9h0M592.4 837.9h0M592.7 909.4h0M592.3 915.6h0M592.7 890.4h0M592.4 896.2h0M592.6 874.5h0M592.6 863.8h0M593.6 928.3h0M594.3 926.5h0M594.7 929.6h0M595.6 930.3h0M595.9 919.2h0M595.5 918.8h0M596.6 925.1h0M596.6 912.1h0M596.9 909.6h0M597.5 910.6h0M597.1 913.1h0M597.7 912.7h0M597.6 911.7h0M598.0 915.2h0M598.3 910.6h0M599.2 888.1h0M599.2 900.0h0M598.7 895.7h0M599.8 874.3h0M599.7 866.5h0M599.9 879.3h0M599.7 901.3h0M600.3 883.2h0M600.0 881.6h0M600.7 897.3h0M600.7 900.8h0M601.0 886.1h0M600.9 873.5h0M600.5 898.0h0M601.0 872.0h0M600.8 875.9h0M601.3 899.1h0M601.1 886.4h0M601.7 889.5h0M602.3 881.8h0M603.2 885.7h0M603.9 878.0h0M604.5 882.2h0M604.3 876.2h0M604.8 871.7h0M604.9 868.6h0M605.1 877.0h0M605.1 854.4h0M606.0 871.3h0M606.2 877.5h0M606.7 867.2h0M606.9 870.9h0M606.7 869.0h0M607.0 842.5h0M607.1 866.9h0M607.0 842.3h0M607.1 851.1h0M606.9 861.8h0M607.0 855.2h0M606.9 872.7h0M607.7 864.9h0M608.3 857.2h0M609.2 859.3h0M608.8 867.1h0M609.1 857.4h0M609.7 863.1h0M609.6 863.7h0M609.9 853.2h0M610.1 855.4h0M610.0 853.5h0M610.8 853.6h0M611.8 853.4h0M612.3 852.5h0M612.3 856.2h0M612.1 858.2h0M612.3 856.9h0M612.6 849.8h0M613.1 854.1h0M613.2 850.4h0M613.3 850.7h0M613.8 851.9h0M614.1 850.7h0M614.1 852.0h0M614.1 849.1h0M614.3 861.6h0M614.8 847.0h0M614.9 840.2h0M615.5 846.5h0M615.0 848.5h0M615.6 850.6h0M616.4 847.1h0M616.1 851.7h0M616.5 844.6h0M617.2 845.3h0M617.8 818.1h0M617.8 843.7h0M617.7 817.4h0M617.5 820.5h0M617.6 844.0h0M617.8 843.4h0M617.5 815.9h0M618.3 848.8h0M619.3 846.4h0M619.4 849.5h0M619.3 856.7h0M620.1 834.1h0M619.7 831.3h0M619.9 832.2h0M619.7 817.4h0M620.4 840.8h0M620.3 852.5h0M620.9 829.2h0M620.7 837.4h0M620.6 846.7h0M621.6 838.2h0M621.1 844.9h0M621.8 804.2h0M622.1 827.5h0M621.8 829.8h0M621.6 817.2h0M622.0 841.7h0M621.7 834.3h0M622.3 841.4h0M622.5 836.5h0M623.4 835.6h0M623.0 828.4h0M623.3 826.3h0M623.2 800.1h0M623.2 812.3h0M623.4 826.6h0M623.4 829.4h0M623.5 836.5h0M623.7 839.6h0M624.1 838.6h0M624.1 838.2h0M624.1 843.6h0M625.0 833.2h0M624.9 836.2h0M625.7 837.3h0M625.5 831.6h0M625.5 836.2h0M626.4 839.5h0M627.2 835.7h0M627.5 828.9h0M628.1 839.4h0M628.3 833.8h0M628.5 826.9h0M628.7 838.1h0M629.2 836.2h0M629.1 835.9h0M629.0 833.2h0M630.0 815.7h0M630.0 831.9h0M631.1 836.7h0M630.8 835.5h0M631.8 831.8h0M631.9 833.5h0M632.6 837.4h0M632.7 836.2h0M632.8 822.7h0M633.6 833.2h0M633.4 835.1h0M633.2 833.0h0M634.2 825.1h0M633.6 830.1h0M634.7 835.8h0M635.2 833.9h0M635.5 833.7h0M635.8 840.1h0M636.6 834.4h0M636.5 838.9h0M636.7 828.8h0M637.4 827.5h0M637.3 819.5h0M637.8 831.9h0M637.8 841.7h0M637.8 833.8h0M638.7 827.2h0M638.6 831.5h0M639.4 833.5h0M639.1 827.4h0M639.6 832.5h0M639.8 834.7h0M640.3 832.7h0M640.3 840.0h0M640.3 838.7h0M640.8 822.3h0M640.9 799.0h0M640.6 814.4h0M640.6 830.5h0M640.9 816.9h0M641.2 805.3h0M640.8 823.1h0M641.2 834.4h0M641.6 833.5h0M641.5 836.5h0M642.0 834.5h0M641.6 834.3h0M642.5 832.6h0M643.5 826.0h0M643.5 830.9h0M643.6 831.4h0M644.3 828.7h0M644.6 828.1h0M645.1 830.7h0M645.2 832.9h0M644.7 833.4h0M645.9 828.8h0M646.3 823.6h0M646.2 829.4h0M646.1 827.3h0M646.9 830.5h0M647.4 828.3h0M647.3 830.4h0M647.1 819.3h0M648.2 798.5h0M648.0 781.2h0M648.2 833.0h0M647.9 845.8h0M647.8 776.5h0M647.9 792.3h0M647.9 799.7h0M648.6 822.9h0M648.9 823.5h0M648.9 794.9h0M649.1 826.0h0M649.1 810.3h0M648.6 795.2h0M649.2 819.5h0M649.2 822.8h0M650.4 833.0h0M650.5 789.1h0M650.3 820.6h0M650.0 791.4h0M650.2 817.3h0M650.3 812.6h0M650.0 831.2h0M650.5 822.3h0M651.3 820.8h0M651.3 816.5h0M651.7 820.6h0M651.8 824.4h0M652.8 823.5h0M652.6 823.4h0M652.5 819.0h0M653.4 820.0h0M653.7 820.2h0M653.3 823.8h0M654.3 816.1h0M654.0 820.4h0M654.3 830.2h0M654.9 808.2h0M654.9 812.5h0M655.2 814.4h0M656.0 816.4h0M655.6 815.3h0M656.5 814.6h0M656.6 815.4h0M656.3 819.5h0M656.9 818.0h0M657.3 813.5h0M658.0 808.7h0M658.1 814.1h0M658.3 800.5h0M658.7 799.5h0M658.3 808.9h0M659.3 808.9h0M659.4 815.3h0M660.2 804.4h0M660.8 815.5h0M661.3 822.3h0M661.8 817.0h0M662.6 811.7h0M662.4 810.2h0M662.7 810.7h0M662.3 824.4h0M663.2 825.0h0M663.0 819.5h0M662.9 818.0h0M663.4 818.0h0M663.5 825.9h0M664.3 818.0h0M665.1 815.1h0M665.1 826.1h0M665.5 818.5h0M665.6 820.3h0M665.6 822.6h0M665.9 824.1h0M666.7 823.1h0M667.2 820.1h0M666.9 810.5h0M666.8 818.0h0M667.4 818.1h0M668.3 816.2h0M668.7 823.0h0M668.9 813.0h0M669.2 825.3h0M669.1 816.6h0M669.0 831.1h0M669.8 826.2h0M670.1 813.1h0M670.5 830.5h0M670.9 825.3h0M671.1 817.6h0M672.2 824.2h0M672.0 820.6h0M672.4 829.5h0M672.8 818.6h0M673.5 818.4h0M673.5 826.3h0M673.8 820.7h0M674.2 817.4h0M674.6 821.1h0M674.4 811.1h0M675.1 807.0h0M674.7 811.3h0M675.5 820.1h0M675.7 822.3h0M675.4 820.4h0M676.3 812.2h0M676.4 812.6h0M675.9 816.9h0M676.8 821.3h0M676.6 820.8h0M677.1 816.3h0M677.6 808.6h0M677.3 810.5h0M677.3 813.5h0M677.7 817.2h0M677.7 810.2h0M678.0 821.8h0M678.4 819.9h0M678.7 812.4h0M679.1 814.6h0M679.5 818.9h0M679.1 815.2h0M679.6 813.1h0M679.6 804.4h0M679.7 813.4h0M680.8 808.0h0M680.3 805.8h0M680.8 806.9h0M681.4 809.5h0M682.2 809.7h0M682.2 801.4h0M682.2 813.2h0M682.4 805.0h0M682.6 804.7h0M683.2 807.9h0M683.2 804.1h0M682.6 802.9h0M683.8 804.8h0M683.5 803.3h0M684.5 803.4h0M684.6 804.1h0M684.6 811.7h0M685.4 793.8h0M685.9 804.8h0M685.7 807.3h0M685.6 807.4h0M686.4 810.3h0M686.8 808.2h0M686.9 808.6h0M687.1 797.9h0M687.5 809.4h0M688.5 815.9h0M688.5 812.7h0M688.2 807.4h0M688.6 807.2h0M689.1 818.2h0M688.9 817.7h0M689.1 817.4h0M690.1 813.1h0M690.7 815.4h0M690.6 821.5h0M691.5 822.3h0M691.8 815.3h0M691.7 822.8h0M692.5 783.6h0M692.8 798.3h0M692.3 818.2h0M692.6 819.3h0M692.5 798.4h0M692.5 818.3h0M693.5 822.1h0M693.3 828.1h0M693.4 821.8h0M693.8 826.6h0M694.0 826.6h0M694.4 827.6h0M694.5 833.0h0M694.5 832.0h0M695.6 835.1h0M695.3 835.5h0M696.1 843.5h0M696.4 841.6h0M696.3 837.6h0M696.9 844.6h0M697.1 831.5h0M697.4 840.7h0M697.1 841.8h0M698.1 839.2h0M697.9 845.9h0M698.1 813.3h0M698.9 840.5h0M699.0 845.0h0M698.6 847.5h0M699.7 827.6h0M699.3 843.5h0M699.7 845.9h0M700.0 859.6h0M700.6 858.1h0M700.6 854.2h0M701.0 860.7h0M701.3 860.4h0M702.3 861.9h0M702.8 867.3h0M702.7 866.1h0M703.1 864.3h0M703.8 874.4h0M704.0 874.7h0M704.6 870.6h0M704.4 872.8h0M704.7 869.1h0M704.8 872.9h0M704.7 870.6h0M705.2 869.1h0M705.0 875.6h0M705.5 876.4h0M706.1 876.3h0M706.8 869.3h0M706.8 874.4h0M706.4 874.9h0M707.3 880.3h0M707.3 882.3h0M707.3 878.8h0M707.9 880.0h0M708.1 876.6h0M708.1 874.7h0M708.7 880.0h0M708.6 884.0h0M709.7 884.0h0M709.1 886.4h0M709.2 888.9h0M710.1 875.1h0M710.0 879.9h0M710.8 881.4h0M710.7 875.8h0M710.8 889.1h0M711.6 881.4h0M711.8 881.5h0M712.2 882.2h0M712.5 886.2h0M712.6 874.7h0M712.7 876.8h0M712.7 881.6h0M712.9 881.4h0M713.3 879.9h0M713.3 880.2h0M713.9 883.3h0M713.8 874.9h0M714.7 876.7h0M714.6 886.9h0M715.3 878.4h0M715.0 878.8h0M716.1 883.5h0M715.9 882.4h0M717.0 879.3h0M717.0 874.4h0M717.4 882.2h0M717.8 872.4h0M718.0 867.9h0M718.0 867.9h0M718.8 875.4h0M718.4 873.2h0M718.9 867.0h0M719.1 871.5h0M719.2 867.9h0M719.4 870.9h0M720.3 870.3h0M719.9 867.6h0M721.0 871.5h0M720.8 871.3h0M721.1 858.9h0M722.1 862.8h0M721.7 864.0h0M722.1 856.7h0M723.0 858.4h0M722.9 864.1h0M723.3 856.6h0M723.9 861.6h0M724.8 849.9h0M724.7 851.3h0M724.7 852.4h0M725.5 850.7h0M725.3 837.7h0M725.4 854.8h0M725.9 859.2h0M726.0 862.0h0M725.7 851.6h0M726.2 866.3h0M726.2 858.6h0M726.0 855.0h0M727.1 862.6h0M727.1 854.7h0M727.8 859.2h0M727.9 856.6h0M728.2 865.4h0M728.2 849.8h0M729.3 860.7h0M729.5 858.5h0M730.0 863.7h0M729.5 854.6h0M729.9 854.9h0M730.4 863.0h0M611.2 852.3h0M611.1 842.8h0M614.0 850.4h0M615.5 836.9h0M615.5 849.0h0M617.5 823.1h0M617.2 831.3h0M618.4 800.3h0M617.8 826.2h0M619.7 847.1h0M621.6 837.1h0M621.7 825.2h0M622.2 828.5h0M622.1 830.2h0M622.8 826.8h0M623.1 843.5h0M623.8 811.9h0M623.7 826.3h0M624.5 803.8h0M624.6 788.8h0M626.9 832.0h0M627.0 834.8h0M627.4 835.7h0M628.8 833.2h0M628.7 757.9h0M629.2 791.2h0M629.0 829.1h0M630.1 838.2h0M630.5 820.1h0M631.2 813.3h0M632.1 834.5h0M633.2 807.6h0M635.8 820.8h0M636.0 819.3h0M636.2 824.9h0M636.2 830.7h0M637.1 826.6h0M638.2 834.6h0M638.3 819.6h0M639.1 833.4h0M640.3 827.5h0M642.0 826.7h0M642.3 786.6h0M642.7 761.0h0M643.8 820.1h0M643.3 816.6h0M646.8 825.7h0M646.9 833.0h0M648.1 796.4h0M647.8 833.4h0M648.5 822.2h0M648.8 822.8h0M649.6 818.2h0M649.6 823.9h0M650.5 781.2h0M651.1 808.0h0M651.7 794.3h0M652.4 796.7h0M655.5 796.3h0M656.2 813.2h0M657.1 770.4h0M658.3 797.1h0M658.3 795.6h0M658.7 800.1h0M661.7 816.8h0M663.9 812.5h0M663.7 817.5h0M664.5 821.6h0M665.5 825.1h0M665.4 802.8h0M667.4 817.6h0M668.3 810.4h0M669.3 816.4h0M672.0 818.1h0M672.5 810.9h0M672.5 809.8h0M673.6 798.5h0M673.5 826.8h0M674.1 808.5h0M674.4 822.5h0M675.9 802.5h0M677.4 721.9h0M677.1 793.6h0M679.7 810.3h0M680.9 805.4h0M681.8 799.6h0M681.5 809.1h0M682.2 734.5h0M682.4 795.5h0M685.2 799.0h0M686.8 807.2h0M687.9 815.7h0M687.6 791.7h0M690.2 785.8h0M690.8 770.6h0M691.9 813.4h0M693.0 793.7h0M693.8 826.9h0M695.1 827.0h0M696.4 834.6h0M696.2 821.9h0M696.7 838.3h0M696.8 835.1h0M698.1 839.5h0M698.3 833.8h0M698.2 839.7h0M699.7 824.4h0M699.6 850.6h0M553.1 888.6h0M552.7 890.7h0M552.8 883.4h0M553.3 868.5h0M553.3 882.9h0M553.5 871.7h0M553.6 878.1h0M554.0 882.3h0M554.3 884.6h0M554.8 879.5h0M554.8 884.8h0M555.7 885.8h0M555.5 890.1h0M555.2 884.9h0M555.8 881.9h0M556.4 892.3h0M556.3 869.8h0M556.3 881.4h0M556.3 887.6h0M556.8 884.6h0M556.6 882.7h0M556.8 884.6h0M557.4 891.1h0M557.8 886.1h0M557.7 883.0h0M558.2 883.2h0M558.1 886.8h0M558.4 888.5h0M558.3 860.2h0M558.8 877.8h0M559.4 882.2h0M558.9 888.8h0M559.4 894.1h0M559.8 881.7h0M559.8 878.2h0M559.6 861.1h0M560.4 887.5h0M561.3 887.3h0M560.8 881.8h0M561.7 886.6h0M561.8 882.0h0M561.8 888.4h0M562.6 890.6h0M562.5 880.6h0M563.1 881.3h0M562.9 884.7h0M563.1 887.7h0M563.3 887.8h0M563.2 879.0h0M563.8 883.8h0M564.0 880.2h0M564.2 882.0h0M564.5 880.7h0M564.8 890.1h0M564.9 874.3h0M565.1 875.5h0M565.0 887.9h0M565.4 883.4h0M565.6 889.2h0M565.2 887.5h0M565.5 874.5h0M565.7 887.6h0M565.5 873.5h0M565.9 888.2h0M566.2 876.7h0M566.0 883.8h0M566.5 903.4h0M566.9 876.7h0M567.1 872.8h0M567.6 890.2h0M567.3 880.5h0M568.0 884.7h0M568.6 889.4h0M568.4 889.0h0M569.0 891.5h0M568.7 890.4h0M569.7 884.8h0M569.6 879.4h0M570.1 881.5h0M570.1 892.1h0M570.3 873.1h0M570.2 876.5h0M570.8 891.9h0M571.7 891.8h0M571.8 881.6h0M571.8 886.6h0M572.1 884.1h0M572.1 885.6h0M572.4 884.0h0M572.4 884.8h0M573.2 894.3h0M574.1 883.0h0M574.1 881.1h0M574.2 886.9h0M574.3 880.5h0M574.6 888.5h0M585.3 700.0h0M585.8 705.7h0M586.2 713.5h0M585.7 724.9h0M585.4 733.6h0M584.9 739.4h0M585.8 752.3h0M586.0 761.9h0M585.6 765.1h0M585.5 769.1h0M585.2 774.4h0M585.0 783.7h0M585.2 786.7h0M585.8 789.8h0M585.2 799.2h0M585.6 805.9h0M585.7 815.0h0M585.7 818.5h0M586.4 825.3h0M585.2 830.3h0M585.8 835.8h0M584.8 848.6h0M585.3 856.5h0M586.1 862.1h0M585.8 867.2h0M585.8 870.2h0M586.0 877.5h0M585.6 883.7h0M585.6 894.5h0M613.2 780.0h0M613.6 784.5h0M613.1 796.4h0M612.9 803.9h0M613.0 812.1h0M612.9 816.3h0M613.1 829.5h0M612.9 839.9h0M612.6 851.2h0M612.7 859.0h0M619.6 780.0h0M618.9 787.6h0M618.8 790.3h0M619.1 799.8h0M618.9 805.8h0M619.0 816.6h0M619.2 825.4h0M618.8 828.9h0M619.5 834.0h0M618.9 839.2h0M619.1 852.7h0M625.3 800.0h0M625.1 805.8h0M625.4 815.5h0M625.6 827.3h0M625.8 832.6h0M625.3 836.8h0M625.5 845.8h0M629.8 680.0h0M630.1 687.9h0M630.2 696.1h0M629.7 708.8h0M630.0 717.2h0M629.9 729.4h0M629.7 734.1h0M630.3 737.2h0M629.7 745.2h0M630.0 754.3h0M629.8 762.4h0M630.3 773.3h0M629.7 784.7h0M630.2 794.0h0M637.4 720.0h0M637.4 732.9h0M637.8 744.0h0M637.5 751.6h0M637.9 757.5h0M638.0 767.7h0M638.1 772.2h0M637.5 776.8h0M637.6 780.7h0M637.8 784.8h0M637.4 794.9h0M637.6 800.9h0M637.6 807.9h0M638.2 813.8h0M638.4 817.1h0M638.0 825.0h0M645.6 760.0h0M644.5 765.4h0M644.8 777.2h0M644.5 787.3h0M645.1 794.1h0M645.2 805.5h0M644.7 810.5h0M645.2 818.2h0M644.3 826.1h0M655.6 750.0h0M654.7 753.2h0M655.1 760.0h0M655.3 771.9h0M655.6 775.0h0M655.0 780.6h0M654.7 783.5h0M655.5 788.9h0M656.0 796.3h0M655.1 808.0h0M667.1 700.0h0M667.3 712.5h0M666.7 723.5h0M666.7 735.2h0M666.8 739.9h0M666.7 749.2h0M667.1 759.3h0M666.7 764.2h0M666.4 776.5h0M667.0 789.1h0M666.6 798.1h0M677.0 740.0h0M676.7 746.0h0M676.7 756.4h0M676.9 764.7h0M676.7 772.6h0M676.8 776.7h0M676.8 781.7h0M676.9 784.9h0M676.6 792.3h0M677.1 795.3h0M677.5 799.8h0M676.8 810.2h0M676.6 819.8h0M677.0 828.1h0M676.8 834.2h0M676.8 842.2h0M676.7 849.7h0M682.5 740.0h0M682.4 748.0h0M682.5 755.6h0M682.4 763.7h0M682.4 767.1h0M682.6 775.9h0M682.6 784.1h0M682.2 793.8h0M690.2 700.0h0M690.0 704.4h0M691.0 708.4h0M690.3 712.6h0M690.0 720.5h0M690.1 732.8h0M690.6 738.0h0M689.9 747.0h0M690.6 756.3h0M690.4 759.3h0M690.5 762.0h0M690.0 764.5h0M690.0 769.8h0M690.3 776.1h0M690.0 783.7h0M690.4 786.4h0M689.9 795.2h0M690.0 805.8h0M689.8 819.4h0M690.1 829.1h0M700.6 860.0h0M700.7 867.1h0M700.8 871.1h0M700.8 875.1h0M700.2 884.2h0M700.4 891.5h0M700.7 894.3h0M716.5 860.0h0M717.4 864.6h0M717.1 877.7h0M717.0 889.8h0M716.9 899.1h0M716.5 909.7h0M720.5 760.0h0M720.5 768.6h0M720.8 776.0h0M720.9 785.7h0M720.9 798.8h0M721.1 806.7h0M720.4 811.1h0M720.6 823.2h0M721.1 831.0h0M721.0 838.0h0M720.7 846.1h0M841.7 944.5h0M841.5 948.0h0M842.6 931.6h0M842.9 952.8h0M843.1 951.0h0M843.3 948.9h0M843.9 948.7h0M843.7 948.9h0M843.9 948.3h0M844.4 944.8h0M845.1 946.5h0M845.0 947.9h0M844.8 957.2h0M845.5 949.1h0M845.9 943.3h0M846.7 954.3h0M847.4 955.2h0M847.2 956.4h0M846.9 950.1h0M848.3 959.4h0M848.3 946.1h0M849.0 955.4h0M848.7 952.5h0M849.4 943.7h0M849.1 941.8h0M849.9 952.7h0M849.6 947.3h0M849.7 954.8h0M850.6 957.4h0M851.2 956.4h0M851.7 955.7h0M852.4 960.5h0M852.2 954.6h0M852.8 948.2h0M853.4 949.6h0M854.3 958.1h0M854.6 947.6h0M854.5 956.1h0M855.4 955.4h0M855.7 955.4h0M856.4 945.9h0M856.6 961.6h0M856.7 960.2h0M857.2 959.8h0M857.5 957.5h0M857.2 968.8h0M857.4 958.7h0M858.3 959.6h0M858.3 963.9h0M858.1 958.9h0M859.3 963.7h0M859.1 958.5h0M859.7 966.3h0M859.4 963.9h0M860.2 964.6h0M860.2 962.6h0M860.3 960.6h0M861.2 971.0h0M861.0 948.0h0M860.8 945.6h0M861.8 966.3h0M861.5 954.6h0M861.6 967.1h0M862.4 968.0h0M862.3 960.4h0M862.9 957.2h0M863.0 959.0h0M863.4 963.9h0M863.5 956.8h0M863.5 962.0h0M863.8 959.9h0M864.7 964.6h0M864.8 966.0h0M864.9 947.6h0M865.6 961.1h0M865.6 952.7h0M865.4 963.7h0M865.6 958.9h0M865.7 954.2h0M866.2 963.8h0M867.3 954.7h0M867.4 958.2h0M867.4 957.1h0M868.4 960.0h0M868.2 960.3h0M868.7 951.1h0M869.1 960.2h0M868.8 956.2h0M869.3 947.1h0M869.6 956.9h0M869.4 951.4h0M870.2 960.6h0M870.4 957.7h0M870.4 953.7h0M870.8 958.0h0M870.7 960.0h0M871.2 964.1h0M871.5 955.5h0M871.8 953.1h0M872.1 963.3h0M872.1 959.6h0M872.5 961.2h0M872.3 962.1h0M873.4 935.1h0M873.2 937.4h0M873.2 944.0h0M873.4 940.5h0M873.2 933.2h0M873.6 925.0h0M873.1 957.5h0M874.2 950.6h0M874.1 943.7h0M874.5 953.0h0M874.9 956.0h0M874.6 959.2h0M874.6 950.1h0M875.1 952.7h0M876.4 949.2h0M876.2 956.8h0M876.2 954.8h0M877.0 949.8h0M876.7 951.6h0M877.8 951.6h0M877.6 953.5h0M877.7 955.3h0M878.3 955.2h0M879.5 944.8h0M879.5 957.5h0M879.9 943.9h0M880.7 960.2h0M880.5 959.0h0M880.6 948.2h0M881.1 955.1h0M881.1 951.9h0M881.3 959.0h0M881.6 956.8h0M882.5 951.1h0M882.2 953.2h0M882.3 954.5h0M882.9 960.5h0M883.0 959.3h0M883.7 957.2h0M883.3 953.2h0M884.1 945.4h0M884.3 954.8h0M884.1 954.9h0M884.8 955.7h0M885.0 957.8h0M885.6 963.3h0M885.8 959.4h0M885.6 951.0h0M886.5 956.4h0M886.8 950.5h0M887.1 946.6h0M887.3 949.1h0M887.9 958.0h0M887.5 941.2h0M887.8 952.7h0M888.6 952.6h0M888.3 958.7h0M889.4 954.8h0M889.7 954.5h0M889.9 953.3h0M890.7 946.3h0M890.5 956.8h0M891.6 949.9h0M891.7 948.8h0M891.4 963.3h0M892.0 956.9h0M893.2 961.4h0M893.0 952.2h0M894.1 957.1h0M894.5 929.2h0M894.8 957.0h0M894.9 945.8h0M895.5 946.2h0M895.8 942.8h0M896.0 942.6h0M896.0 937.0h0M896.8 949.3h0M897.8 945.6h0M897.6 948.9h0M898.0 951.3h0M897.9 946.2h0M898.0 945.6h0M898.9 936.2h0M899.6 944.5h0M900.0 941.7h0M901.1 939.9h0M901.8 935.7h0M901.9 941.4h0M901.4 943.3h0M902.6 935.0h0M902.6 941.3h0M903.3 935.9h0M903.4 937.2h0M904.0 923.7h0M904.3 943.8h0M903.9 916.7h0M904.0 947.5h0M904.0 919.0h0M904.4 915.6h0M904.1 928.7h0M904.6 941.1h0M905.7 933.1h0M905.4 941.8h0M905.6 944.1h0M906.1 940.9h0M906.5 940.2h0M906.2 946.4h0M906.9 932.9h0M906.8 930.8h0M907.1 959.6h0M907.2 927.7h0M908.0 950.0h0M908.6 931.1h0M908.5 941.8h0M908.5 944.2h0M909.1 945.9h0M908.9 944.8h0M909.8 947.9h0M910.5 933.4h0M911.0 950.4h0M911.6 947.5h0M911.8 930.6h0M911.2 937.1h0M912.3 943.2h0M912.8 945.5h0M913.3 946.4h0M913.6 951.0h0M915.0 953.9h0M915.5 955.9h0M916.0 953.0h0M915.4 951.7h0M916.1 954.7h0M916.1 953.1h0M917.1 952.1h0M917.5 956.8h0M917.5 954.6h0M917.5 955.7h0M918.1 955.3h0M918.5 957.9h0M918.9 958.4h0M918.7 960.1h0M919.5 952.0h0M919.9 959.0h0M919.6 956.0h0M920.6 954.9h0M920.8 949.0h0M921.3 959.2h0M921.1 959.1h0M921.7 965.8h0M922.2 960.5h0M922.4 960.8h0M923.3 956.2h0M924.1 956.9h0M924.3 958.7h0M924.7 953.0h0M924.8 958.0h0M925.3 960.7h0M924.8 952.1h0M925.0 959.7h0M925.5 959.9h0M925.5 968.8h0M926.3 963.5h0M926.5 959.7h0M926.1 943.7h0M927.3 960.3h0M927.7 963.3h0M927.3 968.0h0M927.6 951.9h0M928.0 955.3h0M927.8 965.9h0M928.6 962.2h0M928.7 966.4h0M928.4 968.0h0M929.2 941.3h0M929.3 965.7h0M929.7 955.9h0M929.6 969.3h0M930.2 963.7h0M930.4 962.1h0M931.1 962.0h0M931.2 967.4h0M931.7 964.8h0M932.5 960.7h0M932.8 964.2h0M932.8 966.7h0M932.9 961.0h0M933.8 956.4h0M934.4 967.8h0M934.4 969.8h0M934.7 969.6h0M935.2 965.1h0M935.4 967.9h0M935.6 967.5h0M935.7 964.8h0M935.8 960.2h0M936.0 967.6h0M936.5 977.1h0M936.6 962.1h0M936.5 946.4h0M937.3 967.4h0M938.0 978.3h0M937.9 971.1h0M938.1 968.9h0M938.0 971.2h0M938.3 972.0h0M938.8 972.9h0M938.8 970.3h0M939.5 974.0h0M940.3 971.3h0M941.2 966.2h0M941.5 974.3h0M941.3 971.6h0M941.4 971.2h0M941.7 968.1h0M941.8 975.4h0M942.6 972.1h0M942.3 970.0h0M942.5 969.4h0M943.0 973.4h0M942.7 968.5h0M943.2 967.3h0M944.1 973.0h0M944.9 976.4h0M944.8 971.5h0M945.5 969.9h0M945.5 966.0h0M945.5 964.8h0M945.9 962.0h0M946.9 964.8h0M947.7 949.2h0M947.5 952.0h0M947.6 958.3h0M948.2 966.4h0M948.1 953.0h0M948.0 960.8h0M948.3 956.9h0M949.5 953.2h0M949.2 949.8h0M949.3 952.7h0M950.1 941.7h0M949.7 948.1h0M950.5 952.0h0M950.5 946.1h0M951.0 939.0h0M951.2 937.4h0M952.1 969.8h0M952.1 967.2h0M952.4 972.3h0M952.5 947.6h0M952.8 969.9h0M952.4 945.9h0M952.6 952.4h0M953.4 954.5h0M953.8 956.0h0M953.7 956.7h0M954.3 937.0h0M954.3 949.2h0M954.1 939.8h0M954.7 925.1h0M954.9 933.8h0M955.9 919.8h0M956.6 918.5h0M957.1 895.5h0M957.8 924.2h0M957.9 918.5h0M958.0 904.9h0M958.3 915.0h0M958.8 901.7h0M958.8 897.9h0M959.6 895.8h0M960.3 886.5h0M961.7 874.0h0M961.2 875.7h0M961.2 865.1h0M962.3 863.7h0M962.0 855.8h0M962.8 851.2h0M963.0 849.9h0M963.4 843.9h0M963.4 844.3h0M964.2 840.0h0M964.3 843.8h0M965.2 838.7h0M964.9 835.8h0M965.1 839.5h0M965.3 834.7h0M965.6 830.2h0M965.8 834.7h0M966.2 837.8h0M965.7 834.5h0M966.7 839.0h0M967.0 834.9h0M968.0 828.5h0M967.6 829.7h0M968.3 822.0h0M968.5 827.3h0M969.3 827.8h0M969.2 821.1h0M970.3 821.0h0M970.7 805.8h0M971.7 811.2h0M971.9 790.3h0M973.2 812.5h0M972.6 816.4h0M973.5 814.0h0M974.0 819.9h0M975.1 810.2h0M975.4 809.7h0M975.4 806.9h0M976.0 805.4h0M976.4 812.0h0M976.5 807.1h0M976.8 804.5h0M976.8 809.0h0M977.1 808.7h0M978.0 791.5h0M977.9 800.2h0M977.9 805.5h0M978.5 807.0h0M978.6 808.6h0M978.5 806.8h0M978.9 803.8h0M979.2 805.3h0M979.3 805.0h0M979.8 805.0h0M979.7 803.0h0M979.6 807.1h0M980.6 804.9h0M980.4 808.7h0M981.3 804.9h0M981.0 807.9h0M981.7 808.2h0M982.4 813.0h0M982.8 808.7h0M982.7 817.4h0M983.1 816.7h0M983.7 811.8h0M983.5 814.8h0M984.3 813.9h0M985.3 823.4h0M985.6 823.4h0M985.9 824.1h0M985.7 819.3h0M986.1 825.9h0M986.4 826.9h0M987.8 837.2h0M987.7 833.5h0M988.1 845.6h0M988.8 844.1h0M989.1 839.3h0M988.6 837.5h0M989.7 849.3h0M990.5 839.9h0M990.9 861.9h0M991.2 849.5h0M992.2 863.3h0M992.7 858.3h0M992.7 863.8h0M993.5 878.1h0M993.7 878.1h0M993.6 872.4h0M994.3 882.3h0M995.0 882.2h0M995.3 881.3h0M995.5 879.7h0M996.0 888.5h0M996.4 904.6h0M996.6 902.5h0M997.8 914.9h0M997.4 917.7h0M997.6 919.5h0M998.3 928.9h0M998.3 917.9h0M998.2 919.3h0M998.3 916.9h0M998.3 906.5h0M998.3 935.2h0M997.9 922.9h0M998.2 911.1h0M998.1 955.5h0M999.2 935.7h0M998.9 939.0h0M999.6 923.1h0M1000.0 934.4h0M1000.0 933.4h0M1000.2 927.2h0M1000.5 927.5h0M1001.3 930.8h0M1001.3 930.1h0M1001.2 944.5h0M1001.8 930.6h0M1001.6 930.9h0M1001.5 936.4h0M1002.4 934.2h0M1002.4 920.1h0M1002.6 934.1h0M1002.9 938.7h0M1003.7 949.8h0M1003.6 942.1h0M844.0 940.9h0M846.0 952.7h0M847.4 953.2h0M845.1 926.4h0M846.5 944.1h0M846.2 960.4h0M847.6 971.2h0M843.8 971.3h0M841.1 955.1h0M845.8 967.1h0M843.6 941.2h0M846.0 948.7h0M845.6 966.3h0M845.3 959.6h0M841.9 925.4h0M843.9 928.8h0M845.3 941.7h0M848.2 933.2h0M846.7 964.2h0M846.6 939.7h0M844.1 970.5h0M842.1 952.6h0M844.3 961.3h0M848.6 951.5h0M848.1 931.5h0M845.5 951.8h0M846.7 961.5h0M847.3 954.9h0M843.8 960.5h0M844.7 957.1h0M848.2 968.7h0M845.5 961.2h0M847.4 966.8h0M848.6 925.2h0M846.3 933.2h0M842.1 926.3h0M842.4 969.6h0M841.4 959.5h0M845.7 964.5h0M847.3 967.3h0M846.0 937.6h0M846.6 934.9h0M844.8 967.4h0M846.5 925.4h0M847.1 929.5h0M842.8 950.5h0M847.8 967.8h0M843.2 940.7h0M849.0 936.1h0M844.5 964.0h0M845.0 973.5h0M842.4 942.8h0M844.5 939.7h0M845.2 953.9h0M848.7 968.0h0M845.2 972.2h0M846.0 968.5h0M847.0 948.5h0M844.5 957.0h0M844.3 946.6h0M843.8 953.9h0M848.8 952.5h0M848.1 953.2h0M842.8 949.6h0M843.7 956.2h0M846.0 936.3h0M841.9 967.8h0M841.0 959.4h0M841.5 954.7h0M843.7 961.6h0M848.4 973.3h0M846.2 959.8h0M845.7 934.4h0M842.3 974.5h0M847.5 930.8h0M846.0 929.9h0M842.9 959.4h0M842.8 932.2h0M845.5 973.6h0M845.9 941.3h0" stroke="#000" stroke-width="1.6" stroke-linecap="square" fill="none"/>
<path d="M210.7 1005.7 L221.0 985.0" fill="none" stroke="#000" stroke-width="6.8" stroke-linejoin="round" stroke-linecap="butt"/>
<path d="M242.9 981.5 L243.7 982.0 L244.7 982.8 L245.9 983.7 L247.2 984.6 L248.6 985.5 L249.8 986.1 L251.0 986.6 L252.1 986.9 L253.2 987.2 L254.4 987.4 L255.6 987.4 L256.7 987.3 L257.9 987.0 L259.1 986.4 L260.4 985.7 L261.6 985.0 L262.7 984.3 L263.6 983.8 L264.4 983.4 L265.1 983.0 L265.7 982.7 L266.2 982.4 L266.7 982.2 L267.0 982.0" fill="none" stroke="#000" stroke-width="6.8" stroke-linejoin="round" stroke-linecap="butt"/>
<path d="M279.7 971.2 L291.2 991.9" fill="none" stroke="#000" stroke-width="6.8" stroke-linejoin="round" stroke-linecap="butt"/>
<path d="M306.1 975.8 L328.0 991.9" fill="none" stroke="#000" stroke-width="6.8" stroke-linejoin="round" stroke-linecap="butt"/>
<path d="M345.2 968.9 L364.8 985.0" fill="none" stroke="#000" stroke-width="6.8" stroke-linejoin="round" stroke-linecap="butt"/>
<path d="M385.5 1005.7 L405.0 989.6" fill="none" stroke="#000" stroke-width="6.8" stroke-linejoin="round" stroke-linecap="butt"/>
<path d="M420.0 972.2 L421.0 972.7 L422.3 973.6 L423.9 974.6 L425.7 975.4 L427.7 975.8 L429.7 975.5 L432.0 974.3 L434.8 972.4 L437.7 970.0 L440.4 967.6 L442.7 965.5 L444.4 964.1" fill="none" stroke="#000" stroke-width="6.8" stroke-linejoin="round" stroke-linecap="butt"/>
<path d="M467.1 954.3 L468.0 954.6 L469.1 954.9 L470.6 955.3 L472.1 955.8 L473.6 956.3 L475.0 957.0 L476.3 957.8 L477.6 958.9 L479.0 960.0 L480.3 961.1 L481.6 962.2 L483.0 963.0 L484.5 963.7 L486.1 964.2 L487.8 964.7 L489.3 965.1 L490.6 965.4 L491.5 965.7" fill="none" stroke="#000" stroke-width="6.8" stroke-linejoin="round" stroke-linecap="butt"/>
<path d="M501.2 941.3 L512.6 964.1" fill="none" stroke="#000" stroke-width="6.8" stroke-linejoin="round" stroke-linecap="butt"/>
<path d="M527.2 964.1 L528.4 963.9 L530.0 963.5 L531.9 963.1 L533.9 962.7 L536.0 962.3 L538.0 962.0 L540.1 961.7 L542.4 961.5 L544.7 961.3 L546.8 961.1 L548.7 960.9 L550.0 960.8" fill="none" stroke="#000" stroke-width="6.8" stroke-linejoin="round" stroke-linecap="butt"/>
<path d="M553.2 933.2 L558.1 912.1" fill="none" stroke="#000" stroke-width="6.8" stroke-linejoin="round" stroke-linecap="butt"/>
<path d="M558.6 893.0 L559.3 891.9 L560.3 890.1 L561.5 888.1 L562.8 886.3 L564.2 885.0 L565.4 884.5 L566.7 885.2 L568.1 886.7 L569.5 888.8 L570.8 891.0 L571.9 892.9 L572.7 894.2" fill="none" stroke="#000" stroke-width="6.8" stroke-linejoin="round" stroke-linecap="butt"/>
<path d="M576.0 913.7 L595.5 930.0" fill="none" stroke="#000" stroke-width="6.8" stroke-linejoin="round" stroke-linecap="butt"/>
<path d="M598.7 907.2 L599.4 903.6 L600.4 898.4 L601.5 892.4 L602.8 886.2 L604.0 880.3 L605.0 875.6 L605.9 871.9 L606.6 868.7 L607.3 866.0 L608.1 863.6 L608.9 861.4 L609.9 859.3 L611.0 857.5 L612.3 856.2 L613.6 855.1 L615.1 854.0 L616.5 852.8 L618.0 851.2 L619.6 849.1 L621.2 846.6 L623.0 843.9 L624.6 841.3 L626.3 839.1 L627.7 837.4 L629.0 836.4 L630.1 835.8 L631.2 835.6 L632.2 835.6 L633.2 835.7 L634.2 835.8 L635.2 836.1 L636.2 836.8 L637.2 837.5 L638.3 838.1 L639.4 838.5 L640.7 838.2 L642.2 837.3 L643.8 835.9 L645.5 834.2 L647.2 832.3 L648.9 830.4 L650.5 828.5 L651.9 826.5 L653.2 824.0 L654.5 821.6 L655.7 819.4 L657.1 817.8 L658.6 817.1 L660.4 817.7 L662.3 819.4 L664.4 821.6 L666.4 824.0 L668.3 825.9 L670.0 826.8 L671.3 826.7 L672.5 826.1 L673.5 825.0 L674.4 823.6 L675.4 822.0 L676.5 820.3 L677.8 818.1 L679.1 815.2 L680.5 812.1 L682.0 809.3 L683.3 807.3 L684.6 806.5 L685.8 807.1 L686.9 808.7 L688.0 811.0 L689.0 813.9 L690.0 817.1 L691.1 820.3 L692.2 823.7 L693.3 827.5 L694.4 831.5 L695.4 835.8 L696.5 840.2 L697.6 844.7 L698.7 849.5 L699.8 854.6 L700.9 860.0 L701.9 865.1 L703.0 869.9 L704.1 874.0 L705.2 877.5 L706.3 880.8 L707.4 883.6 L708.4 886.0 L709.5 887.7 L710.6 888.6 L711.7 888.7 L712.8 888.1 L713.9 886.8 L714.9 885.0 L716.0 882.9 L717.1 880.5 L718.2 877.4 L719.2 873.4 L720.2 869.1 L721.3 864.9 L722.4 861.5 L723.6 859.3 L725.0 858.7 L726.6 859.2 L728.2 860.4 L729.8 862.0 L731.1 863.4 L732.0 864.2" fill="none" stroke="#000" stroke-width="6.8" stroke-linejoin="round" stroke-linecap="butt"/>
<path d="M851.8 957.2 L852.6 957.7 L853.6 958.5 L854.9 959.4 L856.2 960.4 L857.5 961.2 L858.6 962.0 L859.5 962.7 L860.4 963.4 L861.1 964.1 L861.9 964.7 L862.6 965.0 L863.4 965.0 L864.2 964.6 L865.1 963.7 L866.0 962.7 L866.8 961.6 L867.5 960.6 L868.0 960.0" fill="none" stroke="#000" stroke-width="6.8" stroke-linejoin="round" stroke-linecap="butt"/>
<path d="M874.8 956.0 L875.7 956.1 L876.9 956.2 L878.3 956.3 L879.9 956.4 L881.5 956.5 L883.0 956.5 L884.6 956.5 L886.3 956.4 L888.0 956.3 L889.6 956.2 L891.0 956.1 L892.0 956.0" fill="none" stroke="#000" stroke-width="6.8" stroke-linejoin="round" stroke-linecap="butt"/>
<path d="M903.6 938.9 L917.4 957.2" fill="none" stroke="#000" stroke-width="6.8" stroke-linejoin="round" stroke-linecap="butt"/>
<path d="M938.0 971.0 L938.8 971.3 L939.8 971.9 L941.1 972.4 L942.4 973.0 L943.8 973.6 L945.0 974.0 L946.2 974.3 L947.5 974.5 L948.8 974.7 L950.0 974.8 L951.1 974.9 L951.8 975.0" fill="none" stroke="#000" stroke-width="6.8" stroke-linejoin="round" stroke-linecap="butt"/>
<path d="M951.8 943.4 L957.6 925.0" fill="none" stroke="#000" stroke-width="6.8" stroke-linejoin="round" stroke-linecap="butt"/>
<path d="M957.6 899.8 L958.2 893.8 L959.0 885.1 L960.0 875.1 L961.1 864.6 L962.2 854.9 L963.3 846.9 L964.4 840.7 L965.5 835.3 L966.6 830.7 L967.8 826.5 L969.0 822.8 L970.2 819.3 L971.5 815.9 L972.9 812.8 L974.3 810.1 L975.7 807.9 L977.1 806.3 L978.3 805.5 L979.4 805.4 L980.4 806.0 L981.3 807.2 L982.2 809.1 L983.1 811.6 L984.0 814.7 L984.9 818.5 L985.9 822.9 L986.8 827.9 L987.8 833.6 L988.8 839.9 L989.8 846.9 L991.0 855.4 L992.3 865.6 L993.6 876.5 L994.9 886.9 L995.9 895.7 L996.7 902.0" fill="none" stroke="#000" stroke-width="6.8" stroke-linejoin="round" stroke-linecap="butt"/>
<path d="M997.8 927.4 L1004.7 948.0" fill="none" stroke="#000" stroke-width="6.8" stroke-linejoin="round" stroke-linecap="butt"/>
<rect x="1001.5" y="971.3" width="6.4" height="6.4" fill="#000"/>
</g>
<line x1="444.9" y1="1008.6" x2="444.9" y2="642.0" stroke="#000" stroke-width="1.9" stroke-dasharray="7.2 7.8"/>
<line x1="538.4" y1="1008.6" x2="538.4" y2="642.0" stroke="#000" stroke-width="1.9" stroke-dasharray="7.2 7.8"/>
<line x1="638.6" y1="1008.6" x2="638.6" y2="642.0" stroke="#000" stroke-width="1.9" stroke-dasharray="7.2 7.8"/>
<line x1="732.1" y1="1008.6" x2="732.1" y2="642.0" stroke="#000" stroke-width="1.9" stroke-dasharray="7.2 7.8"/>
<line x1="885.3" y1="1008.6" x2="885.3" y2="642.0" stroke="#000" stroke-width="1.9" stroke-dasharray="7.2 7.8"/>
<line x1="932.0" y1="1008.6" x2="932.0" y2="642.0" stroke="#000" stroke-width="1.9" stroke-dasharray="7.2 7.8"/>
<line x1="1005.4" y1="1008.6" x2="1005.4" y2="642.0" stroke="#000" stroke-width="1.9" stroke-dasharray="7.2 7.8"/>
<rect x="732.2" y="642.0" width="107.0" height="366.6" fill="#E7E8EA" stroke="#000" stroke-width="1.9"/>
<line x1="109.0" y1="642.0" x2="1116.2" y2="642.0" stroke="#262626" stroke-width="1.9"/>
<line x1="109.0" y1="1008.6" x2="1116.2" y2="1008.6" stroke="#262626" stroke-width="1.9"/>
<text x="109.0" y="1054.6" text-anchor="middle" font-size="36.0" fill="#262626">Feb</text>
<line x1="302.4" y1="1008.6" x2="302.4" y2="998.1" stroke="#262626" stroke-width="1.8"/>
<line x1="302.4" y1="642.0" x2="302.4" y2="652.5" stroke="#262626" stroke-width="1.8"/>
<text x="302.4" y="1054.6" text-anchor="middle" font-size="36.0" fill="#262626">Mar</text>
<line x1="509.2" y1="1008.6" x2="509.2" y2="998.1" stroke="#262626" stroke-width="1.8"/>
<line x1="509.2" y1="642.0" x2="509.2" y2="652.5" stroke="#262626" stroke-width="1.8"/>
<text x="509.2" y="1054.6" text-anchor="middle" font-size="36.0" fill="#262626">Apr</text>
<line x1="709.3" y1="1008.6" x2="709.3" y2="998.1" stroke="#262626" stroke-width="1.8"/>
<line x1="709.3" y1="642.0" x2="709.3" y2="652.5" stroke="#262626" stroke-width="1.8"/>
<text x="709.3" y="1054.6" text-anchor="middle" font-size="36.0" fill="#262626">May</text>
<line x1="916.1" y1="1008.6" x2="916.1" y2="998.1" stroke="#262626" stroke-width="1.8"/>
<line x1="916.1" y1="642.0" x2="916.1" y2="652.5" stroke="#262626" stroke-width="1.8"/>
<text x="916.1" y="1054.6" text-anchor="middle" font-size="36.0" fill="#262626">Jun</text>
<text x="1116.2" y="1054.6" text-anchor="middle" font-size="36.0" fill="#262626">Jul</text>
<text x="612.6" y="1104.6" text-anchor="middle" font-size="38.5" fill="#262626">Month</text>
<line x1="109.0" y1="1008.6" x2="120.0" y2="1008.6" stroke="#ED1C24" stroke-width="1.8"/>
<text x="97.6" y="1022.5" text-anchor="end" font-size="36.0" fill="#ED1C24">0</text>
<line x1="109.0" y1="935.3" x2="120.0" y2="935.3" stroke="#ED1C24" stroke-width="1.8"/>
<text x="97.6" y="949.2" text-anchor="end" font-size="36.0" fill="#ED1C24">1</text>
<line x1="109.0" y1="862.0" x2="120.0" y2="862.0" stroke="#ED1C24" stroke-width="1.8"/>
<text x="97.6" y="875.9" text-anchor="end" font-size="36.0" fill="#ED1C24">2</text>
<line x1="109.0" y1="788.6" x2="120.0" y2="788.6" stroke="#ED1C24" stroke-width="1.8"/>
<text x="97.6" y="802.5" text-anchor="end" font-size="36.0" fill="#ED1C24">3</text>
<line x1="109.0" y1="715.3" x2="120.0" y2="715.3" stroke="#ED1C24" stroke-width="1.8"/>
<text x="97.6" y="729.2" text-anchor="end" font-size="36.0" fill="#ED1C24">4</text>
<line x1="109.0" y1="642.0" x2="120.0" y2="642.0" stroke="#ED1C24" stroke-width="1.8"/>
<text x="97.6" y="655.9" text-anchor="end" font-size="36.0" fill="#ED1C24">5</text>
<line x1="109.0" y1="641.0" x2="109.0" y2="1009.6" stroke="#ED1C24" stroke-width="1.9"/>
<line x1="1116.2" y1="641.0" x2="1116.2" y2="1009.6" stroke="#000" stroke-width="1.9"/>
<line x1="1116.2" y1="1008.6" x2="1105.2" y2="1008.6" stroke="#000" stroke-width="1.8"/>
<text x="1127.3" y="1022.5" font-size="36.0" fill="#000">0</text>
<line x1="1116.2" y1="935.3" x2="1105.2" y2="935.3" stroke="#000" stroke-width="1.8"/>
<text x="1127.3" y="949.2" font-size="36.0" fill="#000">0.1</text>
<line x1="1116.2" y1="862.0" x2="1105.2" y2="862.0" stroke="#000" stroke-width="1.8"/>
<text x="1127.3" y="875.9" font-size="36.0" fill="#000">0.2</text>
<line x1="1116.2" y1="788.6" x2="1105.2" y2="788.6" stroke="#000" stroke-width="1.8"/>
<text x="1127.3" y="802.5" font-size="36.0" fill="#000">0.3</text>
<line x1="1116.2" y1="715.3" x2="1105.2" y2="715.3" stroke="#000" stroke-width="1.8"/>
<text x="1127.3" y="729.2" font-size="36.0" fill="#000">0.4</text>
<line x1="1116.2" y1="642.0" x2="1105.2" y2="642.0" stroke="#000" stroke-width="1.8"/>
<text transform="translate(61.5 825.3) rotate(-90)" text-anchor="middle" font-size="38.5" fill="#ED1C24" xml:space="preserve">Chlorophyll  <tspan font-style="italic">a</tspan> (mg m<tspan dy="-19.3" font-size="31">-3</tspan><tspan dy="19.3" dx="4">)</tspan></text>
<text transform="translate(1223.5 825.3) rotate(-90)" text-anchor="middle" font-size="38.5" fill="#000">Turbidity (FTU)</text>
<text x="39.7" y="605.0" font-size="29" font-weight="bold" fill="#000">B</text>
<g clip-path="url(#cc)">
<path d="M600.7 1420.6h0M600.4 1424.2h0M600.6 1428.0h0M602.5 1421.0h0M602.4 1422.7h0M601.9 1424.3h0M604.2 1419.5h0M604.2 1423.1h0M604.3 1424.8h0M604.4 1426.3h0M603.8 1429.7h0M606.0 1422.5h0M605.6 1425.8h0M606.6 1431.4h0M607.4 1422.9h0M607.5 1427.5h0M607.6 1430.6h0M609.0 1424.2h0M608.6 1429.4h0M610.3 1419.3h0M610.3 1421.9h0M610.2 1427.3h0M610.3 1431.9h0M611.1 1418.1h0M610.8 1421.9h0M611.1 1426.3h0M610.9 1428.3h0M612.0 1422.4h0M611.9 1427.1h0M612.5 1429.4h0M612.3 1432.5h0M611.8 1434.3h0M613.0 1423.0h0M613.3 1424.7h0M613.0 1426.5h0M613.0 1430.4h0M612.5 1433.3h0M614.8 1419.5h0M615.0 1421.5h0M614.4 1424.0h0M614.6 1426.2h0M614.0 1428.4h0M616.5 1420.3h0M616.5 1425.8h0M616.4 1428.2h0M617.8 1420.2h0M618.1 1424.6h0M619.9 1415.2h0M619.8 1420.5h0M619.8 1423.0h0M620.6 1417.6h0M620.6 1420.5h0M622.5 1415.7h0M622.6 1417.3h0M623.0 1418.8h0M622.4 1424.2h0M622.5 1425.7h0M623.6 1414.3h0M623.8 1417.9h0M623.3 1422.4h0M625.4 1415.7h0M625.1 1420.8h0M625.7 1423.9h0M625.1 1427.7h0M627.2 1417.4h0M627.0 1423.0h0M626.8 1428.1h0M628.1 1417.7h0M628.3 1419.4h0M628.3 1423.4h0M628.4 1426.8h0M628.7 1430.3h0M630.1 1418.1h0M630.6 1420.4h0M630.6 1422.5h0M631.9 1418.1h0M631.7 1420.3h0M632.3 1425.6h0M633.6 1416.6h0M633.6 1421.5h0M633.2 1426.5h0M633.8 1417.8h0M634.1 1420.1h0M634.6 1423.6h0M634.8 1426.3h0M634.7 1419.3h0M635.2 1420.9h0M635.0 1423.6h0M635.4 1428.3h0M636.1 1409.0h0M636.4 1411.0h0M636.2 1414.2h0M635.8 1418.3h0M637.3 1404.1h0M638.0 1406.2h0M637.7 1410.6h0M637.7 1412.8h0M899.4 1318.3h0M899.3 1324.7h0M899.3 1330.4h0M898.9 1337.9h0M899.4 1345.1h0M901.3 1304.0h0M901.2 1307.3h0M909.5 1275.5h0M909.6 1282.4h0M909.6 1284.8h0M909.4 1288.8h0M911.1 1262.6h0M910.7 1270.3h0M910.9 1272.8h0M911.1 1276.5h0M910.6 1282.9h0M912.5 1268.6h0M912.9 1275.7h0M912.6 1281.1h0M912.4 1284.3h0M915.5 1273.3h0M915.2 1275.6h0M915.4 1283.4h0M916.6 1263.7h0M916.9 1266.8h0M917.0 1272.5h0M916.8 1279.2h0M918.5 1267.0h0M918.4 1269.7h0M918.2 1274.8h0M920.0 1260.0h0M919.6 1265.8h0M967.0 1266.2h0M967.0 1269.0h0M967.4 1272.5h0M967.1 1275.1h0M966.8 1281.9h0M966.7 1284.6h0M967.2 1286.7h0M966.8 1289.9h0M966.5 1297.7h0M966.6 1300.4h0M969.1 1257.4h0M968.9 1262.5h0M969.0 1265.6h0M969.4 1268.8h0M968.4 1276.4h0M969.6 1278.9h0M969.3 1283.7h0M970.4 1257.2h0M970.1 1260.3h0M970.5 1265.0h0M970.3 1268.2h0M970.5 1271.2h0M970.5 1278.6h0M974.5 1242.1h0M975.1 1248.6h0M974.6 1255.3h0M974.3 1262.6h0M978.9 1264.4h0M981.0 1260.6h0M980.4 1266.1h0M988.1 1247.8h0M987.9 1250.4h0M906.4 1252.0h0M906.3 1257.6h0M906.9 1264.1h0M906.5 1267.1h0M906.5 1271.9h0M906.6 1277.6h0M906.6 1279.9h0M906.3 1285.1h0M921.9 1246.0h0M921.6 1251.9h0M921.7 1258.2h0M922.0 1262.0h0M921.8 1264.3h0M921.8 1267.2h0M973.6 1211.0h0M973.5 1218.9h0M974.1 1226.6h0M973.8 1231.2h0M973.8 1236.0h0M973.6 1241.2h0M973.6 1248.8h0M979.7 1222.0h0M979.2 1224.7h0M979.4 1230.4h0M979.6 1232.7h0M979.7 1237.9h0M979.7 1243.9h0M979.5 1248.7h0M979.9 1253.2h0M978.7 1259.8h0M987.3 1195.0h0M987.1 1197.7h0M987.4 1205.0h0M987.0 1209.2h0M987.2 1212.8h0M987.0 1218.4h0M988.2 1220.0h0M989.0 1223.5h0M988.3 1230.8h0M988.6 1233.0h0M988.5 1237.6h0M988.7 1243.3h0M988.6 1245.7h0M988.3 1248.2h0M857.3 1300.0h0M857.8 1303.3h0M857.5 1307.3h0M857.1 1309.8h0M857.7 1312.5h0M857.2 1319.1h0M857.4 1322.4h0M857.6 1329.2h0M867.7 1310.0h0M867.9 1314.0h0M868.2 1321.5h0M868.2 1326.0h0M868.4 1333.3h0M868.6 1335.8h0M868.5 1340.7h0M286.2 1476.0h0M285.9 1478.5h0M286.1 1480.9h0M285.7 1484.8h0M285.4 1488.5h0M310.9 1478.0h0M310.9 1482.2h0M310.9 1487.6h0M306.6 1470.0h0M306.9 1474.6h0M306.6 1478.5h0M307.3 1482.9h0" stroke="#344EA2" stroke-width="1.3" stroke-linecap="square" fill="none"/>
<path d="M211.1 1462.4 L212.1 1464.0 L213.2 1466.6 L214.1 1464.5 L214.9 1463.4 L215.8 1464.0 L216.6 1465.2 L217.5 1466.6 L218.3 1465.4 L219.2 1463.8 L220.0 1464.3 L220.9 1464.3 L221.7 1462.4 L222.5 1464.1 L223.2 1466.8 L224.0 1467.4 L224.8 1468.7 L225.6 1468.7 L226.3 1472.0 L227.1 1473.7 L227.8 1472.7 L228.6 1473.0 L229.3 1476.0 L230.1 1477.1 L230.9 1474.9 L231.7 1472.6 L232.5 1471.7 L233.3 1467.6 L234.4 1462.3 L235.4 1456.0 L236.2 1458.2 L237.0 1456.6 L237.8 1459.4 L238.6 1460.3 L239.4 1459.5 L240.1 1455.1 L240.9 1453.2 L241.7 1452.9 L242.5 1455.1 L243.3 1456.9 L244.1 1455.3 L244.9 1458.1 L245.7 1459.4 L246.5 1458.4 L247.3 1461.4 L248.1 1461.3 L249.1 1465.5 L250.2 1468.7 L251.0 1467.3 L251.8 1466.6 L252.6 1468.1 L253.4 1466.6 L254.1 1466.5 L254.8 1467.2 L255.5 1465.7 L256.2 1465.3 L256.9 1467.4 L257.6 1465.5 L258.4 1465.5 L259.1 1464.3 L259.9 1463.8 L260.6 1463.9 L261.4 1463.2 L262.1 1463.4 L262.9 1461.3 L263.6 1462.0 L264.4 1464.6 L265.1 1465.1 L265.9 1466.8 L266.6 1467.7 L267.4 1468.8 L268.1 1468.7 L268.8 1470.6 L269.5 1471.3 L270.2 1470.6 L270.9 1470.7 L271.7 1471.8 L272.4 1472.6 L273.1 1471.7 L273.8 1472.1 L274.5 1472.9 L275.3 1472.9 L276.2 1476.3 L277.0 1478.5 L277.9 1477.6 L278.7 1479.3 L279.5 1478.9 L280.4 1479.9 L281.2 1481.5 L282.1 1481.9 L282.9 1483.5 L283.6 1484.0 L284.3 1479.4 L285.0 1479.1 L285.7 1477.2 L286.4 1477.9 L287.1 1476.1 L287.8 1478.1 L288.5 1477.0 L289.2 1477.7 L290.0 1480.2 L290.7 1481.7 L291.4 1482.4 L292.1 1484.1 L292.8 1481.1 L293.5 1481.5 L294.2 1482.0 L294.9 1482.3 L295.6 1483.5 L296.4 1480.6 L297.1 1480.4 L297.9 1478.0 L298.6 1474.7 L299.4 1472.6 L300.1 1471.0 L300.9 1469.8 L301.6 1469.7 L302.3 1472.8 L303.0 1472.3 L303.7 1474.2 L304.4 1476.2 L305.1 1476.1 L305.9 1475.8 L306.8 1474.8 L307.6 1476.8 L308.5 1476.7 L309.3 1475.0 L310.4 1480.8 L311.4 1487.7 L312.2 1486.4 L312.9 1486.3 L313.7 1483.1 L314.4 1480.6 L315.2 1478.5 L315.9 1480.2 L316.7 1477.1 L317.5 1477.0 L318.2 1474.3 L319.0 1473.6 L319.7 1472.4 L320.5 1470.3 L321.2 1471.7 L322.0 1468.7 L322.8 1469.9 L323.5 1469.0 L324.3 1468.7 L325.0 1471.0 L325.8 1471.2 L326.5 1473.4 L327.3 1472.9 L328.1 1474.2 L328.9 1474.3 L329.6 1473.2 L330.4 1475.0 L331.2 1473.2 L331.9 1473.2 L332.7 1472.3 L333.4 1473.9 L334.2 1472.1 L334.9 1471.9 L335.7 1470.8 L336.5 1471.1 L337.4 1467.0 L338.2 1466.5 L339.1 1463.6 L339.9 1463.4 L340.7 1464.1 L341.4 1461.0 L342.2 1463.7 L342.9 1463.4 L343.7 1463.1 L344.4 1460.1 L345.2 1461.3 L346.0 1460.8 L346.7 1462.7 L347.5 1460.7 L348.2 1462.4 L349.0 1462.7 L349.7 1464.7 L350.5 1463.4 L351.3 1463.5 L352.2 1464.3 L353.0 1462.1 L353.9 1463.6 L354.7 1462.4 L355.4 1462.3 L356.1 1464.2 L356.9 1461.4 L357.6 1464.2 L358.3 1462.2 L359.0 1463.4 L359.8 1463.1 L360.7 1462.7 L361.5 1460.9 L362.4 1462.9 L363.2 1461.3 L364.0 1460.2 L364.9 1459.8 L365.7 1458.5 L366.6 1458.9 L367.4 1459.2 L368.1 1459.6 L368.8 1461.0 L369.5 1460.3 L370.2 1462.0 L370.9 1460.4 L371.6 1462.4 L372.3 1461.5 L373.0 1461.2 L373.8 1462.5 L374.5 1461.5 L375.2 1460.3 L375.9 1459.2 L376.6 1457.3 L377.3 1458.5 L378.0 1459.6 L378.7 1457.8 L379.4 1458.8 L380.1 1458.3 L380.8 1456.6 L381.5 1460.0 L382.2 1458.1 L383.0 1458.3 L383.7 1455.2 L384.5 1455.8 L385.2 1453.7 L386.0 1453.2 L386.7 1452.8 L387.5 1451.8 L388.3 1452.6 L389.1 1454.4 L389.8 1456.1 L390.6 1458.1 L391.4 1458.2 L392.2 1456.2 L393.0 1455.4 L393.8 1456.0 L394.6 1458.1 L395.5 1457.9 L396.3 1461.4 L397.2 1461.3 L398.0 1462.4 L398.8 1462.7 L399.6 1460.7 L400.4 1462.0 L401.2 1460.3 L402.0 1459.0 L402.9 1459.4 L403.7 1459.4 L404.6 1461.7 L405.4 1461.3 L406.1 1462.0 L406.8 1460.1 L407.5 1460.9 L408.2 1462.5 L408.9 1461.6 L409.6 1461.3 L410.3 1460.0 L411.0 1460.7 L411.8 1460.6 L412.5 1460.7 L413.2 1461.9 L413.9 1462.4 L414.6 1460.5 L415.3 1463.2 L416.0 1461.1 L416.7 1461.0 L417.4 1461.2 L418.1 1460.3 L418.9 1459.4 L419.7 1457.8 L420.5 1454.3 L421.3 1452.9 L422.1 1452.8 L422.9 1453.6 L423.6 1452.7 L424.4 1455.0 L425.2 1452.8 L426.0 1452.0 L426.8 1451.2 L427.6 1447.6 L428.4 1449.7 L429.2 1450.3 L430.0 1451.1 L430.8 1451.8 L431.6 1447.7 L432.4 1446.4 L433.1 1444.1 L433.9 1442.3 L434.7 1445.5 L435.5 1446.2 L436.3 1449.8 L437.1 1452.9 L437.9 1450.8 L438.7 1449.7 L439.5 1447.7 L440.3 1444.4 L441.1 1445.6 L441.8 1444.8 L442.6 1447.8 L443.4 1449.1 L444.1 1448.6 L444.9 1449.2 L445.6 1448.5 L446.4 1448.9 L447.1 1447.4 L447.8 1449.3 L448.5 1450.1 L449.3 1448.2 L450.0 1448.8 L450.7 1449.0 L451.5 1446.6 L452.2 1447.5 L452.9 1449.1 L453.7 1447.9 L454.4 1446.3 L455.1 1445.8 L455.9 1446.3 L456.6 1447.5 L457.3 1447.9 L458.0 1446.5 L458.8 1448.6 L459.5 1447.0 L460.3 1448.0 L461.1 1449.9 L461.9 1450.1 L462.8 1454.7 L463.6 1453.2 L464.4 1456.0 L465.1 1456.7 L465.8 1454.7 L466.6 1454.0 L467.3 1453.3 L468.0 1452.3 L468.8 1451.1 L469.5 1453.0 L470.3 1452.9 L471.1 1451.9 L471.8 1450.7 L472.6 1448.6 L473.3 1450.8 L474.1 1449.2 L474.9 1449.8 L475.7 1453.3 L476.6 1452.3 L477.4 1454.8 L478.2 1457.1 L479.0 1457.2 L479.8 1456.9 L480.6 1459.0 L481.4 1458.1 L482.3 1458.8 L483.1 1460.1 L483.9 1462.1 L484.6 1462.1 L485.3 1460.2 L486.1 1457.5 L486.8 1454.5 L487.5 1453.5 L488.3 1455.7 L489.1 1457.6 L489.9 1458.0 L490.8 1460.4 L491.6 1462.8 L492.4 1463.3 L493.2 1462.2 L493.9 1463.4 L494.7 1465.0 L495.4 1464.5 L496.2 1466.0 L497.0 1467.2 L497.7 1466.4 L498.5 1468.2 L499.3 1467.1 L500.1 1464.9 L500.9 1464.8 L501.8 1462.7 L502.6 1462.6 L503.4 1460.9 L504.2 1459.6 L505.0 1462.3 L505.8 1460.8 L506.6 1464.2 L507.4 1463.3 L508.2 1463.3 L508.9 1463.5 L509.6 1463.7 L510.3 1464.8 L511.0 1465.4 L511.7 1465.9 L512.4 1466.3 L513.1 1465.7 L513.8 1466.4 L514.6 1469.0 L515.3 1469.1 L516.1 1469.9 L516.8 1469.4 L517.5 1465.9 L518.2 1462.8 L519.0 1460.1 L519.7 1458.1 L520.4 1453.5 L521.2 1455.0 L522.0 1456.5 L522.8 1457.6 L523.7 1460.7 L524.5 1460.0 L525.3 1462.1 L526.0 1461.7 L526.7 1465.3 L527.4 1467.2 L528.1 1467.8 L528.8 1468.5 L529.5 1470.3 L530.2 1470.6 L531.0 1468.3 L531.8 1467.7 L532.7 1464.2 L533.5 1462.8 L534.3 1462.3 L535.1 1460.9 L535.8 1462.4 L536.5 1463.4 L537.3 1463.7 L538.0 1467.4 L538.7 1468.2 L539.4 1469.3 L540.2 1469.2 L540.9 1470.4 L541.7 1471.7 L542.4 1473.0 L543.2 1468.8 L544.0 1464.9 L544.8 1464.7 L545.6 1461.7 L546.4 1457.3 L547.2 1453.5 L548.0 1456.1 L548.8 1455.7 L549.7 1458.3 L550.5 1457.4 L551.3 1460.6 L552.1 1460.9 L552.9 1458.7 L553.8 1457.4 L554.6 1453.5 L555.3 1452.6 L556.0 1455.6 L556.8 1453.6 L557.5 1455.6 L558.2 1456.0 L558.9 1454.7 L559.7 1448.4 L560.4 1446.3 L561.2 1443.6 L561.9 1441.4 L562.6 1443.2 L563.3 1444.7 L564.1 1450.1 L564.8 1452.2 L565.5 1453.5 L566.3 1453.4 L567.0 1453.6 L567.8 1454.7 L568.5 1453.1 L569.3 1453.4 L570.1 1456.8 L570.8 1455.0 L571.6 1456.0 L572.4 1457.0 L573.2 1459.6 L574.0 1460.8 L574.9 1460.0 L575.7 1460.0 L576.5 1462.1 L577.3 1460.3 L578.1 1461.6 L579.0 1460.5 L579.8 1456.9 L580.6 1458.2 L581.4 1456.0 L582.2 1453.0 L583.0 1451.0 L583.8 1447.5 L584.6 1447.6 L585.4 1445.6 L586.2 1441.4 L587.0 1441.3 L587.8 1443.9 L588.7 1443.3 L589.5 1446.8 L590.3 1444.9 L591.1 1447.5 L591.9 1443.6 L592.7 1443.4 L593.5 1440.1 L594.3 1440.4 L595.1 1443.6 L596.0 1444.5 L596.8 1444.9 L597.6 1443.9 L598.4 1446.2 L599.2 1438.8 L600.1 1431.6 L600.9 1421.9 L601.7 1422.7 L602.5 1422.4 L603.3 1424.0 L604.1 1425.3 L604.9 1427.7 L605.7 1428.0 L606.5 1426.5 L607.3 1426.0 L608.2 1425.8 L609.0 1426.9 L609.8 1427.0 L610.6 1425.5 L611.4 1425.5 L612.2 1426.9 L613.0 1428.1 L613.9 1427.5 L614.7 1426.6 L615.5 1428.0 L616.3 1426.1 L617.1 1427.1 L618.0 1424.9 L618.8 1422.3 L619.6 1422.3 L620.4 1420.6 L621.2 1419.7 L622.0 1423.6 L622.8 1422.2 L623.6 1423.2 L624.4 1423.8 L625.2 1424.3 L626.0 1422.3 L626.8 1423.9 L627.7 1422.3 L628.5 1421.8 L629.3 1423.4 L630.1 1421.9 L630.9 1420.6 L631.7 1421.5 L632.5 1423.4 L633.4 1421.8 L634.2 1422.1 L635.0 1423.1 L635.7 1419.1 L636.4 1413.7 L637.2 1412.1 L637.9 1408.3 L638.6 1402.4 L639.4 1394.2 L640.3 1389.3 L641.1 1382.9 L641.8 1384.5 L642.5 1383.9 L643.3 1386.6 L644.0 1385.8 L644.7 1386.5 L645.4 1383.6 L646.2 1383.3 L646.9 1381.9 L647.7 1379.2 L648.4 1378.0 L649.1 1379.8 L649.8 1381.5 L650.6 1381.7 L651.3 1382.9 L652.0 1384.1 L652.7 1383.6 L653.5 1381.4 L654.2 1379.1 L655.0 1378.9 L655.7 1375.6 L656.4 1373.4 L657.2 1374.6 L657.9 1371.5 L658.7 1372.1 L659.4 1370.7 L660.6 1362.1 L661.3 1362.9 L662.0 1365.3 L662.8 1368.2 L663.5 1370.0 L664.2 1370.7 L664.9 1370.3 L665.7 1366.8 L666.4 1366.3 L667.2 1363.9 L667.9 1363.4 L668.7 1364.9 L669.5 1365.8 L670.3 1365.4 L671.2 1368.6 L672.0 1370.3 L672.8 1370.7 L673.6 1372.8 L674.4 1375.7 L675.2 1375.0 L676.0 1376.7 L676.8 1378.0 L677.6 1381.6 L678.3 1381.1 L679.1 1380.4 L679.8 1380.0 L680.6 1378.8 L681.3 1379.2 L682.0 1381.3 L682.7 1379.7 L683.4 1383.8 L684.1 1383.6 L684.8 1384.6 L685.5 1386.5 L686.2 1386.5 L687.0 1386.8 L687.8 1387.7 L688.6 1389.5 L689.4 1389.7 L690.2 1391.9 L691.0 1393.8 L691.7 1392.3 L692.5 1390.0 L693.2 1387.1 L694.0 1386.4 L694.7 1384.1 L695.5 1384.2 L696.3 1388.5 L697.2 1387.8 L698.0 1389.7 L698.8 1391.0 L699.6 1393.8 L700.3 1393.8 L701.0 1393.6 L701.8 1392.7 L702.5 1389.3 L703.2 1390.2 L704.0 1388.9 L704.8 1387.7 L705.7 1386.1 L706.5 1387.8 L707.3 1383.5 L708.1 1384.1 L708.8 1386.5 L709.6 1389.9 L710.3 1393.2 L711.1 1392.6 L711.8 1396.3 L712.5 1396.9 L713.3 1398.7 L714.0 1396.9 L714.8 1398.4 L715.5 1401.5 L716.3 1399.6 L717.0 1401.3 L717.8 1402.4 L718.5 1400.2 L719.3 1399.2 L720.0 1396.4 L720.8 1394.8 L721.5 1395.0 L722.2 1397.8 L723.0 1397.9 L723.7 1398.8 L724.5 1397.9 L725.2 1399.9" fill="none" stroke="#344EA2" stroke-width="1.9" stroke-linejoin="round"/>
<path d="M836.5 1347.1 L837.3 1341.5 L838.1 1337.9 L838.9 1332.1 L839.7 1328.4 L840.5 1328.7 L841.4 1330.8 L842.2 1329.1 L843.0 1330.0 L843.8 1329.2 L844.6 1331.3 L845.4 1329.8 L846.2 1329.2 L847.0 1326.5 L847.9 1326.7 L848.7 1326.0 L849.5 1328.1 L850.3 1329.2 L851.1 1324.0 L851.9 1321.9 L852.7 1314.6 L853.6 1309.1 L854.4 1301.6 L855.2 1302.4 L856.0 1300.9 L856.8 1300.0 L857.6 1300.9 L858.4 1298.8 L859.2 1298.4 L860.0 1306.9 L860.9 1316.2 L861.7 1318.0 L862.5 1316.8 L863.3 1317.8 L864.1 1321.3 L864.9 1322.7 L865.7 1325.5 L866.6 1329.8 L867.4 1334.1 L868.2 1335.8 L869.0 1340.0 L869.8 1341.4 L870.6 1345.5 L871.4 1342.8 L872.3 1341.2 L873.1 1340.6 L873.9 1329.2 L874.7 1332.9 L875.5 1336.1 L876.3 1340.6 L877.1 1340.9 L877.9 1343.4 L878.7 1342.2 L879.5 1340.0 L880.4 1337.8 L881.2 1332.6 L882.0 1330.8 L882.8 1330.8 L883.6 1330.1 L884.4 1332.8 L885.2 1332.5 L886.0 1336.9 L886.9 1342.2 L887.7 1342.0 L888.5 1341.7 L889.3 1342.9 L890.1 1344.7 L890.9 1344.6 L891.8 1345.9 L892.6 1348.6 L893.4 1347.9 L894.2 1342.6 L895.0 1335.7 L895.8 1335.3 L896.6 1336.0 L897.4 1335.7 L898.2 1337.3 L899.0 1333.2 L899.9 1326.0 L900.7 1317.3 L901.5 1309.7 L902.3 1307.8 L903.1 1304.9 L903.9 1302.7 L904.7 1298.4 L905.5 1295.4 L906.4 1295.3 L907.2 1294.3 L908.0 1293.5 L908.8 1289.5 L909.6 1290.0 L910.4 1285.5 L911.2 1283.7 L912.0 1283.5 L912.9 1281.4 L913.7 1278.5 L914.5 1278.9 L915.3 1276.9 L916.1 1274.7 L916.9 1272.4 L917.7 1272.4 L918.5 1269.9 L919.4 1270.3 L920.2 1267.0 L921.0 1267.5 L921.8 1271.2 L922.6 1275.9 L923.4 1280.5 L924.2 1281.6 L925.0 1281.1 L925.9 1284.2 L926.7 1283.6 L927.5 1285.4 L928.3 1287.0 L929.1 1287.6 L929.9 1286.5 L930.7 1288.6 L931.5 1296.5 L932.4 1306.5 L933.2 1307.3 L934.0 1310.5 L934.8 1311.0 L935.6 1313.0 L936.4 1314.6 L937.2 1318.4 L938.1 1318.1 L938.9 1321.1 L939.7 1318.3 L940.5 1316.5 L941.3 1314.0 L942.1 1313.0 L942.9 1312.1 L943.8 1312.9 L944.6 1315.9 L945.4 1316.2 L946.2 1313.2 L947.0 1310.8 L947.8 1306.5 L948.6 1280.5 L949.4 1283.3 L950.2 1281.9 L951.0 1283.7 L951.8 1288.6 L952.7 1293.9 L953.5 1296.7 L954.3 1298.5 L955.1 1303.1 L955.9 1305.8 L956.7 1308.1 L957.5 1305.7 L958.4 1301.3 L959.2 1295.0 L960.0 1291.9 L960.8 1290.8 L961.6 1287.2 L962.4 1286.8 L963.2 1285.4 L964.0 1285.4 L964.9 1284.6 L965.7 1286.2 L966.5 1287.0 L967.3 1283.1 L968.1 1280.5 L968.9 1277.2 L969.7 1277.0 L970.5 1277.1 L971.3 1278.9 L972.1 1272.8 L973.0 1267.5 L973.8 1264.2 L974.6 1261.0 L975.4 1261.4 L976.2 1264.8 L977.0 1264.9 L977.8 1267.5 L978.6 1264.4 L979.5 1263.7 L980.3 1262.3 L981.1 1261.0 L981.9 1261.9 L982.7 1265.6 L983.5 1267.5 L984.3 1263.9 L985.2 1259.0 L986.0 1254.5 L986.8 1254.1 L987.6 1250.6 L988.4 1251.2 L989.2 1257.9 L990.0 1264.8 L990.8 1272.4 L991.6 1273.3 L992.5 1276.9 L993.3 1278.1 L994.1 1282.1 L994.9 1284.1 L995.7 1286.5 L996.5 1288.1 L997.3 1290.2 L998.1 1291.6 L999.0 1293.4 L999.8 1294.6 L1000.6 1298.4 L1001.4 1294.6 L1002.2 1291.9 L1003.0 1294.9 L1003.9 1295.4 L1004.7 1295.9 L1005.5 1298.4" fill="none" stroke="#344EA2" stroke-width="1.9" stroke-linejoin="round"/>
</g>
<line x1="444.9" y1="1534.6" x2="444.9" y2="1168.7" stroke="#000" stroke-width="1.9" stroke-dasharray="7.2 7.8"/>
<line x1="538.4" y1="1534.6" x2="538.4" y2="1168.7" stroke="#000" stroke-width="1.9" stroke-dasharray="7.2 7.8"/>
<line x1="638.6" y1="1534.6" x2="638.6" y2="1168.7" stroke="#000" stroke-width="1.9" stroke-dasharray="7.2 7.8"/>
<line x1="732.1" y1="1534.6" x2="732.1" y2="1168.7" stroke="#000" stroke-width="1.9" stroke-dasharray="7.2 7.8"/>
<line x1="885.3" y1="1534.6" x2="885.3" y2="1168.7" stroke="#000" stroke-width="1.9" stroke-dasharray="7.2 7.8"/>
<line x1="932.0" y1="1534.6" x2="932.0" y2="1168.7" stroke="#000" stroke-width="1.9" stroke-dasharray="7.2 7.8"/>
<line x1="1005.4" y1="1534.6" x2="1005.4" y2="1168.7" stroke="#000" stroke-width="1.9" stroke-dasharray="7.2 7.8"/>
<rect x="728.6" y="1168.7" width="106.8" height="365.9" fill="#E7E8EA" stroke="#000" stroke-width="1.9"/>
<line x1="109.0" y1="1168.7" x2="1116.2" y2="1168.7" stroke="#262626" stroke-width="1.9"/>
<line x1="109.0" y1="1534.6" x2="1116.2" y2="1534.6" stroke="#262626" stroke-width="1.9"/>
<text x="109.0" y="1580.6" text-anchor="middle" font-size="36.0" fill="#262626">Feb</text>
<line x1="302.4" y1="1534.6" x2="302.4" y2="1524.1" stroke="#262626" stroke-width="1.8"/>
<line x1="302.4" y1="1168.7" x2="302.4" y2="1179.2" stroke="#262626" stroke-width="1.8"/>
<text x="302.4" y="1580.6" text-anchor="middle" font-size="36.0" fill="#262626">Mar</text>
<line x1="509.2" y1="1534.6" x2="509.2" y2="1524.1" stroke="#262626" stroke-width="1.8"/>
<line x1="509.2" y1="1168.7" x2="509.2" y2="1179.2" stroke="#262626" stroke-width="1.8"/>
<text x="509.2" y="1580.6" text-anchor="middle" font-size="36.0" fill="#262626">Apr</text>
<line x1="709.3" y1="1534.6" x2="709.3" y2="1524.1" stroke="#262626" stroke-width="1.8"/>
<line x1="709.3" y1="1168.7" x2="709.3" y2="1179.2" stroke="#262626" stroke-width="1.8"/>
<text x="709.3" y="1580.6" text-anchor="middle" font-size="36.0" fill="#262626">May</text>
<line x1="916.1" y1="1534.6" x2="916.1" y2="1524.1" stroke="#262626" stroke-width="1.8"/>
<line x1="916.1" y1="1168.7" x2="916.1" y2="1179.2" stroke="#262626" stroke-width="1.8"/>
<text x="916.1" y="1580.6" text-anchor="middle" font-size="36.0" fill="#262626">Jun</text>
<text x="1116.2" y="1580.6" text-anchor="middle" font-size="36.0" fill="#262626">Jul</text>
<text x="612.6" y="1630.6" text-anchor="middle" font-size="38.5" fill="#262626">Month</text>
<line x1="109.0" y1="1534.6" x2="120.0" y2="1534.6" stroke="#344EA2" stroke-width="1.8"/>
<text x="97.6" y="1548.5" text-anchor="end" font-size="36.0" fill="#344EA2">4</text>
<line x1="109.0" y1="1443.1" x2="120.0" y2="1443.1" stroke="#344EA2" stroke-width="1.8"/>
<text x="97.6" y="1457.0" text-anchor="end" font-size="36.0" fill="#344EA2">6</text>
<line x1="109.0" y1="1351.6" x2="120.0" y2="1351.6" stroke="#344EA2" stroke-width="1.8"/>
<text x="97.6" y="1365.5" text-anchor="end" font-size="36.0" fill="#344EA2">8</text>
<line x1="109.0" y1="1260.1" x2="120.0" y2="1260.1" stroke="#344EA2" stroke-width="1.8"/>
<text x="97.6" y="1274.0" text-anchor="end" font-size="36.0" fill="#344EA2">10</text>
<line x1="109.0" y1="1168.7" x2="120.0" y2="1168.7" stroke="#344EA2" stroke-width="1.8"/>
<text x="97.6" y="1182.6" text-anchor="end" font-size="36.0" fill="#344EA2">12</text>
<line x1="1116.2" y1="1534.6" x2="1105.2" y2="1534.6" stroke="#344EA2" stroke-width="1.8"/>
<line x1="1116.2" y1="1443.1" x2="1105.2" y2="1443.1" stroke="#344EA2" stroke-width="1.8"/>
<line x1="1116.2" y1="1351.6" x2="1105.2" y2="1351.6" stroke="#344EA2" stroke-width="1.8"/>
<line x1="1116.2" y1="1260.1" x2="1105.2" y2="1260.1" stroke="#344EA2" stroke-width="1.8"/>
<line x1="1116.2" y1="1168.7" x2="1105.2" y2="1168.7" stroke="#344EA2" stroke-width="1.8"/>
<line x1="109.0" y1="1167.7" x2="109.0" y2="1535.5" stroke="#344EA2" stroke-width="1.9"/>
<line x1="1116.2" y1="1167.7" x2="1116.2" y2="1535.5" stroke="#344EA2" stroke-width="1.9"/>
<text transform="translate(41.9 1351.6) rotate(-90)" text-anchor="middle" font-size="38.5" fill="#344EA2">Seawater temperature (<tspan dy="-19.3" font-size="31">o</tspan><tspan dy="19.3">C)</tspan></text>
<text x="20.0" y="1096.4" font-size="29" font-weight="bold" fill="#000">C</text>
</svg>
</body></html>
